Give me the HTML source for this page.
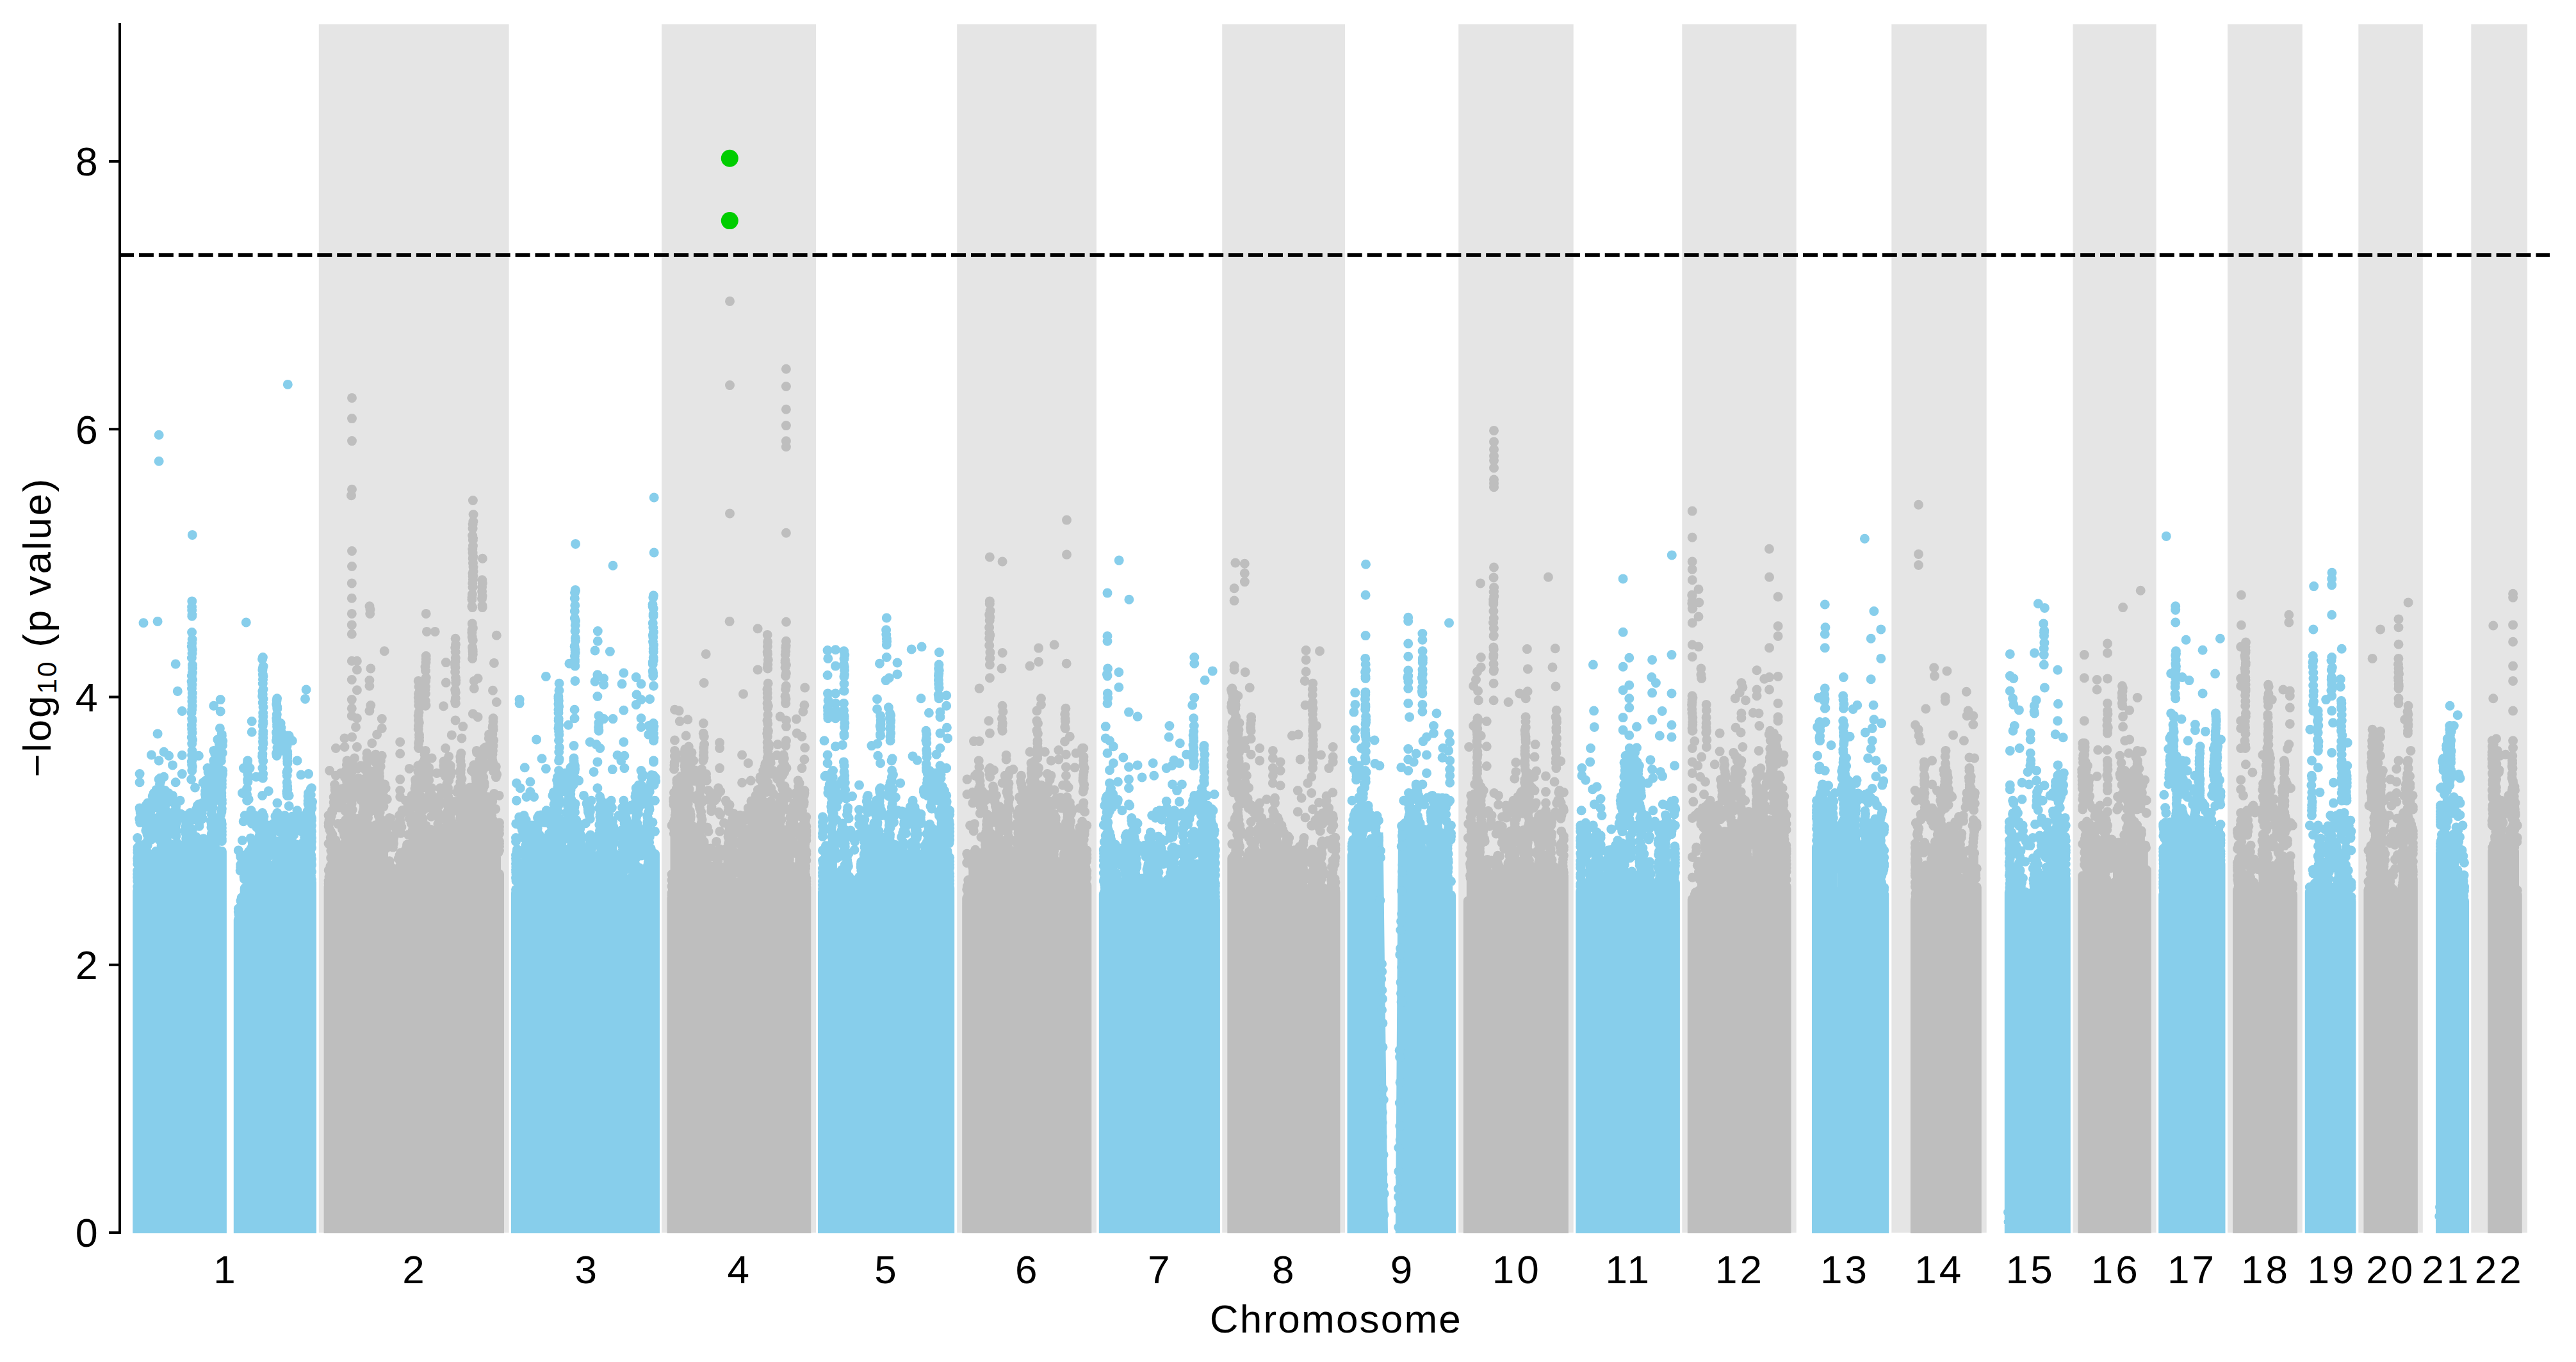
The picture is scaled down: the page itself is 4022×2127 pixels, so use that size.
<!DOCTYPE html>
<html><head><meta charset="utf-8"><title>Manhattan plot</title>
<style>html,body{margin:0;padding:0;background:#fff;overflow:hidden}svg{display:block}</style></head>
<body>
<svg width="4022" height="2127" viewBox="0 0 4022 2127">
<defs><clipPath id="ax"><rect x="187" y="38" width="3794" height="1888"/></clipPath></defs>
<rect width="4022" height="2127" fill="#fff"/>
<rect x="497.8" y="38" width="296.8" height="1887" fill="#E5E5E5"/>
<rect x="1033" y="38" width="241" height="1887" fill="#E5E5E5"/>
<rect x="1494.2" y="38" width="217.8" height="1887" fill="#E5E5E5"/>
<rect x="1908.2" y="38" width="191.8" height="1887" fill="#E5E5E5"/>
<rect x="2277.2" y="38" width="179.5" height="1887" fill="#E5E5E5"/>
<rect x="2626.3" y="38" width="178.4" height="1887" fill="#E5E5E5"/>
<rect x="2953.3" y="38" width="148.4" height="1887" fill="#E5E5E5"/>
<rect x="3236.5" y="38" width="130.1" height="1887" fill="#E5E5E5"/>
<rect x="3478" y="38" width="116.8" height="1887" fill="#E5E5E5"/>
<rect x="3682.3" y="38" width="100.5" height="1887" fill="#E5E5E5"/>
<rect x="3858.3" y="38" width="87.7" height="1887" fill="#E5E5E5"/>
<g clip-path="url(#ax)" fill="none" stroke-linecap="round" stroke-width="15">
<path stroke="#87CEEB" d="M214.7 1391V1940M215.1 1323.6h0M214.9 1327.3h0M214.9 1331.2h0M215.5 1336.4h0M214.7 1340.2h0M215 1344h0M214.8 1349.3h0M216.6 1355.2h0M214.7 1359.7h0M214.7 1365.6h0M214.7 1370.6h0M214.8 1375.9h0M216.6 1379.9h0M214.7 1384.7h0M216.1 1389.8h0M214.7 1394.4h0M214.7 1400.2h0M214.7 1404.6h0M219.8 1383.6V1940M219.3 1269.3h0M219.6 1274.8h0M217.8 1278.8h0M218.7 1284.6h0M218.3 1319.4h0M219.7 1323.6h0M217.6 1328.9h0M220.1 1333.6h0M219.8 1340h0M217.8 1345.3h0M221.4 1351.5h0M219.3 1357.4h0M217.8 1361.2h0M218.3 1364.9h0M217.6 1369.5h0M219.2 1373.4h0M220.3 1377h0M219.1 1380.9h0M221.3 1385.5h0M224.8 1378.2V1940M223.1 1368.7h0M224.8 1373.6h0M222.6 1380h0M225.5 1386.3h0M229.9 1367.7V1940M228.5 1257h0M231.2 1262.8h0M229.5 1269.3h0M228.4 1275.6h0M231.7 1279.5h0M231.3 1285.4h0M229.2 1291.8h0M227.8 1297h0M230 1303.4h0M231.5 1309.7h0M228.8 1315.7h0M230.3 1320.1h0M228.3 1324.3h0M229.7 1330.6h0M229.5 1335.8h0M230 1342.1h0M229.6 1347.1h0M231.2 1351.2h0M230.9 1355.2h0M230 1360.4h0M228.2 1365.5h0M228.9 1370.7h0M230.2 1376.5h0M235 1369.1V1940M233.6 1258.1h0M236.3 1262.4h0M235.1 1267.5h0M234.1 1297.9h0M236.9 1301.8h0M233.9 1307.2h0M236 1311.2h0M237 1353.3h0M233.8 1357.1h0M234 1363.3h0M236.1 1369.5h0M235.7 1375.4h0M240 1357.8V1940M238.2 1243.3h0M239.7 1247h0M240.1 1277.9h0M238.5 1282.1h0M239.2 1285.8h0M239.1 1290.2h0M239.4 1295.2h0M237.9 1298.7h0M238.7 1304.4h0M241.5 1335.4h0M239.6 1341.1h0M238.4 1345.6h0M239 1349.3h0M241.5 1353.3h0M239.1 1359.4h0M239.8 1363.6h0M245.1 1340.8V1940M244 1233.4h0M244.5 1239.8h0M245 1243.3h0M245.1 1248.3h0M243.3 1251.8h0M243 1256.5h0M245.5 1260.9h0M246.6 1291.5h0M246.1 1297.7h0M245.2 1303.6h0M243.5 1329.5h0M246.6 1334.1h0M245.6 1339.3h0M242.9 1344.8h0M245.1 1350.7h0M250.9 1220.1h0M249.5 1224.8h0M250.9 1231h0M249.8 1237.9h0M250.2 1358.8V1940M248.8 1239.3h0M250.8 1244.6h0M248.5 1250.1h0M252.2 1255.1h0M250.1 1258.9h0M250 1264.5h0M248.3 1275.5h0M248.3 1280.4h0M251.2 1301.9h0M250.6 1306.1h0M248.5 1311.5h0M251.8 1316.1h0M252.1 1320.8h0M251.2 1326.4h0M248.5 1331.1h0M249.4 1335.6h0M248.8 1340.3h0M249.1 1343.8h0M251.8 1347.5h0M251.3 1351.3h0M248.2 1357.3h0M248.6 1362.8h0M255.2 1342.8V1940M256.2 1255.5h0M255.9 1260.4h0M257.1 1264.7h0M254.5 1268.6h0M257.3 1273h0M254.3 1277.3h0M253.8 1282.5h0M257 1286.4h0M257 1291.4h0M253.6 1297.9h0M254.5 1302h0M254.2 1305.8h0M256.3 1311h0M255.3 1315.7h0M253.3 1320.4h0M253.6 1324.7h0M256.8 1329.7h0M254.1 1333.8h0M257.2 1338.5h0M253.1 1344.6h0M257 1348.2h0M253 1353.1h0M260.3 1366.1V1940M261.5 1245.4h0M262.4 1249.6h0M261.2 1253.4h0M260.6 1266.7h0M262.3 1270.3h0M260 1275.7h0M259.4 1281.5h0M259.2 1287.8h0M260.5 1293.7h0M259.5 1300.2h0M260.4 1306.2h0M259.9 1311.3h0M258.9 1316.8h0M258.4 1323h0M259.7 1327.1h0M261.2 1332.1h0M258.1 1336.7h0M258.4 1341.1h0M261.5 1346.1h0M259.3 1350.1h0M260.8 1356.3h0M260.2 1361.6h0M260.7 1367.9h0M265.4 1344.7V1940M263.4 1238.8h0M263.2 1279.6h0M267.4 1283.9h0M265.2 1302.7h0M265 1317.6h0M263.3 1323.5h0M267.2 1327.1h0M267.1 1331.4h0M267.4 1335.9h0M266.3 1341.3h0M263.2 1345.7h0M265.9 1351.5h0M264.2 1357.8h0M267.4 1362.7h0M270.4 1358.1V1940M268.3 1244.1h0M271.3 1250.4h0M272 1254.3h0M271 1286.6h0M272.6 1290.8h0M268.8 1297.2h0M269.3 1331.3h0M269.3 1339.7h0M271.1 1344h0M268.4 1347.8h0M269.2 1351.3h0M272.1 1356.1h0M270.9 1360.3h0M268.5 1366.3h0M275.5 1364.2V1940M274.9 1258.5h0M274.4 1262.4h0M274.2 1267.7h0M276.3 1271.2h0M274.2 1275.3h0M273.6 1281.2h0M275.7 1285h0M274 1290.4h0M274.5 1296h0M274.7 1300.4h0M275.1 1305.6h0M276.5 1316.3h0M277.3 1320.4h0M275.1 1325.2h0M274 1331.3h0M276.1 1334.9h0M276 1341.1h0M273.9 1345.7h0M277.4 1350.1h0M276.8 1353.9h0M273.8 1360.3h0M275.4 1366.6h0M275 1370.3h0M280.5 1376.5V1940M282.5 1271.2h0M279 1275.2h0M282.7 1326.2h0M281.1 1331.1h0M282.4 1360h0M278.7 1364.4h0M281.1 1379.2h0M285.6 1371.3V1940M287.2 1337.4h0M285.7 1343.8h0M284.9 1368.9h0M286.1 1372.6h0M285.7 1379h0M290.7 1403.9V1940M289.1 1280h0M290.7 1285.3h0M289.5 1291.5h0M288.5 1297h0M290.1 1301.5h0M291.1 1305.7h0M290.6 1309.8h0M288.9 1317.9h0M291.9 1323.4h0M288.5 1328.1h0M290 1333.5h0M292.6 1338.9h0M292.5 1344.6h0M290.3 1348.3h0M291.9 1352.5h0M292.6 1356h0M291.2 1359.9h0M292.1 1365h0M289.8 1369h0M291.9 1372.6h0M292.2 1378.3h0M291.7 1384h0M288.9 1388.9h0M290 1393.1h0M292.2 1398.8h0M290.9 1404.5h0M295.7 1392.5V1940M295.8 1283.4h0M293.7 1329.5h0M297.4 1335.9h0M296.1 1341.7h0M293.7 1346.9h0M294.3 1350.8h0M293.7 1357.2h0M293.7 1361.1h0M297.3 1364.8h0M297.7 1370.6h0M297.4 1375.7h0M295.2 1381.5h0M293.7 1385.7h0M296.9 1397.8h0M300.8 1377V1940M300 1271.4h0M299.7 1276.1h0M300.2 1280.5h0M300.4 1295.3h0M300.1 1300.1h0M299.6 1305.7h0M302.2 1311.8h0M299.5 1315.8h0M298.6 1321.6h0M302.1 1326.6h0M300.1 1330.7h0M302.8 1336.6h0M301.7 1341h0M301.4 1346h0M301.7 1349.7h0M300.2 1355.6h0M302.5 1360.3h0M298.7 1364.1h0M302.6 1368.2h0M302.5 1373.2h0M301 1377.4h0M301.5 1383.1h0M299.3 1387.7h0M301.9 1393.7h0M305.9 1384.4V1940M306.5 1263.8h0M304.9 1269.4h0M306.6 1307.2h0M304.3 1311.3h0M304.9 1315.7h0M307.4 1328.8h0M308 1333.6h0M304.8 1338h0M304.7 1343.7h0M306.3 1349.8h0M306.6 1355.2h0M306.5 1360.7h0M304.5 1365.9h0M304.8 1369.8h0M304.7 1375.4h0M304.4 1380.1h0M303.8 1386.1h0M310.9 1379.1V1940M312.2 1260.6h0M313 1265.3h0M309.5 1268.9h0M311.3 1279.8h0M311 1284.9h0M311 1290.3h0M309.9 1312.3h0M310.6 1317h0M310.3 1321.8h0M312 1326.1h0M309.7 1332.4h0M309.7 1338.3h0M312.3 1342.2h0M311.2 1347.6h0M310.3 1351.8h0M312.3 1357.2h0M311.2 1362.1h0M310.3 1366h0M310.4 1372h0M309.6 1376.3h0M310 1379.8h0M310.9 1384h0M316 1377.7V1940M315.5 1259.2h0M315.2 1262.9h0M315.3 1269.2h0M314.7 1274.5h0M316.5 1278.2h0M317.8 1309.8h0M315.1 1315h0M314.2 1319.9h0M314.3 1326h0M317.4 1329.8h0M315.9 1334.7h0M314.9 1341h0M317 1345h0M316.9 1348.9h0M315.9 1353.9h0M315.4 1364.2h0M314 1369.7h0M315.9 1381.3h0M320.8 1219.3h0M321.6 1223.7h0M321.2 1228.7h0M320.6 1235.5h0M320.4 1240.2h0M321.1 1357.7V1940M321.1 1243.8h0M322.4 1250.2h0M320.2 1254.7h0M322.3 1260h0M319.7 1322.7h0M322.9 1326.3h0M322.5 1331.7h0M320 1337.6h0M320.3 1342h0M323 1346.8h0M319 1350.5h0M321.4 1354.3h0M318.9 1360.6h0M323 1365.2h0M324.9 1199.8h0M325.1 1205.7h0M326.7 1209.7h0M326.8 1222.8h0M325.2 1227.5h0M326.8 1231.6h0M324.9 1238.2h0M326 1244.1h0M326.1 1357.3V1940M324 1249h0M328.2 1316.6h0M332.2 1197.8h0M332.3 1210h0M332.4 1216.4h0M331.4 1221.4h0M332 1227.8h0M331.5 1234.6h0M330.3 1240.6h0M332.1 1245.4h0M331.2 1353.9V1940M330.8 1247.6h0M332.7 1252.7h0M329.9 1257.1h0M332.5 1261.3h0M330.6 1265.6h0M330.1 1271.5h0M332.8 1277.7h0M329.4 1282.4h0M330.2 1286.8h0M329.9 1292.1h0M331.6 1298.2h0M330.2 1302.4h0M331.6 1306.2h0M332.7 1311.5h0M329.2 1320.6h0M331.1 1325.3h0M332.8 1331.3h0M332.1 1336.7h0M330 1340.5h0M331.2 1344.2h0M330.6 1348.3h0M329.8 1352.5h0M329.3 1358.8h0M333 1364h0M332.3 1368.3h0M335.7 1177.4h0M337 1181.4h0M336.7 1187.2h0M335.9 1192.6h0M336.1 1197.7h0M337.5 1210.8h0M337.3 1217.2h0M335.9 1221.4h0M337.6 1227.7h0M334.8 1234.5h0M335.1 1243.7h0M336.3 1358.8V1940M336.5 1246.4h0M336.2 1286.1h0M335 1290.5h0M338 1305.3h0M335.4 1309h0M337.6 1315.4h0M334.1 1320h0M334.9 1326h0M335 1330.8h0M334.9 1336h0M334.9 1341.8h0M336.7 1345.5h0M335 1350.5h0M337.6 1355.9h0M334.4 1361.1h0M337.2 1366.8h0M335.5 1370.5h0M339.9 1154.9h0M342.5 1161.6h0M342.3 1166.4h0M340.9 1171.5h0M341.4 1177.3h0M340.2 1182.6h0M342.4 1188.8h0M341 1193.7h0M342.5 1200h0M341.4 1206.8h0M341.3 1328.6V1940M341.9 1212.9h0M341.6 1216.9h0M343.2 1223.2h0M342.8 1228.9h0M340.2 1234.4h0M339.5 1239.2h0M341.2 1243.2h0M343.4 1287.3h0M340.9 1290.9h0M346.2 1146.5h0M347.8 1157.1h0M347.5 1164h0M347.3 1175.7h0M345.3 1179.8h0M345 1183.9h0M345.4 1188.2h0M347.7 1203.4h0M347.6 1208.7h0M346.4 1329.4V1940M346.4 1212.9h0M346.4 1218.9h0M346.4 1224.3h0M346.4 1229.2h0M345.3 1234.1h0M345.9 1238.3h0M345.8 1243.5h0M346.4 1249.6h0M346.4 1254.6h0M346.4 1263h0M345.9 1267.8h0M344.7 1272.6h0M345.7 1282.5h0M346.4 1287h0M346.4 1293.1h0M346.4 1298.8h0M346.4 1303.7h0M346.4 1310h0M346.4 1313.5h0M214.7 1308.6h0M218.9 1265.8h0M230.6 1254.1h0M240.3 1238.5h0M250 1215.2h0M257.8 1234.6h0M269.5 1242.4h0M281.2 1250.2h0M288.9 1273.5h0M296.7 1269.6h0M308.4 1258h0M316.2 1254.1h0M324 1199.6h0M333.7 1187.9h0M343.4 1137.4h0M346.4 1149h0M299.8 938.9h0M299.6 947.9h0M299.7 952.9h0M300 959.9h0M299.8 962.3h0M299.6 987.5h0M300.2 998.5h0M299.7 1004.5h0M299.3 1009.5h0M300.3 1014.5h0M300 1020.5h0M299.4 1027.5h0M300.5 1038.5h0M300.6 1043.5h0M300.4 1050.5h0M299.4 1055.5h0M300.5 1061.5h0M299.1 1064.5h0M299.9 1069.5h0M299.5 1075.5h0M300.3 1082.5h0M300 1089.5h0M299.9 1095.5h0M300.2 1102.5h0M299.7 1108.5h0M299.1 1113.5h0M299.6 1122.5h0M300.1 1125.5h0M299.4 1132.5h0M299.6 1138.5h0M300.1 1144.5h0M299.3 1151.5h0M300.6 1155.5h0M299.7 1161.5h0M300 1172.5h0M299.6 1179.5h0M300.2 1186.5h0M299.3 1189.5h0M299.6 1194.5h0M300.4 1197.5h0M299.8 1203.5h0M224 972.8h0M246.1 970.4h0M274.2 1037h0M277.3 1079.4h0M284.3 1110.5h0M246.1 1145.9h0M236.4 1179h0M248.1 1187.9h0M255.9 1174.3h0M263.7 1180.2h0M269.5 1194.9h0M284.3 1179.4h0M284.3 1208.6h0M310.4 1180.2h0M218.1 1208.6h0M218.1 1221.8h0M274.2 1221.8h0M298.7 1217.1h0M304.5 1230h0M317 1222.2h0M255.9 1213.2h0M248.1 1217.1h0M333.7 1102.3h0M344.2 1092.6h0M344.2 1110.9h0M333.7 1172.4h0M230.6 1254.9h0M218.1 1261.9h0M310.4 1256h0M318.1 1254.9h0M248.1 679.3h0M248.1 720.3h0M300.3 835.4h0"/>
<path stroke="#87CEEB" d="M372.3 1436.1V1940M372.3 1419h0M372.3 1424h0M372.8 1428.1h0M372.3 1438h0M377.3 1401.8V1940M375.5 1335h0M375.8 1338.5h0M378.9 1344.3h0M375.7 1350.5h0M375.7 1354.6h0M375.2 1359.7h0M376 1406.8h0M382.2 1387.1V1940M380.2 1282.7h0M380.6 1359.2h0M381.1 1365.1h0M381.1 1369.2h0M381.5 1372.8h0M387.2 1387.4V1940M387 1279.3h0M388.7 1329.5h0M385.5 1334h0M387.2 1339.2h0M386.4 1343.6h0M388.1 1347.8h0M389 1352.1h0M386.2 1364h0M387.9 1367.6h0M387.9 1372.2h0M388.7 1377.8h0M385.8 1382.3h0M385.7 1395.5h0M386.7 1399.6h0M387.8 1403.2h0M392.2 1389.7V1940M393.3 1286.2h0M391.4 1308.9h0M394 1314.7h0M394.4 1319.5h0M392.3 1324.8h0M392.2 1334.2h0M392.7 1339.8h0M390.9 1344.8h0M393.4 1350.3h0M394.2 1355.3h0M390.7 1361.3h0M391 1365.3h0M390.7 1369.5h0M392.8 1374.1h0M392.1 1378h0M390 1382.9h0M392.8 1388.5h0M393.1 1394.1h0M397.1 1391.5V1940M399.3 1324h0M398.1 1329.8h0M395.4 1336.2h0M395.8 1341.2h0M399 1346.3h0M399 1351.8h0M396 1357.2h0M398.3 1361.1h0M395.7 1367.1h0M402.1 1390.9V1940M400.1 1277.2h0M400.8 1292h0M402.7 1312.8h0M400.1 1341.2h0M404.1 1350.5h0M401.6 1354.6h0M402.9 1358.1h0M402.3 1363.3h0M402.2 1368.3h0M401.7 1373.7h0M403.5 1379h0M402.8 1384.7h0M401.5 1389.9h0M403.7 1395.4h0M407.1 1397.8V1940M405.2 1277.5h0M407.4 1283h0M407.3 1287.8h0M405.7 1292.5h0M405.4 1298.6h0M405.3 1304.7h0M407 1309.8h0M407.4 1315h0M407.4 1318.8h0M405.2 1322.6h0M409.2 1338.3h0M408.5 1344h0M409.1 1348.6h0M407.5 1366h0M408 1370.2h0M408.1 1391.6h0M407.9 1396.1h0M412 1386.4V1940M412 1275.1h0M411.4 1281h0M410 1285.5h0M411.4 1291.7h0M414.2 1297.3h0M412 1302.1h0M410.5 1305.8h0M412.8 1312.1h0M410.9 1318.1h0M411 1324.6h0M414.2 1329.5h0M410 1334.4h0M412.6 1340.4h0M413.5 1345.9h0M411.8 1352.3h0M412.1 1356.5h0M411.2 1361h0M410.8 1364.9h0M411.3 1370.9h0M411.2 1375.8h0M410.8 1380.3h0M412.5 1384.6h0M410.5 1390h0M414.2 1394.6h0M417 1399.7V1940M417.3 1289.7h0M416.3 1342.8h0M414.8 1361h0M416.7 1367.1h0M415.5 1372.4h0M416.1 1376.1h0M418.9 1381.7h0M415.6 1391.5h0M422 1406V1940M423.1 1294.4h0M419.8 1299.7h0M423.7 1303.4h0M420.2 1307.7h0M420.3 1312h0M423.3 1315.6h0M419.8 1320.8h0M419.8 1325.1h0M421.2 1329.6h0M421.9 1335.7h0M422.4 1351h0M421.1 1367.6h0M421.6 1373.1h0M420.4 1378.7h0M422.1 1382.3h0M421.3 1388.3h0M423.6 1392.8h0M422.5 1402h0M419.9 1407.9h0M426.9 1399V1940M427 1286h0M424.8 1292.3h0M428.1 1297.2h0M425.3 1309.8h0M427.2 1313.5h0M425.5 1322.1h0M428.1 1331.8h0M428.7 1350.4h0M425 1354.3h0M428.5 1359.7h0M426.5 1363.4h0M427.5 1369.6h0M425.9 1373.8h0M425.6 1378.6h0M426 1384.4h0M427.2 1390.9h0M428.5 1394.8h0M428.3 1399.1h0M426.9 1403.5h0M431.9 1390.6V1940M429.9 1274.8h0M433.1 1286.4h0M430.3 1291.2h0M433.2 1297.5h0M432.3 1344.8h0M432.9 1350h0M430 1353.6h0M432.1 1367.4h0M434.1 1372.8h0M433.9 1377.9h0M433.4 1381.6h0M430 1388h0M430.9 1393.6h0M436.8 1377.9V1940M434.7 1273.2h0M437 1278.7h0M439 1283.9h0M436.4 1290h0M438.9 1294.4h0M436.5 1299.1h0M437.3 1312.8h0M435.5 1317.5h0M438.1 1321.3h0M437.7 1327.5h0M437.1 1332h0M434.7 1336.4h0M436.9 1342.2h0M437.8 1357.4h0M437.3 1362.1h0M437.4 1367.6h0M437.3 1372.7h0M436.7 1377h0M436.7 1382.7h0M438.7 1386.9h0M437 1391.9h0M441.8 1382.4V1940M443.8 1275.6h0M443.6 1281.7h0M443.4 1286.2h0M442.7 1291h0M442.5 1295.6h0M442.5 1300.7h0M441.6 1305h0M442.8 1308.8h0M439.6 1312.8h0M442.5 1316.7h0M443.1 1322.1h0M439.6 1326.4h0M441 1330.6h0M440.7 1335.8h0M441.9 1340.1h0M440.2 1345.1h0M443 1351.4h0M441.3 1357.7h0M443.9 1361.3h0M440.7 1366.1h0M440.2 1370.3h0M443.4 1375.7h0M440.5 1380.9h0M441.6 1387h0M443.7 1391.7h0M440.1 1397.1h0M446.8 1402V1940M448.5 1283.6h0M446.8 1288.5h0M447.8 1294.4h0M447.6 1299.1h0M445.5 1310.1h0M447.9 1317.7h0M447.6 1322.8h0M444.8 1328.5h0M447.1 1334.1h0M446 1346.7h0M448.9 1351.7h0M446 1356h0M445.9 1370.2h0M448.3 1376.3h0M444.8 1380.6h0M446.6 1385.7h0M446.2 1390.7h0M448.6 1396.6h0M446 1401.8h0M447.1 1406.9h0M451.7 1399.8V1940M453.8 1278.7h0M452.7 1284h0M450.3 1288.1h0M450.1 1294.2h0M452.7 1305.3h0M450.5 1311h0M450.5 1340.9h0M451.5 1346.9h0M450.2 1357.9h0M453.4 1362.8h0M452.7 1368.7h0M452 1373.1h0M453.8 1382.7h0M450.8 1387.2h0M450.4 1392.7h0M451 1396.6h0M451.1 1401.3h0M456.7 1392.3V1940M456 1275.3h0M458.6 1281.1h0M458.3 1284.8h0M454.9 1290.1h0M458.4 1294h0M458.6 1300.1h0M458.8 1303.7h0M456 1313.7h0M457.8 1318.5h0M455.8 1322.6h0M454.9 1326.3h0M457.1 1331.4h0M456.8 1336.3h0M455.1 1340.1h0M456.2 1345.3h0M455.3 1350.8h0M458.2 1357.2h0M455.2 1363.3h0M455 1367.1h0M455 1372h0M456.9 1377h0M455.4 1382h0M455.1 1386.7h0M456.7 1390.9h0M458.7 1397.1h0M461.7 1391.5V1940M460.2 1277h0M462.9 1319h0M459.8 1323h0M460.3 1328.8h0M462.9 1333.2h0M460.1 1336.8h0M463 1341.8h0M463.5 1347.6h0M459.8 1353.2h0M459.6 1356.7h0M459.8 1361.8h0M463.3 1367.1h0M461.3 1370.8h0M462 1376.2h0M462.9 1382.1h0M462.5 1387.1h0M461.5 1391.5h0M460.2 1397.4h0M466.6 1396.6V1940M466.6 1352.4h0M468 1355.9h0M466.5 1360.7h0M466 1365.2h0M465.7 1371.2h0M467.5 1375h0M468 1379.8h0M464.6 1383.7h0M465.6 1389.6h0M465.4 1396h0M471.6 1398.8V1940M473.3 1276.1h0M473.2 1282h0M469.4 1288.4h0M470.5 1294.5h0M472.6 1299.7h0M472.7 1316.4h0M471.7 1320.7h0M470.7 1325.2h0M472.4 1329.6h0M471.1 1354.3h0M470.1 1358.7h0M473.6 1364h0M473.5 1369h0M473.4 1373.3h0M476.6 1392.3V1940M476.9 1278.8h0M475.9 1284.7h0M478.2 1288.7h0M475.1 1292.7h0M475.7 1297.1h0M475.7 1308.1h0M475.8 1314.5h0M475.5 1319.3h0M478.6 1324h0M478.4 1328.3h0M477.2 1333.1h0M475 1338.9h0M476.8 1344.7h0M475.6 1350.2h0M476.7 1354.8h0M475.5 1359.2h0M478 1365h0M478.5 1370.2h0M474.7 1374.5h0M477.4 1379.6h0M474.9 1384.4h0M478.6 1388.8h0M481.2 1243.6h0M481.1 1250.4h0M481.1 1255.6h0M481.5 1379.2V1940M480.3 1266.5h0M481.9 1275.8h0M480.3 1280h0M482.3 1285.6h0M480.3 1291.7h0M479.9 1297.8h0M483.6 1302.1h0M480.6 1308.4h0M481 1313.8h0M482.7 1320h0M482 1325.3h0M480.9 1331.5h0M479.7 1336.8h0M479.9 1340.3h0M481.3 1346.7h0M481.5 1352.5h0M482 1358.9h0M481.4 1362.5h0M483.5 1367.5h0M480.3 1373.9h0M480.6 1379h0M482.5 1385.4h0M485.8 1231.7h0M485.3 1241.6h0M487.6 1252h0M486.6 1256.2h0M486.9 1262.1h0M486.5 1377.4V1940M485.1 1266.3h0M485 1271.7h0M486.5 1277.4h0M486.5 1281h0M485.2 1286.7h0M485.6 1292.5h0M486.5 1298.3h0M485.9 1303.7h0M486.5 1308.4h0M486.5 1314.2h0M485.7 1319.6h0M486.5 1324.1h0M484.4 1329.7h0M485.8 1335.3h0M486.5 1341.4h0M485.8 1346.4h0M486.5 1350.8h0M485.4 1356.9h0M486.5 1361.5h0M485.5 1367.9h0M486.5 1373.8h0M486.5 1379.5h0M484.8 1384.3h0M372.3 1328h0M378.4 1312.5h0M382.3 1273.5h0M392.1 1265.8h0M397.9 1273.5h0M409.6 1269.6h0M421.2 1289.1h0M432.9 1269.6h0M444.6 1273.5h0M452.4 1277.4h0M464 1265.8h0M475.7 1273.5h0M481.6 1238.5h0M486.5 1230.7h0M486.5 1289.1h0M410.4 1026.5h0M409.6 1029.5h0M411.1 1040.5h0M410.3 1043.5h0M409.9 1046.5h0M410.4 1053.5h0M410.9 1056.5h0M410.5 1061.5h0M410.3 1067.5h0M411 1076.5h0M409.9 1079.5h0M410.2 1084.5h0M409.7 1087.5h0M411.1 1091.5h0M410.3 1097.5h0M411 1104.5h0M410.7 1113.5h0M410.8 1119.5h0M410.7 1126.5h0M410.9 1129.5h0M410.2 1133.5h0M410.9 1142.5h0M410.7 1146.5h0M410.7 1152.5h0M410.5 1158.5h0M411 1161.5h0M410.2 1168.5h0M409.9 1177.5h0M409.6 1181.5h0M410.8 1188.5h0M409.9 1199.5h0M410.7 1208.5h0M409.9 1211.5h0M410.4 1215.2h0M432.6 1090.7h0M432.1 1093.7h0M431.7 1099.7h0M432.6 1103.7h0M432.8 1106.7h0M432.3 1115.7h0M431.8 1121.7h0M432.1 1125.7h0M432.6 1131.7h0M432.6 1134.7h0M431.5 1143.7h0M432.6 1147.7h0M432.3 1151.7h0M431.5 1156.7h0M432.9 1167.7h0M432.8 1173.7h0M431.5 1176.7h0M432.2 1179.7h0M432.1 1180.2h0M438.1 1129.6h0M438.9 1136.6h0M439.2 1143.6h0M438.1 1150.6h0M439 1153.6h0M438.4 1160.6h0M439 1166.6h0M438.8 1172.4h0M448.9 1149h0M448 1152h0M449 1159h0M448 1165h0M448.7 1174h0M448.8 1178h0M448.7 1181h0M448.6 1184h0M448.8 1189h0M448.9 1192h0M449.1 1203h0M447.8 1206h0M448.2 1211h0M448.2 1222h0M448.7 1228h0M448.9 1233h0M447.8 1236h0M447.9 1239h0M448.5 1242.4h0M386.7 1187.9h0M386.3 1191.9h0M387 1197.9h0M386.3 1204.9h0M386.9 1208.9h0M386.6 1217.9h0M386.9 1220.9h0M385.5 1231.9h0M385.5 1240.9h0M385.6 1249.9h0M386.2 1250.2h0M384.3 972h0M393.2 1126.5h0M393.2 1143.2h0M478.1 1077h0M476.5 1091.4h0M451.2 1149h0M456.3 1156.8h0M464 1187.9h0M469.9 1210.1h0M481.6 1208.6h0M380.4 1199.6h0M390.1 1199.6h0M399.8 1213.2h0M409.6 1242.4h0M419.3 1235.4h0M378.4 1238.5h0M388.2 1248.2h0M451.2 1242.4h0M432.9 1254.1h0M451.2 1258.8h0M485.4 1231.9h0M449.3 600.4h0"/>
<path stroke="#BEBEBE" d="M513.1 1384.3V1940M514 1281h0M513.1 1285.2h0M513.1 1289.7h0M515 1296.1h0M513.1 1317.5h0M513.2 1359.1h0M515 1364.5h0M513.9 1369.2h0M513.1 1375.6h0M513.1 1380h0M515.3 1384.3h0M513.9 1388.3h0M514.2 1393.9h0M513.1 1398.1h0M518.1 1377.4V1940M518.8 1268.8h0M517.3 1274.1h0M516 1277.8h0M516.4 1282.4h0M516.4 1298.7h0M519 1303.2h0M516.3 1308h0M519.6 1314.3h0M516.9 1317.9h0M518.9 1323.9h0M516.8 1328.3h0M518.8 1334.5h0M516.7 1339.7h0M520.3 1343.7h0M518.4 1348.3h0M516 1352.5h0M520.2 1358.6h0M516.5 1363.1h0M517.5 1369h0M517 1374.1h0M517.6 1380h0M516.8 1385.8h0M517.5 1389.9h0M523.2 1348.6V1940M522.6 1225.6h0M523.1 1230h0M523.1 1233.8h0M525 1238.5h0M521.2 1244.8h0M522.9 1248.8h0M521.2 1253.1h0M521.9 1258.1h0M524 1312.2h0M523.2 1317.2h0M523.8 1334.3h0M521.6 1340.1h0M524.9 1344.7h0M524.7 1349.2h0M528.2 1333.9V1940M530.2 1245.2h0M528.2 1249.4h0M530.3 1255.7h0M529.6 1261.1h0M527.6 1286.6h0M527 1326.5h0M528 1330.5h0M533.2 1337V1940M534.3 1231.7h0M531.3 1235.7h0M533.9 1240.3h0M533 1246h0M534 1251h0M533.5 1255.6h0M532.1 1260.4h0M534 1286h0M535.1 1290.1h0M534.4 1295h0M538.2 1322V1940M539.9 1203.6h0M538.1 1209h0M538.4 1213.8h0M536.3 1261.9h0M539.4 1266.8h0M539.5 1280.9h0M537.1 1286.9h0M540 1290.9h0M536.1 1296.8h0M536.9 1300.5h0M537.6 1305.4h0M539.9 1309.8h0M536.3 1318.6h0M543.3 1299.3V1940M541.3 1194.2h0M542.8 1198.2h0M544.6 1203.8h0M543.6 1209.7h0M544.6 1213.8h0M541.5 1219.7h0M541.7 1225.2h0M541.5 1229.2h0M542.2 1234.6h0M544.2 1239.4h0M542 1243h0M544.1 1247.4h0M541.8 1262.3h0M544.7 1266.5h0M542.4 1278h0M543.7 1283.7h0M543.3 1287.5h0M544.9 1291.4h0M541.6 1296.3h0M542.7 1301.3h0M544.5 1307h0M542.8 1310.8h0M544 1315.7h0M548.3 1302.5V1940M548.4 1188.7h0M547.5 1194.5h0M546.5 1198.1h0M549.9 1204.4h0M546.4 1210.7h0M549 1216.3h0M547.6 1222.4h0M549.2 1227.4h0M546.2 1233.1h0M548.4 1239.3h0M549.7 1244.9h0M547.1 1250.2h0M549.2 1254.9h0M548.1 1259.5h0M550.2 1264.6h0M547.8 1270.9h0M549.7 1275.1h0M547 1280.9h0M550.1 1286.7h0M548.3 1291.7h0M548.3 1297.6h0M550.4 1303.6h0M549.3 1308.9h0M553.3 1308.1V1940M554.5 1197.5h0M558.3 1313.5V1940M558.2 1200.3h0M560 1215.4h0M557.8 1221.6h0M556.4 1227h0M557.5 1233.1h0M558.9 1238h0M557.5 1244.1h0M558.5 1278.6h0M559.9 1284.8h0M558.2 1290.3h0M556.7 1295.5h0M557.4 1302h0M556.6 1307h0M556.4 1312.9h0M563.4 1313.8V1940M562.5 1198.8h0M563.4 1249.4h0M562.7 1296.6h0M568.4 1311.2V1940M570 1201.6h0M567.1 1217.3h0M569.4 1222.4h0M570 1228.9h0M567.6 1233.5h0M566.8 1238.9h0M567.5 1244.2h0M569.6 1248.9h0M567.4 1254.2h0M568.4 1259.3h0M567.7 1264.3h0M566.6 1268.9h0M569.3 1274.6h0M568.2 1280.6h0M566.4 1286.6h0M568.4 1292.5h0M570.4 1298.1h0M569.1 1303.5h0M569.2 1309.2h0M567.9 1314.6h0M573.4 1290.4V1940M573 1183.8h0M575.2 1187.9h0M572.6 1193.8h0M572.8 1198.7h0M573.6 1204.9h0M573.3 1211.2h0M573.9 1215.7h0M572.8 1221.5h0M575.2 1226.2h0M572.7 1231.3h0M574.3 1237.3h0M571.5 1240.8h0M572.2 1246.8h0M574.4 1250.4h0M575.4 1256.1h0M571.6 1261.2h0M572.1 1267.5h0M572.9 1273.3h0M574.5 1277h0M571.4 1282.3h0M571.3 1286h0M571.7 1291.6h0M573.9 1295.6h0M572.8 1301.1h0M578.4 1293.2V1940M576.4 1181.2h0M578.2 1219.4h0M579.1 1223h0M576.5 1228h0M578.4 1233.9h0M579.1 1239.4h0M577.9 1261.7h0M578.4 1267.2h0M578.8 1289.9h0M578.7 1294.4h0M578.8 1300.3h0M583.5 1308.5V1940M583.9 1204.6h0M585.1 1208.5h0M585.2 1213.9h0M583.2 1219.8h0M584.9 1224.4h0M582.4 1228.8h0M583.5 1234.6h0M584.7 1239.6h0M582.5 1245.2h0M584.3 1250.6h0M584.8 1296h0M583.9 1302.2h0M582.6 1308.3h0M588.5 1307.8V1940M587.1 1185.9h0M587 1190.9h0M589.8 1197.2h0M590.3 1226.7h0M589.6 1232.6h0M589.9 1236.8h0M587 1243.2h0M588.1 1248.8h0M588.4 1252.8h0M587.9 1257.8h0M588.9 1262.9h0M587.9 1266.9h0M586.4 1288.7h0M587.5 1292.9h0M590.5 1298.2h0M590.5 1303.8h0M593.5 1306.3V1940M592.2 1183.7h0M594.4 1188.1h0M592.2 1193.4h0M594.2 1197.1h0M591.8 1202.8h0M592.2 1207.2h0M592.5 1212.4h0M592.6 1218.9h0M593.6 1225h0M593.7 1229.6h0M595.7 1233.6h0M592.2 1239.9h0M594.6 1243.7h0M593 1250.1h0M593.9 1256.6h0M595 1262.2h0M593.2 1268.3h0M591.4 1274.5h0M593.7 1278.1h0M592.9 1282.8h0M593 1286.7h0M592 1291.8h0M591.9 1295.6h0M591.7 1300.1h0M594.6 1305.1h0M598.5 1308.5V1940M600.7 1225.1h0M600.4 1229.3h0M599.8 1233.4h0M596.7 1239.2h0M599.8 1245h0M597.1 1249.8h0M596.8 1254.6h0M598.9 1259.6h0M596.6 1280.7h0M597.2 1285.7h0M597.3 1290.4h0M597.4 1294.7h0M599.3 1299.6h0M598.7 1303.4h0M597.4 1307.8h0M596.5 1313.3h0M596.7 1318h0M597.2 1321.8h0M603.6 1359.8V1940M604.3 1248.1h0M604.5 1283.3h0M602.8 1289.2h0M604.6 1292.8h0M603 1297.4h0M605.7 1303h0M601.8 1307.8h0M604.2 1313.5h0M604.5 1317.5h0M604.3 1321.3h0M602.9 1324.8h0M603.7 1357.2h0M603 1362.1h0M602.4 1367.2h0M603.6 1371.5h0M608.6 1391.7V1940M609.2 1284.1h0M608.5 1289h0M608 1344.8h0M607.9 1348.4h0M609.1 1353.1h0M607.7 1359.3h0M608.5 1365.2h0M607.2 1370.8h0M610.3 1374.6h0M607.9 1378.3h0M607.7 1383h0M609.2 1387h0M606.7 1392.6h0M606.6 1398.2h0M608.3 1402.2h0M608.6 1406.1h0M613.6 1398.2V1940M614.6 1308.8h0M613.9 1312.9h0M614.5 1317.1h0M613.5 1323.1h0M612.9 1355.9h0M613.3 1360.6h0M614.2 1365.1h0M612.8 1370.1h0M613.5 1375h0M613.5 1378.6h0M614.1 1383.9h0M612.1 1388.8h0M614.8 1395.1h0M615.3 1400.9h0M614.5 1405.3h0M618.7 1391.7V1940M617.7 1292.2h0M620.8 1297.8h0M618.6 1301.8h0M623.7 1397.6V1940M624.6 1281h0M625.3 1286.8h0M624.6 1291.2h0M622.7 1296.9h0M625.8 1301.3h0M625.6 1331.7h0M624.1 1335.5h0M622.1 1341h0M625.5 1347h0M624.2 1353.3h0M625.1 1357.5h0M622.3 1362.4h0M624.1 1366.8h0M625.5 1370.7h0M621.7 1374.3h0M622.8 1379.9h0M622.4 1385.6h0M625.8 1391.9h0M621.7 1397.1h0M625.7 1401.5h0M628.7 1382.1V1940M628.2 1265.6h0M626.9 1291.6h0M627.7 1364.4h0M628.9 1386.1h0M633.7 1376.8V1940M635.6 1319.1h0M634.9 1323.2h0M632.5 1328.4h0M634.7 1334.3h0M634.4 1338.4h0M631.8 1343.1h0M632.2 1348.5h0M632 1353.6h0M638.8 1359.3V1940M639.9 1254.5h0M636.7 1259.4h0M637.9 1263.5h0M638.9 1268.2h0M639.3 1272.4h0M637.5 1303.6h0M636.9 1371.4h0M640.1 1375.1h0M643.8 1346.3V1940M643.9 1256.3h0M642.1 1285.8h0M645.4 1289.4h0M644.9 1293.5h0M643.9 1297.8h0M645.5 1302.6h0M643.4 1306.8h0M645.6 1310.4h0M644.7 1314.8h0M642.1 1318.5h0M641.7 1322.9h0M643.7 1327.6h0M642.6 1331.1h0M642.4 1334.9h0M645.2 1339.9h0M642.6 1344.7h0M644.9 1350.7h0M643.4 1354.5h0M642 1359.8h0M644.2 1363.5h0M648.8 1331.4V1940M648.6 1217.8h0M649.4 1222.2h0M648.9 1227.3h0M648 1231.8h0M648 1237.8h0M647.7 1280.5h0M649.6 1286.1h0M647.4 1292.4h0M650.1 1297.8h0M648.9 1301.9h0M654 1196.7h0M654.4 1200.8h0M652.9 1205h0M655 1210.1h0M654.1 1215.5h0M652.9 1227h0M653.8 1354.6V1940M652.1 1231.6h0M652.6 1235.6h0M655.4 1241.6h0M653.4 1246h0M653.3 1249.6h0M655.9 1257.7h0M651.7 1261.9h0M654.2 1265.7h0M652.9 1270.7h0M656 1277.1h0M655.4 1283.3h0M655.2 1286.8h0M655.2 1292.4h0M652.8 1296.4h0M654.8 1301.1h0M654.4 1306.3h0M655.2 1311.6h0M655.7 1316.8h0M653.1 1321.4h0M654.5 1327h0M655.1 1332.5h0M655 1337.4h0M654.4 1341.8h0M654.6 1347.7h0M652.2 1353.9h0M659.7 1191.8h0M660.3 1197.7h0M658.7 1202.3h0M658.6 1206.3h0M659.9 1213.2h0M658.1 1219.5h0M658.9 1337.3V1940M660.1 1225.2h0M661 1230h0M658.3 1249.2h0M657.1 1270.5h0M658.6 1276h0M659.9 1281h0M660.4 1285.9h0M658.5 1290.3h0M656.7 1295.6h0M658 1314.2h0M658.4 1318.4h0M659.6 1324.6h0M659.5 1329.4h0M659.9 1334.6h0M656.9 1339h0M657.3 1343.4h0M663.1 1178.5h0M663.2 1185.2h0M664.6 1191.4h0M662.8 1203.9h0M662.7 1210.3h0M663.9 1330.5V1940M665.1 1222.1h0M662.9 1228.4h0M663.1 1248.4h0M663 1252.3h0M662.2 1258h0M662.3 1263.9h0M665.1 1289.4h0M665.4 1295.2h0M665.4 1301.7h0M664.7 1307.9h0M664.2 1313.5h0M664.1 1317.8h0M665.6 1321.7h0M664.7 1325.9h0M665.1 1329.8h0M662.9 1334.2h0M665.3 1340h0M663.2 1344h0M669.7 1198.9h0M667.7 1203.2h0M670 1207.9h0M667.5 1213.1h0M669.8 1218.2h0M668.9 1341.6V1940M668.6 1227.5h0M668.6 1231.9h0M670.6 1236.7h0M669.5 1242.6h0M667 1246.4h0M668.9 1251.2h0M669.8 1255.9h0M667.6 1261.3h0M670.6 1298.2h0M669.4 1304h0M667.8 1309.3h0M669.8 1314.3h0M669.1 1320.2h0M670.6 1325.2h0M671.1 1330h0M669.7 1335.7h0M671.1 1339.5h0M668.4 1343.9h0M673.9 1349.4V1940M672 1235.8h0M673.7 1240.8h0M673.3 1247.3h0M675.9 1252h0M673.6 1257.3h0M673.9 1261.5h0M673.3 1275.2h0M672 1295.2h0M673.4 1300.7h0M673.1 1307h0M674.6 1310.7h0M673.9 1314.8h0M674.5 1318.4h0M672.8 1322.8h0M675.3 1326.8h0M673.3 1331.7h0M674.6 1337.6h0M672.6 1342.3h0M674.1 1348.7h0M673.2 1354.1h0M671.8 1358.3h0M679 1367.1V1940M679.3 1246.9h0M679.6 1251.1h0M678.3 1256.3h0M679.8 1311h0M680.3 1314.9h0M678 1320.3h0M680.8 1325.3h0M676.9 1331.8h0M677.6 1336.1h0M678 1340.1h0M681 1344.7h0M678.6 1349.1h0M680.7 1354.5h0M680.8 1360.3h0M681 1364.9h0M677.8 1370.6h0M684 1364.4V1940M685.8 1257.6h0M682.3 1261.9h0M682.6 1266.5h0M683.8 1270.8h0M685.2 1275.2h0M685.8 1280.9h0M683.9 1286.8h0M685.7 1291.2h0M685.9 1296.6h0M684.9 1302.7h0M685.5 1306.9h0M684.7 1311.5h0M683.7 1315.6h0M684.9 1322h0M682.3 1325.6h0M682.6 1329.6h0M684.5 1335.5h0M682.8 1341.6h0M685.9 1347.4h0M686 1351.9h0M684.2 1362.6h0M685.5 1368.9h0M684.4 1374.7h0M689 1349.7V1940M687.3 1230.7h0M689.6 1235.8h0M688 1241.7h0M689.1 1277.3h0M689.6 1311.9h0M689 1317.4h0M690.2 1347.5h0M688.6 1351.6h0M692.9 1189.1h0M692.8 1195.8h0M693.1 1202.4h0M694.1 1315.4V1940M692.4 1208h0M695.9 1212.7h0M695 1324h0M694.5 1328.7h0M699.1 1287.5V1940M700.7 1181.4h0M699.8 1193.1h0M700.7 1198h0M697.4 1204.2h0M700.4 1208.2h0M700.5 1212.8h0M700.9 1218.4h0M697.8 1224.9h0M699.4 1230.5h0M700.2 1236.4h0M696.9 1240.3h0M700 1245h0M698.8 1251.5h0M697.3 1255.7h0M700.1 1261h0M700.1 1266h0M697 1269.7h0M697.6 1274h0M698.8 1279h0M700.7 1283.5h0M701.2 1288.6h0M699.9 1292.9h0M698.2 1297.7h0M699.6 1303.3h0M704.1 1328.1V1940M705.2 1205.9h0M703.6 1210.6h0M703.4 1252.7h0M701.9 1258.2h0M702.2 1263.9h0M705.5 1268.2h0M703 1273.3h0M703.4 1277.7h0M705 1283.5h0M702.4 1289.7h0M703 1293.3h0M704.5 1298.4h0M706.2 1303.2h0M702.1 1309h0M705.6 1315.4h0M703.5 1319.3h0M702.3 1325.4h0M706.2 1329.5h0M709.1 1361.3V1940M710.4 1252.1h0M709.5 1255.9h0M708.1 1261.4h0M711.1 1292.3h0M707.7 1297.1h0M709.8 1301.7h0M707.2 1307.7h0M710.5 1311.8h0M710.9 1322.9h0M708.2 1328.3h0M708.9 1332.4h0M707.5 1336.4h0M708.6 1340.9h0M709.6 1346.7h0M707.3 1351.6h0M709.7 1357.4h0M709.6 1363.5h0M710.7 1367.4h0M707.7 1371h0M714.2 1355.1V1940M715.3 1231.4h0M713.5 1237h0M715.5 1298.8h0M714.3 1303.9h0M712.4 1308.6h0M712.6 1314.8h0M715.5 1320.4h0M713 1329.6h0M714.3 1335.4h0M714.3 1341.2h0M713.7 1347.4h0M716.2 1352.4h0M719.9 1176.5h0M718.8 1181.9h0M719 1188.6h0M719.2 1316.3V1940M720.1 1195.5h0M719.4 1201.9h0M719.1 1207h0M719.5 1213h0M721 1216.6h0M718.7 1221.5h0M719.8 1225.7h0M720.7 1230.6h0M719.3 1236.8h0M720.7 1242h0M718.9 1248.4h0M720.1 1253.2h0M718 1263.8h0M718.7 1268h0M718.8 1272.4h0M718.7 1278.6h0M719.5 1284.3h0M719 1289.7h0M717.4 1295.8h0M719.8 1302.1h0M720.2 1307.1h0M718 1313.4h0M719.6 1318h0M724.2 1378.3V1940M725.7 1256.4h0M723.7 1290.4h0M726.2 1296.9h0M726.2 1301.1h0M723.6 1305.4h0M726.1 1345.4h0M723.5 1349.1h0M726.4 1353.1h0M725.5 1359h0M724.3 1370.5h0M725 1376.9h0M729.2 1361.1V1940M731.3 1247.2h0M730 1271.1h0M727.6 1277.1h0M730 1281.9h0M731.4 1287.5h0M728.4 1291.1h0M728.1 1294.8h0M731.1 1298.6h0M728 1304h0M727.5 1307.8h0M728.7 1323.8h0M730 1328.7h0M729.2 1332.5h0M730.5 1336.2h0M730 1342.3h0M728.7 1347h0M729.2 1350.9h0M727.5 1357.2h0M727.7 1362.5h0M730.6 1367.1h0M734.3 1339.8V1940M733.6 1229.9h0M733.4 1236.4h0M734.8 1241.3h0M732.1 1247.6h0M734 1251.3h0M734.8 1254.9h0M733.9 1259h0M734.8 1265.4h0M735.5 1270.5h0M733.5 1274h0M732.2 1280.2h0M735.6 1284.6h0M733.8 1288.4h0M734 1293.5h0M736.1 1299.9h0M732.7 1305.7h0M735 1309.3h0M733.2 1314.7h0M732.1 1320.9h0M732.4 1325.4h0M735.6 1331.9h0M732.6 1335.4h0M735.5 1341.1h0M739.3 1297.5V1940M739.9 1194.7h0M738.1 1201.1h0M740.1 1206.7h0M738 1263.7h0M739.1 1270.2h0M737.3 1276.5h0M738.1 1281h0M737.5 1287.3h0M739.2 1291.1h0M740.1 1297.2h0M737.6 1300.8h0M739.8 1306.9h0M738.6 1311.7h0M739.1 1317.1h0M744.3 1300.1V1940M744.5 1175.1h0M746.4 1195.1h0M742.6 1201h0M742.7 1205.1h0M742.1 1208.7h0M743 1213h0M743.2 1216.5h0M743.7 1221h0M745.8 1225.4h0M742.1 1231.1h0M745.7 1240.2h0M744.3 1246.4h0M743.5 1251.6h0M744.9 1256.9h0M742.4 1262.3h0M745.9 1265.8h0M745.5 1272h0M743 1276.1h0M745.8 1282.1h0M743.8 1296.6h0M742.9 1300.4h0M749.3 1290.2V1940M748.9 1186.7h0M748.5 1191.6h0M748.8 1215.3h0M751.4 1221.6h0M749.6 1226.2h0M750.1 1237h0M751.2 1243.2h0M748 1246.9h0M751.1 1250.9h0M750.4 1255.7h0M749 1259.4h0M751.4 1263.7h0M750.3 1268.5h0M747.3 1274.6h0M750 1279.6h0M748.5 1283.6h0M751 1288.5h0M749.2 1293.4h0M754.4 1288.7V1940M756.4 1170.4h0M753.6 1174.8h0M755.7 1180.5h0M753.1 1184h0M753.9 1188.6h0M754.7 1195h0M754.8 1201.4h0M752.3 1207.4h0M754.7 1213.8h0M753.8 1217.5h0M756.2 1222.9h0M756.1 1227.5h0M754.3 1231.7h0M753.1 1238.1h0M754 1244h0M755.7 1249.9h0M752.8 1268.1h0M752.9 1273.1h0M756 1279.2h0M754.2 1283.2h0M756.2 1287h0M754.8 1292.7h0M758 1167h0M758.6 1173.6h0M759.6 1178h0M759.4 1296.6V1940M758.6 1192.9h0M758.3 1197.8h0M761.6 1244.7h0M760.3 1267.8h0M759.4 1273.8h0M760.9 1278.7h0M757.6 1282.5h0M758.2 1287.2h0M757.4 1292.5h0M759.9 1297h0M763.6 1146.9h0M763.3 1153h0M765.8 1159.3h0M764.6 1163.6h0M764.4 1288.7V1940M764.5 1246h0M765.8 1250.4h0M763.5 1255.3h0M764.6 1259.6h0M765 1283.5h0M770 1135h0M770.3 1139.4h0M768.3 1145.5h0M768 1150.1h0M770.7 1156h0M768.8 1167.1h0M769 1178h0M769.4 1299.7V1940M768.3 1183.4h0M768.9 1187.4h0M770 1192h0M769.5 1195.7h0M768.8 1199.2h0M770.7 1204.8h0M771.4 1239.4h0M769.2 1245.4h0M768.7 1251.8h0M767.7 1274h0M768.9 1279.9h0M769.6 1300.5h0M768.2 1304.8h0M774.5 1308.6V1940M774.4 1197.3h0M773.5 1202.8h0M775.7 1209.2h0M774.4 1213.6h0M773.8 1263.4h0M775.9 1292.7h0M776 1297.9h0M773.9 1302.1h0M775.3 1305.9h0M776.1 1310.8h0M775.3 1314.6h0M773.4 1319.7h0M779.5 1365V1940M779.5 1284.9h0M779.5 1291h0M779.2 1296.5h0M779.5 1301.8h0M777.3 1308h0M779.5 1313.8h0M779.5 1317.5h0M779.5 1322.1h0M777.6 1326.2h0M778 1331.4h0M778.8 1366.1h0M779.5 1370.5h0M513.1 1273.5h0M518.5 1265.8h0M524.4 1211.3h0M532.1 1207.4h0M541.9 1187.9h0M553.5 1184h0M563.3 1195.7h0M573 1176.3h0M586.6 1178.2h0M596.3 1180.2h0M602.2 1230.7h0M608 1277.4h0M615.8 1289.1h0M623.6 1273.5h0M633.3 1250.2h0M643 1242.4h0M652.8 1195.7h0M664.4 1172.4h0M674.2 1230.7h0M685.8 1250.2h0M695.6 1168.5h0M703.3 1195.7h0M711.1 1261.9h0M720.9 1152.9h0M724.7 1265.8h0M736.4 1203.5h0M744.2 1172.4h0M755.9 1168.5h0M769.5 1133.5h0M779.2 1242.4h0M779.5 1328h0M577 946.7h0M578 951.7h0M577.7 958.4h0M665.2 1024.5h0M665.2 1029.5h0M665 1034.5h0M664 1041.5h0M664.5 1047.5h0M665.2 1058.5h0M664.7 1063.5h0M664.4 1072.5h0M664 1076.5h0M664.4 1083.5h0M664.3 1094.5h0M663.7 1097.5h0M665 1101.5h0M664.4 1102.3h0M653.2 1063.4h0M654 1072.4h0M653.5 1083.4h0M653.3 1089.4h0M653.8 1095.4h0M653.7 1101.4h0M654 1112.4h0M653.2 1117.4h0M653.4 1124.4h0M654.4 1128.4h0M653.4 1133.4h0M653.2 1138.4h0M654.5 1147.4h0M654.6 1151.4h0M654.6 1156.4h0M653.6 1160.4h0M653.3 1167.4h0M653.9 1168.5h0M711.1 997.3h0M711.5 1006.3h0M710.7 1011.3h0M711.2 1018.3h0M711.3 1027.3h0M711 1033.3h0M710.5 1038.3h0M710.9 1042.3h0M710.6 1049.3h0M711.5 1058.3h0M711.8 1062.3h0M711.6 1066.3h0M710.6 1077.3h0M711.4 1081.3h0M711.3 1090.3h0M710.5 1095.3h0M711.4 1098.3h0M711.1 1098.4h0M738.2 900h0M737.8 911h0M738 917h0M737.4 928h0M737 933h0M736.9 936h0M736.9 947h0M737.6 948.6h0M737.3 973.9h0M738.4 980.9h0M737.1 983.9h0M736.9 987.9h0M737.2 994.9h0M738.3 999.9h0M737.5 1010.9h0M738.1 1014.9h0M738.2 1017.9h0M738.3 1021.9h0M737.6 1028.4h0M752.8 905.8h0M753.3 910.8h0M752.6 916.8h0M752.6 923.8h0M753.1 930.8h0M752.5 934.8h0M753 945.8h0M753.2 948.6h0M770.1 1121.8h0M770 1126.8h0M769.1 1135.8h0M768.8 1146.8h0M769.7 1157.8h0M769.9 1164.8h0M768.8 1167.8h0M769.5 1172.4h0M739.1 803.5h0M738.9 814.5h0M738.2 818.5h0M738.1 825.5h0M737.7 836.5h0M738.6 840.5h0M738.4 843.5h0M738.5 852.5h0M737.8 857.5h0M738.1 863.5h0M738.7 869.5h0M738.3 872.5h0M738.5 879.5h0M739 885.5h0M739 892.5h0M738.1 895.5h0M738.8 899.5h0M738.4 905h0M549.3 910.9h0M549.3 934.2h0M549.3 958.4h0M549.3 975.9h0M549.3 990.3h0M549.3 1032.3h0M557.4 1032.3h0M557.4 1045.9h0M549.3 1061.5h0M557.4 1077.8h0M549.3 1092.6h0M549.3 1106.2h0M549.3 1117.9h0M557.4 1121.8h0M555.5 1135.4h0M578.8 1044h0M576.9 1062.6h0M576.9 1071.2h0M578.8 1101.6h0M576.9 1110.1h0M600.2 1016.7h0M665.2 958.4h0M666.4 986.4h0M679.2 986.4h0M775.3 992.2h0M771.4 1035.4h0M696.3 1034.6h0M696.3 1066.1h0M692.5 1102.7h0M740.3 1063.4h0M746.1 1059.5h0M740.3 1075.1h0M769.5 1078.2h0M775.3 1096.5h0M738.4 1114.8h0M746.1 1119.8h0M711.1 1124.9h0M722.8 1134.6h0M705.3 1147.9h0M596.3 1122.6h0M596.3 1137.4h0M588.6 1147.1h0M580.8 1160.7h0M549.6 1151h0M538 1152.9h0M524.4 1168.5h0M538 1166.5h0M557.4 1166.5h0M624.7 1158.8h0M624.7 1177h0M514.6 1203.5h0M639.1 1200.4h0M681.9 1207.4h0M674.2 1184h0M624.7 1217.1h0M624.7 1234.6h0M624.7 1244.4h0M639.1 1256h0M610 1278.2h0M624.7 1274.3h0M639.1 1278.2h0M617.7 1293h0M610 1306.6h0M674.9 1308.6h0M681.9 1258h0M549.5 621.4h0M549.5 653.6h0M549.5 688.6h0M549.5 764.2h0M548.5 773.7h0M549.5 860.5h0M549.5 884.5h0M753.4 872.3h0M738.4 781.5h0"/>
<path stroke="#87CEEB" d="M805.5 1395.6V1940M805.7 1286.4h0M805.5 1314.2h0M807.5 1326.5h0M806.8 1330.3h0M805.5 1335.5h0M805.5 1340.4h0M805.8 1344.1h0M805.5 1349.1h0M805.7 1354.1h0M805.5 1358.3h0M805.6 1362.1h0M806 1365.7h0M805.5 1370.9h0M806 1375.7h0M805.5 1389.2h0M805.5 1394.5h0M806.8 1400.2h0M806.5 1403.8h0M805.5 1407.6h0M810.5 1385.1V1940M810.7 1276.1h0M808.6 1347.1h0M812.1 1351.2h0M809.5 1356.3h0M809.7 1361.3h0M809.4 1367.5h0M810.6 1372.8h0M810.8 1378.3h0M811.1 1382.7h0M809.2 1388.9h0M815.6 1395.7V1940M817.7 1275.6h0M817.3 1281.4h0M813.7 1285h0M813.7 1290.9h0M815.5 1296.5h0M816.6 1302.4h0M817.4 1308.1h0M814.4 1354.6h0M814.3 1360.1h0M813.7 1368.5h0M820.6 1388V1940M821.2 1280.5h0M819.9 1285.6h0M821.7 1290.6h0M819.6 1294.3h0M819.3 1299.6h0M820 1303.8h0M819.6 1309.9h0M822.5 1315.1h0M820.7 1320.5h0M819.7 1325.4h0M818.8 1331.7h0M819.8 1337.6h0M822.3 1343.3h0M819.5 1347h0M820.5 1352.9h0M822.8 1359.1h0M821.7 1365.5h0M820.6 1371h0M819.6 1376h0M821.5 1382h0M821 1387.6h0M820.4 1393.1h0M820.5 1399.5h0M822.1 1403.2h0M825.7 1404V1940M825.4 1290.1h0M827.8 1295.2h0M823.9 1299.7h0M823.8 1305.4h0M826.3 1311.3h0M826.6 1317.2h0M826.7 1323.2h0M824.6 1326.8h0M827.3 1332.9h0M824.3 1338.8h0M823.8 1342.6h0M826.4 1347.8h0M825 1352.1h0M826.8 1357.8h0M825.8 1363h0M824.8 1368h0M827.2 1374.5h0M826.8 1381h0M827.6 1384.8h0M827.2 1390.1h0M826.7 1394.4h0M824 1399h0M827.7 1405.2h0M830.7 1404.2V1940M829.7 1290.7h0M832.3 1294.8h0M830.1 1301.1h0M829.6 1318.1h0M829.6 1323.1h0M829.2 1328h0M828.9 1331.9h0M832.1 1335.8h0M832.1 1341.9h0M829.9 1347.9h0M828.7 1353.9h0M832.6 1360.3h0M828.9 1366h0M831.5 1371.5h0M830.6 1377h0M831.3 1381.1h0M828.8 1386.7h0M830.8 1392.9h0M831.9 1398.1h0M830.8 1403.2h0M830.8 1407.4h0M835.8 1392.2V1940M833.8 1289.1h0M833.6 1300.2h0M836.9 1303.9h0M834.5 1308.6h0M834.7 1315h0M835.8 1319.4h0M834.9 1323.9h0M834.1 1329.9h0M835.7 1335.9h0M835.2 1341.2h0M835.3 1347h0M837.5 1352h0M835 1355.9h0M835.7 1362.2h0M834.6 1367.8h0M834.8 1372.3h0M836.7 1378.2h0M834.7 1384h0M837.5 1388.7h0M833.9 1392.3h0M836.8 1398.4h0M837 1403.7h0M837.9 1407.9h0M840.8 1382.4V1940M839.5 1277.1h0M839.2 1293.4h0M839.1 1298.1h0M842.1 1303.9h0M839.1 1308.4h0M842 1314.1h0M839.6 1318.2h0M839.3 1324.3h0M840.7 1329.9h0M841.8 1334.2h0M838.8 1339.8h0M838.7 1345.2h0M840.2 1351.2h0M842.7 1356.2h0M842 1361.7h0M841 1366.7h0M840.4 1371.4h0M841.9 1375.6h0M842.3 1381.7h0M841.9 1385.6h0M839.4 1391.4h0M841.5 1397.8h0M845.9 1387.2V1940M844.3 1273.1h0M846.3 1278.3h0M846.2 1284.2h0M845.4 1369.2h0M844 1374.9h0M847.8 1378.6h0M844.7 1387.9h0M844.5 1392.9h0M850.9 1391.3V1940M849.5 1275h0M852.9 1278.8h0M851.1 1284.6h0M850.6 1309.3h0M850.9 1315.8h0M852 1321.6h0M849.6 1326.2h0M849.6 1331.5h0M852 1335.6h0M849.1 1339.1h0M851.4 1345.5h0M850.7 1351.5h0M852.2 1357.6h0M849.4 1363h0M851.4 1366.8h0M851.2 1372.3h0M852.3 1378.7h0M850.7 1385.1h0M849.3 1389.9h0M849.5 1393.6h0M856 1384.1V1940M857.7 1274.7h0M857.5 1301.9h0M854.7 1322.6h0M854.2 1327.9h0M857.3 1352.9h0M854.2 1358h0M856.8 1363.8h0M854.6 1368.5h0M854.6 1374.6h0M855.4 1378.8h0M855.6 1385.2h0M861 1360V1940M862.7 1269.1h0M860.9 1272.7h0M860 1279.2h0M862.9 1285.1h0M860.2 1288.7h0M861.8 1294.7h0M860.9 1306.8h0M859.9 1310.9h0M859.4 1316.6h0M862.9 1321h0M863 1326.8h0M859.9 1333.2h0M861.4 1337.3h0M861.1 1342.3h0M863 1346.8h0M859.4 1350.4h0M862.5 1356.2h0M861.4 1361.7h0M862.3 1367h0M862.9 1371.5h0M862.9 1375.2h0M866.1 1355.3V1940M864.5 1237.4h0M865.9 1242.6h0M865.8 1246.2h0M866.8 1250.7h0M865 1256.4h0M865.3 1262.1h0M867.2 1265.8h0M864.6 1271.3h0M865.9 1275.6h0M866.7 1279.3h0M868.2 1289.9h0M864.5 1295.4h0M867.2 1300.4h0M864.3 1305.6h0M864.5 1311.8h0M865.1 1318.1h0M865.9 1322.1h0M866.5 1327.1h0M866.3 1332.9h0M867.4 1337.4h0M867.3 1343.3h0M864.4 1348.1h0M868.2 1352.4h0M864.1 1358h0M865.3 1362.1h0M870.6 1213.6h0M869.6 1218.5h0M870.7 1222.9h0M870.8 1229.3h0M871.1 1349.7V1940M872.1 1238.2h0M870.6 1242.9h0M873.2 1248.2h0M869 1253.4h0M871.8 1257.7h0M870.1 1261.7h0M871.2 1266.9h0M869.3 1272.6h0M872.2 1278.1h0M872.6 1284.4h0M868.9 1288.6h0M870.9 1294.6h0M869.9 1299.6h0M869.1 1305.1h0M869.7 1329.3h0M871.9 1334.1h0M869 1340.3h0M869.5 1344.1h0M872.1 1348.9h0M875.1 1216.6h0M876.9 1223.3h0M874.7 1227.5h0M875.6 1233.7h0M876.2 1354.9V1940M875.4 1236.8h0M876.3 1302.6h0M878.3 1307.1h0M874 1311.6h0M876.9 1316.1h0M874.4 1321.7h0M876.1 1327.7h0M876.1 1332.8h0M877.2 1337.8h0M877.4 1343.5h0M875.6 1348.1h0M877.4 1354.3h0M875.9 1358.9h0M882.5 1207.6h0M882 1223.6h0M882.3 1228.9h0M881.2 1354.7V1940M883.3 1236.7h0M880 1287.4h0M879.3 1291.9h0M879.9 1324.7h0M879.3 1330.2h0M881.4 1336.1h0M882.6 1342.4h0M882.4 1348.6h0M881.2 1352.5h0M883.3 1358.2h0M884.9 1212.4h0M886.5 1216.6h0M886.2 1344.1V1940M888.3 1242.3h0M888 1247.7h0M884.1 1253.8h0M886.6 1259.2h0M887.8 1265.2h0M884.2 1269.6h0M886.4 1273.5h0M885.3 1279.8h0M885.6 1284.4h0M884.2 1289.9h0M884.6 1295.1h0M884.3 1298.8h0M884.8 1305.1h0M884.4 1309.8h0M891 1198.7h0M892.2 1203.3h0M890.6 1207.9h0M890.1 1213.6h0M891.7 1219.1h0M890.5 1225.1h0M891.3 1337.8V1940M890.8 1228.7h0M891.1 1233.6h0M890.8 1240h0M890.4 1244.1h0M892.1 1249h0M892.3 1254.1h0M890.2 1259.8h0M893.2 1265.1h0M890.7 1270.7h0M892.5 1274.5h0M892.1 1278.3h0M890.9 1283.2h0M890.5 1289.7h0M891.1 1294.8h0M892.7 1300.8h0M891.5 1305h0M892.7 1310.3h0M892.9 1315.1h0M892.3 1320.3h0M889.3 1325.6h0M891.9 1330.1h0M889.7 1334.3h0M891.1 1338.3h0M891.4 1343.2h0M889.3 1347.5h0M896.2 1191.5h0M897.5 1196h0M897.7 1200.9h0M897.1 1205.2h0M897.6 1215.1h0M896.1 1221.8h0M896.3 1348.2V1940M895.3 1225.5h0M898.2 1255.2h0M896.9 1260.2h0M894.7 1264.6h0M897.5 1268.3h0M895.4 1272.1h0M896.1 1281.1h0M897.7 1292.1h0M897.8 1296.7h0M895.1 1301.2h0M897 1329.4h0M898.2 1335.8h0M897.2 1340.1h0M897.9 1346h0M896.9 1349.8h0M901.4 1328.7V1940M899.7 1280.6h0M902.5 1286.1h0M903.2 1291.6h0M903.5 1298.1h0M902.8 1304h0M906.4 1345.7V1940M905.8 1294.3h0M905.1 1300.8h0M907.7 1305.2h0M906.4 1310.5h0M906.9 1315.2h0M905.1 1321h0M904.3 1326h0M905.7 1329.7h0M908.3 1334.2h0M904.9 1340.1h0M907.3 1346.5h0M904.8 1351.1h0M911.5 1373.6V1940M911.6 1324.3h0M910.6 1328.3h0M912 1331.9h0M911.7 1336.6h0M910.7 1342.1h0M913 1345.7h0M910.9 1349.6h0M912.9 1355.1h0M910.7 1372h0M916.5 1360.2V1940M916.1 1254.9h0M917.5 1259.5h0M918.2 1264.4h0M918.5 1268.1h0M914.4 1285.7h0M916 1329.6h0M915.1 1334.8h0M918.3 1340.9h0M916.7 1344.7h0M918.2 1349.4h0M915.2 1353.9h0M917.6 1360h0M917.4 1364.7h0M915 1369.9h0M918.3 1374.4h0M921.6 1363.2V1940M919.7 1257.9h0M921.7 1262.9h0M921.3 1267.6h0M920.1 1273.1h0M921.3 1278.7h0M921.9 1304h0M920 1308.8h0M921.6 1312.6h0M921.3 1318.4h0M922.7 1323.2h0M923.5 1326.8h0M922.6 1330.3h0M919.8 1336.5h0M921.8 1340.3h0M922.6 1344h0M920.3 1347.8h0M922.7 1351.9h0M923 1357.6h0M920.3 1361.5h0M919.6 1367h0M921.2 1371.5h0M922.1 1376.1h0M926.6 1355.2V1940M928.3 1339.2h0M926.5 1345.2h0M926.2 1351.1h0M926 1355.4h0M926.2 1360.7h0M928.1 1364.5h0M924.5 1369.5h0M931.7 1355.2V1940M930.2 1313.6h0M933.1 1318.3h0M930.7 1340.2h0M929.6 1345.6h0M936.7 1350.9V1940M936.6 1244.1h0M938.5 1249.7h0M937.1 1258.2h0M935.4 1262.4h0M937.5 1268.1h0M937.1 1272h0M936.9 1275.7h0M937.4 1282h0M935.8 1288h0M937.4 1291.7h0M936.5 1297.1h0M935.1 1303.3h0M938.5 1309.7h0M935.2 1316.1h0M936.2 1321.1h0M938.8 1327h0M938.2 1331.1h0M935.7 1335.3h0M935.6 1340h0M938.6 1346h0M936.4 1350h0M938.7 1355.7h0M935.7 1362.2h0M941.8 1368V1940M940.2 1273.7h0M942.9 1278.7h0M941.9 1289h0M940.1 1292.6h0M942.7 1297.2h0M942.1 1301.9h0M940.9 1308h0M941.6 1312.8h0M940.4 1317.7h0M942.1 1321.3h0M941.5 1326.4h0M940.4 1331.2h0M941.2 1335.9h0M941.8 1340.1h0M941.1 1343.6h0M940.6 1348.7h0M943.2 1353.6h0M942.7 1359.1h0M942.9 1364.6h0M943.4 1368.8h0M942.9 1373.2h0M942.2 1376.7h0M946.8 1371.1V1940M945.6 1262.2h0M948 1267.6h0M947.2 1273.2h0M947.5 1277.2h0M945.2 1281.4h0M948.7 1287.8h0M947.8 1293.3h0M947.7 1298.6h0M945.6 1304.4h0M946.8 1326.2h0M947.8 1330.1h0M946.4 1333.7h0M946.7 1339.3h0M948.4 1343.4h0M948.7 1348h0M945.2 1352.6h0M948.2 1357.4h0M945.6 1363.3h0M947.5 1367h0M947.7 1372.1h0M946.4 1376.3h0M945.4 1380.2h0M946.5 1386.1h0M951.8 1360.7V1940M949.8 1253.7h0M950.2 1259.8h0M949.8 1264.5h0M950.7 1270.5h0M950.2 1276.6h0M952.1 1280.6h0M951.1 1285.4h0M950.6 1289.4h0M952.4 1293.8h0M950.4 1299.3h0M951.8 1305.1h0M950.1 1310.1h0M950.8 1314.9h0M951.1 1318.5h0M952.7 1324.4h0M952.6 1330h0M952.5 1334.7h0M952.3 1339.4h0M953.8 1344.9h0M950.1 1348.5h0M951.1 1370.7h0M950.2 1376.6h0M956.9 1373.3V1940M955.4 1261.6h0M956.6 1282.1h0M957.9 1291.4h0M957 1300.7h0M958.9 1306.5h0M957.3 1310.2h0M958.8 1315.7h0M957.1 1319.8h0M956.4 1324.3h0M957.7 1330.5h0M958.7 1335.7h0M955.5 1340h0M956.3 1345.6h0M956.2 1349.4h0M954.7 1354.6h0M958.5 1358.2h0M956.6 1362h0M958.9 1368h0M961.9 1392.1V1940M962.2 1369.8h0M959.9 1373.4h0M962.1 1378.3h0M967 1391.6V1940M965.1 1336.9h0M967.1 1341.7h0M966.2 1345.4h0M967.1 1349.8h0M969.1 1355.6h0M966.9 1360.8h0M967.5 1366.3h0M965.4 1370h0M967.2 1373.7h0M965.9 1377.5h0M964.9 1382.5h0M967.5 1388.9h0M965.4 1395h0M966.4 1399.7h0M972 1379V1940M971.6 1261.6h0M973.3 1266.4h0M970.2 1272.8h0M971 1277h0M970.1 1297h0M970.1 1301.2h0M969.8 1306.2h0M972.5 1310.5h0M971.7 1316.2h0M971.9 1320.8h0M972.4 1327h0M972 1332.5h0M974.2 1338h0M974.1 1342.4h0M971.2 1348.4h0M971.7 1352.4h0M971.9 1357.2h0M972.7 1362.4h0M970.9 1368.1h0M972.8 1371.7h0M972.5 1376.4h0M972.1 1380.1h0M977.1 1372.4V1940M977.9 1258.8h0M976.3 1264.1h0M974.9 1268.3h0M975.6 1272.5h0M977.2 1276.2h0M978.5 1280.4h0M975.1 1286.6h0M975.7 1290.6h0M978.6 1294.8h0M977.1 1300.5h0M975.9 1306h0M976.4 1311.6h0M977.7 1315.6h0M979.1 1319.9h0M978.1 1323.4h0M976.3 1329.2h0M976.6 1335.3h0M978.8 1341.7h0M977.1 1346.7h0M975.4 1351.7h0M977.1 1356h0M977.7 1379h0M982.1 1375V1940M981.5 1259.7h0M981 1265.2h0M981 1297.1h0M981.9 1302.8h0M981.4 1308.1h0M983.3 1311.8h0M983.6 1316.6h0M984.1 1328.6h0M983.2 1333.4h0M980.3 1337.2h0M981.6 1342.9h0M982.7 1347.3h0M980.7 1351.6h0M983.3 1357.6h0M987.2 1372.9V1940M986.2 1264.1h0M986.4 1288h0M985.7 1294.1h0M985.5 1311.9h0M988.7 1316.6h0M989.4 1322.8h0M986 1349.7h0M986.1 1355.1h0M987.9 1359.8h0M988.8 1364.6h0M987 1368.7h0M989.3 1372.9h0M987.2 1376.7h0M987.7 1381h0M992.2 1353.4V1940M992.6 1239.8h0M991.9 1244.5h0M993 1250h0M992.7 1256.4h0M990.1 1261.1h0M990.4 1265.8h0M994.4 1271.3h0M993.5 1276.2h0M993.2 1282.6h0M991.6 1289h0M990.3 1293.9h0M991.8 1298.4h0M992.4 1303.2h0M991.4 1308.6h0M990.9 1334.9h0M992.7 1340.6h0M990.4 1344.5h0M991.6 1349.6h0M991.4 1354.1h0M990.2 1358.5h0M997.1 1226.3h0M998 1232.1h0M996.2 1236.1h0M995.9 1242.2h0M997.3 1356.9V1940M998.6 1247.5h0M997 1251.2h0M998.5 1255h0M998.5 1259.1h0M996.4 1264.2h0M996.3 1270.5h0M995.4 1286.8h0M995.7 1291.4h0M995.4 1299.1h0M997.6 1302.9h0M997.3 1308.3h0M995.5 1312.8h0M999.1 1318.2h0M995.9 1322.3h0M997.9 1327.2h0M998.4 1355.4h0M996.2 1359.8h0M996.4 1365.5h0M1003.5 1209.4h0M1002.8 1213.6h0M1002.6 1227.6h0M1003.1 1231.9h0M1002.9 1238.3h0M1002.3 1242.7h0M1002.3 1365.2V1940M1001.6 1247.6h0M1004.1 1253.1h0M1003.3 1296.1h0M1001.2 1301h0M1000.7 1305.5h0M1001.6 1310.1h0M1000.7 1315.6h0M1001.1 1320.4h0M1002 1326.7h0M1001.1 1332h0M1001.1 1336.1h0M1003.9 1359.3h0M1002.6 1364.5h0M1001.7 1368.6h0M1007.4 1371.1V1940M1008.5 1310.6h0M1006.9 1315.3h0M1012.4 1345.8V1940M1012.9 1231.3h0M1014.3 1236.3h0M1011.8 1240.7h0M1010.9 1250.2h0M1010.5 1256.4h0M1013.5 1260.2h0M1014.1 1264h0M1012.5 1268.5h0M1010.6 1273.9h0M1011.4 1277.6h0M1010.9 1283.9h0M1010.7 1289.9h0M1011.1 1294.9h0M1012.4 1300.4h0M1014.3 1306.9h0M1012.6 1310.4h0M1013.6 1315.4h0M1010.9 1321.8h0M1010.3 1327.2h0M1014.4 1331.6h0M1010.7 1335.2h0M1012.6 1341.4h0M1014.4 1347.7h0M1011.4 1351.9h0M1012.2 1355.7h0M1017 1210.6h0M1017.2 1216.3h0M1016.3 1222.1h0M1017.5 1350.1V1940M1019 1284.2h0M1016.3 1325.3h0M1018.6 1331.4h0M1019.5 1335.4h0M1016.5 1339.3h0M1018.2 1345.1h0M1016.7 1349.4h0M1023.2 1214.6h0M1023.7 1219.8h0M1021.2 1225.8h0M1022.5 1333.5V1940M1022.5 1298.4h0M1022.5 1346.1h0M1022.5 1351h0M805.5 1308.6h0M806.5 1250.2h0M818.1 1273.5h0M829.8 1289.1h0M841.5 1273.5h0M853.2 1265.8h0M862.9 1242.4h0M872.6 1203.5h0M884.3 1211.3h0M896 1187.9h0M903.7 1219.1h0M911.5 1242.4h0M923.2 1250.2h0M932.9 1230.7h0M942.6 1258h0M954.3 1250.2h0M966 1273.5h0M973.8 1250.2h0M985.4 1258h0M993.2 1230.7h0M1001 1203.5h0M1008.8 1250.2h0M1020.5 1187.9h0M1022.5 1250.2h0M898.3 921.4h0M897.5 925.4h0M897.3 934.4h0M897.8 945.4h0M897.3 954.4h0M897.3 965.4h0M898.6 969.4h0M898.3 976.4h0M898 985.4h0M898.4 996.4h0M898.5 1000.4h0M897.1 1009.4h0M898 1014.4h0M898.2 1019.4h0M897.4 1024.4h0M897.6 1030.4h0M897.5 1033.4h0M897.9 1040.1h0M1019.8 933.1h0M1019 944.1h0M1019.1 947.1h0M1020.2 950.1h0M1020.1 959.1h0M1020 962.1h0M1019.3 973.1h0M1019.8 980.1h0M1020.4 987.1h0M1019.3 992.1h0M1019.8 995.1h0M1019.5 1002.1h0M1020.5 1007.1h0M1020.2 1013.1h0M1020.2 1018.1h0M1020.2 1027.1h0M1020.3 1031.1h0M1019.2 1034.1h0M1019.3 1037.1h0M1019.2 1048.1h0M1019.7 1051.1h0M1019.7 1055.6h0M873.1 1067.3h0M873 1078.3h0M871.9 1087.3h0M871.9 1090.3h0M872.4 1094.3h0M871.9 1099.3h0M872.7 1103.3h0M871.9 1108.3h0M872 1113.3h0M872.2 1122.3h0M872.1 1125.3h0M872.6 1132.3h0M871.9 1137.3h0M872.6 1142.3h0M872.9 1147.3h0M872.5 1156.3h0M873.4 1167.3h0M872.7 1174.3h0M873.2 1185.3h0M872.6 1187.9h0M1020.2 1129.6h0M1020.9 1134.6h0M1020.1 1139.6h0M1020.5 1145.6h0M1021 1152.6h0M1020.5 1156.8h0M935 1117.9h0M934.9 1128.9h0M934.6 1135.9h0M934.8 1139.9h0M934.9 1141.2h0M811.1 1092.6h0M811.1 1098.4h0M852.4 1056.4h0M933.3 985.6h0M933.3 1001.2h0M929 1016h0M952.4 1017.5h0M888.9 1036.2h0M897.9 1063.4h0M932.9 1053.7h0M942.6 1059.5h0M929 1064.2h0M942.6 1069.3h0M973.8 1051h0M971.1 1068.1h0M993.2 1057.6h0M1001 1068.1h0M1020.5 1071.2h0M932.9 1087.5h0M994 1084.8h0M1001 1092.6h0M1014.6 1091.8h0M993.2 1100.4h0M973.8 1109.3h0M897.1 1108.2h0M897.1 1121.8h0M887.4 1132.3h0M942.6 1122.6h0M957 1122.6h0M1001 1121.8h0M1001 1135.4h0M1012.7 1133.5h0M1012.7 1147.1h0M837.6 1154.9h0M921.2 1158.8h0M931 1162.6h0M936.8 1168.5h0M973.8 1158.8h0M846.1 1184.8h0M852.4 1200.4h0M819.3 1198.8h0M964 1179.4h0M974.9 1180.2h0M969.9 1187.9h0M974.9 1199.6h0M956.3 1201.6h0M932.9 1189.9h0M927.1 1205.4h0M1020.5 1189.9h0M1020.5 1211.3h0M806.5 1223h0M812.3 1230.7h0M827.9 1221h0M827.9 1236.6h0M833.7 1244.4h0M822 1244.4h0M896 1164.6h0M896 1184h0M1021.2 777h0M898.6 849.4h0M957 883.3h0M1021.2 863h0M898.6 922.2h0M1020.4 930h0"/>
<path stroke="#BEBEBE" d="M1049 1402V1940M1049 1365.6h0M1050.2 1370.1h0M1049 1374.6h0M1050.2 1378.4h0M1049 1384.1h0M1050.3 1389.1h0M1049 1394.3h0M1049 1398h0M1049.9 1402.3h0M1050.9 1407.9h0M1054 1284.9V1940M1055.5 1176.9h0M1053.4 1180.8h0M1055.9 1185.2h0M1053.2 1190.8h0M1052.9 1195.1h0M1052.6 1201.2h0M1056.2 1231.7h0M1052.5 1237.9h0M1053.7 1244.1h0M1051.8 1247.6h0M1051.9 1251.2h0M1052.2 1256.9h0M1054.6 1263.1h0M1054.9 1269.3h0M1054.3 1273.2h0M1053.5 1279.5h0M1052 1283.7h0M1053.2 1289.8h0M1052.9 1296.3h0M1052.4 1302.1h0M1059 1330.8V1940M1056.9 1218.1h0M1057 1222.6h0M1059.3 1242.6h0M1057.4 1248.7h0M1058.8 1254.4h0M1059.3 1258.3h0M1058.9 1281.5h0M1057 1285.4h0M1056.8 1290.1h0M1059.2 1294h0M1061 1300.4h0M1057 1306h0M1059.7 1310h0M1059.6 1314.3h0M1061.2 1320.6h0M1057.6 1325.7h0M1057.7 1331.4h0M1057.7 1335.6h0M1057.8 1339.8h0M1064 1322.9V1940M1063.2 1212.5h0M1062.9 1217.4h0M1065.1 1221.8h0M1062.2 1253h0M1064.8 1258h0M1063.2 1263.2h0M1063.4 1267.5h0M1062.7 1273.1h0M1062.8 1278.4h0M1062.6 1282.1h0M1061.9 1286.1h0M1063.6 1296.3h0M1063 1302.6h0M1062.7 1308.2h0M1062.4 1313.3h0M1063.6 1319.1h0M1062.9 1325h0M1069.7 1170.1h0M1068 1176.3h0M1069.7 1181.7h0M1068.6 1186.3h0M1069.6 1191.5h0M1069 1196.6h0M1069 1318.1V1940M1069.8 1201.9h0M1067.3 1221.2h0M1070.2 1225.1h0M1069.4 1229.7h0M1068 1235h0M1070.4 1239.5h0M1069.2 1244.2h0M1069.7 1248.4h0M1068.5 1262.2h0M1068.4 1273.1h0M1069.3 1277.1h0M1068 1282.1h0M1069.4 1288.3h0M1070.1 1292.7h0M1071 1296.3h0M1066.9 1301.7h0M1068.6 1307.5h0M1068 1313h0M1068.8 1318.5h0M1070.6 1323.2h0M1075.3 1166.1h0M1073.1 1170.8h0M1075.3 1175.2h0M1075.3 1180h0M1073.5 1187h0M1072.5 1193.5h0M1073.2 1197.6h0M1074 1312.9V1940M1072.5 1200.3h0M1071.9 1204.7h0M1074.2 1210.8h0M1076 1217.1h0M1075.9 1221.1h0M1074.2 1226.3h0M1076.1 1232.3h0M1075.5 1236.4h0M1074.2 1240.4h0M1074.9 1245.7h0M1072.5 1250.7h0M1074.3 1255.4h0M1073.8 1259.8h0M1073.7 1263.7h0M1075.2 1270h0M1073.2 1275.1h0M1072.2 1281.6h0M1073.3 1287.2h0M1072.3 1292.5h0M1071.8 1298.5h0M1072.7 1304h0M1075.4 1308.4h0M1072.6 1314.7h0M1080 1175.4h0M1079 1181.5h0M1077.8 1185.8h0M1078.9 1190.6h0M1077.9 1195.2h0M1079 1314.1V1940M1077.4 1267h0M1078.1 1272h0M1078.3 1275.7h0M1077.7 1279.5h0M1076.8 1284.6h0M1080.7 1289.6h0M1079.7 1295.1h0M1080.1 1299.3h0M1079 1318.4h0M1081 1321.9h0M1077.3 1326.1h0M1084 1324.1V1940M1085.5 1202.9h0M1085.5 1208.6h0M1085.1 1214.1h0M1083.8 1219.4h0M1085.6 1296.7h0M1083.6 1302.5h0M1083.5 1306h0M1082.8 1310.4h0M1085.8 1320.5h0M1082.9 1326h0M1089 1365.1V1940M1088.3 1242.4h0M1086.9 1248.1h0M1089.2 1318.8h0M1088.2 1341.9h0M1088.8 1360.1h0M1094 1318.9V1940M1095.7 1201.4h0M1093.6 1206.2h0M1094.6 1211.3h0M1094.1 1216h0M1095.8 1221h0M1092.7 1224.7h0M1094.1 1229.9h0M1093.7 1233.7h0M1092.4 1238.4h0M1092.3 1242.9h0M1095.6 1248h0M1095.9 1252.8h0M1091.8 1257.1h0M1092.7 1262h0M1094.6 1267.7h0M1094.6 1274h0M1096.1 1280.1h0M1095.4 1284.9h0M1093.1 1289.7h0M1093 1295.2h0M1092 1300.5h0M1092.3 1304.3h0M1095.6 1308.7h0M1095 1312.4h0M1094.1 1316.7h0M1092.3 1320.3h0M1098.2 1145.3h0M1099.3 1150.6h0M1099.6 1162.5h0M1098.7 1167.9h0M1098.8 1174.8h0M1098.4 1179.3h0M1099 1183.3h0M1097.8 1187.6h0M1099 1314.5V1940M1098.3 1208.5h0M1102.5 1208.8h0M1102.5 1213.7h0M1103.3 1219h0M1103.9 1347.7V1940M1104.4 1292.2h0M1106 1298.5h0M1104 1337.9h0M1101.8 1342.9h0M1104 1347.8h0M1108.9 1353.7V1940M1111.1 1240.3h0M1108.3 1245.4h0M1107.3 1249.6h0M1111 1260.6h0M1110.6 1266.8h0M1109.8 1325.1h0M1107.5 1329.3h0M1107.2 1335.4h0M1107.3 1339.3h0M1107.1 1354.2h0M1107.5 1360.3h0M1111 1364.3h0M1113.9 1353V1940M1115.5 1240.1h0M1112.6 1245.7h0M1116 1250h0M1115.9 1330.9h0M1115.3 1337.3h0M1114.2 1359.2h0M1118.9 1349.4V1940M1120.6 1235.1h0M1120.1 1241.3h0M1118.7 1247h0M1118.6 1314.4h0M1118.8 1336.5h0M1118.5 1341.3h0M1121 1345h0M1119 1350.1h0M1119.8 1354h0M1117.3 1357.9h0M1123.9 1356.1V1940M1124.7 1235.9h0M1122.1 1268.2h0M1124.5 1272.1h0M1123.9 1298.4h0M1123.5 1325.9h0M1128.9 1354.9V1940M1130.4 1285.2h0M1129 1330.1h0M1130.5 1336.2h0M1129.4 1359.2h0M1129.6 1363.7h0M1133.9 1371.3V1940M1134.1 1252.4h0M1134.3 1325.3h0M1134.5 1338.5h0M1132.2 1377h0M1138.9 1381.8V1940M1139.1 1257.1h0M1137.6 1260.6h0M1137.1 1266.5h0M1140.1 1285.5h0M1140.9 1291.1h0M1139 1295.5h0M1137 1300.7h0M1137.1 1306.7h0M1138.6 1311.7h0M1137.4 1317.4h0M1139.5 1321.8h0M1137.8 1325.8h0M1137.2 1329.5h0M1141 1333.5h0M1137.3 1337.2h0M1136.8 1340.8h0M1136.8 1346.5h0M1138.5 1350.5h0M1140.3 1354.9h0M1137.3 1358.8h0M1137.6 1364.2h0M1138.7 1370.7h0M1139.7 1381.3h0M1143.9 1380.5V1940M1145.4 1270.4h0M1144.8 1274.9h0M1143.9 1278.4h0M1143.7 1282.4h0M1142 1296.7h0M1144.9 1301h0M1145.1 1304.8h0M1143.9 1309.9h0M1145.7 1314h0M1144.3 1320.2h0M1143.5 1325h0M1145.8 1331h0M1144.8 1337.2h0M1143.9 1343.3h0M1142.7 1347.9h0M1143.9 1354.2h0M1145.8 1359.6h0M1145.9 1363.6h0M1143.1 1370.1h0M1142.6 1373.9h0M1141.9 1379.9h0M1143.5 1385.4h0M1142.7 1390.8h0M1148.9 1386.6V1940M1149.9 1274.1h0M1148.6 1278.6h0M1150.4 1340.5h0M1148.3 1345.7h0M1150.4 1349.3h0M1149.8 1378.3h0M1150.2 1382.6h0M1148 1387.5h0M1147.9 1391.6h0M1148 1396.6h0M1153.9 1385.1V1940M1155.5 1273.2h0M1155.9 1278.8h0M1155.3 1283h0M1153.9 1288.5h0M1153.4 1294.4h0M1154.1 1300.9h0M1153.3 1339.4h0M1155.2 1344.3h0M1152.9 1348.2h0M1153.9 1353.7h0M1152.6 1359.7h0M1154.7 1363.4h0M1152.5 1381.1h0M1154.5 1391.8h0M1155.7 1395.9h0M1158.9 1396.3V1940M1159.1 1277.6h0M1161 1281.9h0M1160 1292.9h0M1159.5 1298.7h0M1160.9 1303.7h0M1160.7 1309.8h0M1157.5 1313.3h0M1158.3 1318.5h0M1158.5 1323.9h0M1157.6 1330.1h0M1160.8 1335.9h0M1156.9 1341.1h0M1161.1 1345.9h0M1160.6 1350.7h0M1160.6 1355.5h0M1158.7 1360.6h0M1159.9 1365.8h0M1158.3 1372.1h0M1159.1 1375.8h0M1160.3 1382.1h0M1159.6 1386.1h0M1157.7 1392.1h0M1161 1396.7h0M1163.9 1383.8V1940M1161.7 1273.9h0M1162.8 1280h0M1162.7 1301.7h0M1162.3 1305.6h0M1163 1310.1h0M1163.9 1316.2h0M1164.9 1322.2h0M1165.6 1327.4h0M1165.9 1333.2h0M1162.6 1338.5h0M1164.8 1342.1h0M1164.2 1346.1h0M1165.5 1350.5h0M1164.8 1355.7h0M1165.9 1361.4h0M1161.9 1366.3h0M1163.6 1370.7h0M1164.7 1375.8h0M1164.3 1379.4h0M1165.3 1383h0M1162.4 1388.7h0M1162 1394.4h0M1168.9 1384.3V1940M1170.2 1264.5h0M1170.3 1269.4h0M1168.1 1273.5h0M1169.4 1279.2h0M1167.2 1334.5h0M1169 1339.4h0M1167.1 1343.8h0M1170.4 1370.6h0M1167.9 1375.5h0M1169.3 1379.9h0M1168.1 1385.2h0M1173.9 1367.5V1940M1173 1251h0M1173.6 1254.7h0M1173.4 1260.2h0M1173.6 1266.4h0M1175.8 1270.6h0M1172.7 1283h0M1175.9 1287.1h0M1173 1291.6h0M1175.7 1296.8h0M1175.2 1301.8h0M1174.8 1306.9h0M1173 1311.8h0M1176 1315.8h0M1172.5 1321.1h0M1176 1326.3h0M1175.2 1332.5h0M1175.9 1339h0M1174.7 1343.6h0M1175.3 1349.5h0M1174.3 1354h0M1174.4 1360.4h0M1174.7 1366.5h0M1173.1 1370.4h0M1174.6 1375.9h0M1178.9 1355.8V1940M1178.8 1274.4h0M1178.6 1278.7h0M1177.2 1283h0M1179.5 1286.6h0M1178 1290.2h0M1178.7 1296.2h0M1179.1 1300h0M1177.8 1305.4h0M1180.7 1311.5h0M1178.4 1316.9h0M1176.8 1322.6h0M1179.2 1342.6h0M1180.2 1347.5h0M1178 1352.1h0M1180.2 1356.4h0M1176.7 1360.1h0M1178.1 1364.9h0M1183.9 1346.2V1940M1183.4 1233.6h0M1184.3 1239.9h0M1182 1245.7h0M1185.7 1249.8h0M1182 1253.8h0M1184.6 1258.7h0M1185.2 1264.1h0M1184.2 1286.2h0M1184 1289.9h0M1181.9 1293.9h0M1185.9 1297.6h0M1184.6 1303.1h0M1183.2 1309.3h0M1182.7 1319.7h0M1185 1324.4h0M1183.2 1328.5h0M1182 1333.8h0M1183.6 1339.7h0M1183.8 1344.2h0M1185.4 1350h0M1183.3 1355.2h0M1188.9 1324.4V1940M1187 1213.4h0M1186.9 1217.2h0M1189.9 1222.1h0M1190.9 1225.7h0M1189.9 1230.1h0M1189.1 1245.9h0M1190.5 1291h0M1189.8 1295.9h0M1189.3 1302.3h0M1186.9 1308.1h0M1190 1314h0M1190.5 1319.9h0M1189.1 1325.4h0M1187.4 1331.5h0M1188.4 1336.6h0M1195 1192.9h0M1194.1 1197.6h0M1193.1 1202.3h0M1194 1207.9h0M1194.5 1212.7h0M1193.9 1332.8V1940M1194.1 1225.1h0M1195.9 1229.9h0M1194.9 1233.7h0M1195.8 1237.3h0M1193.4 1260.7h0M1194.2 1265.2h0M1192.5 1269.3h0M1192.4 1273.7h0M1193.1 1277.4h0M1194.8 1282.1h0M1191.8 1286.3h0M1193.6 1291.3h0M1193.1 1319.6h0M1193.4 1323.2h0M1193.4 1329.6h0M1191.8 1335.9h0M1193.2 1339.6h0M1192.4 1344.3h0M1197.7 1145.4h0M1200.3 1162.2h0M1200.3 1167.3h0M1198.9 1173.4h0M1199.7 1179h0M1198.2 1183.3h0M1198 1187.5h0M1200.2 1192.9h0M1200 1199.6h0M1197.9 1208.5h0M1198.9 1328.7V1940M1198.8 1222.5h0M1196.7 1228h0M1196.8 1253.7h0M1198.6 1257.9h0M1197 1288.6h0M1198.4 1293.5h0M1199.7 1298.4h0M1197.4 1304h0M1197.6 1310.1h0M1199.4 1314.2h0M1199.2 1318h0M1199.9 1323.6h0M1197.2 1327.9h0M1200.2 1333.9h0M1198.4 1338.9h0M1200.2 1342.7h0M1196.8 1346.2h0M1203.4 1184.3h0M1203.3 1191.3h0M1204.7 1203.4h0M1203.5 1208.4h0M1203.9 1329.5V1940M1204 1231.2h0M1203.4 1251.5h0M1203.4 1256.7h0M1202.2 1260.5h0M1205.6 1266.6h0M1203.4 1271.8h0M1204.1 1277.4h0M1204.2 1281.2h0M1203.3 1296.8h0M1205.8 1305.5h0M1205.3 1310.8h0M1204.6 1315.7h0M1202.6 1321.8h0M1202.1 1327.8h0M1202.9 1339.1h0M1208.8 1316.5V1940M1207.7 1240.1h0M1210.2 1280.6h0M1207.6 1286.5h0M1209 1292.2h0M1207.8 1298.3h0M1207.6 1304.3h0M1209.9 1309.5h0M1210 1314.2h0M1209.8 1319.8h0M1207.5 1324.1h0M1207 1328.6h0M1208.1 1333h0M1213.8 1336.8V1940M1213.5 1216.3h0M1212.6 1257.3h0M1213.1 1262.1h0M1211.7 1266.7h0M1213.8 1271.2h0M1215.9 1274.8h0M1214.3 1280.5h0M1214.8 1285.5h0M1216 1289.9h0M1214.4 1294.7h0M1214.4 1298.7h0M1212.1 1303.9h0M1215.1 1331.5h0M1214.1 1337.2h0M1220 1199.9h0M1219.2 1205.1h0M1220 1209.9h0M1218.5 1214.9h0M1218.8 1326.1V1940M1217.9 1218.8h0M1218.8 1224.1h0M1217.2 1245h0M1220 1263.2h0M1219.6 1268.3h0M1218.2 1274.1h0M1220.1 1280.3h0M1217.7 1285.2h0M1218 1291.5h0M1217.3 1301.2h0M1218.8 1305.6h0M1218.9 1311.6h0M1218 1318h0M1218.7 1322.3h0M1220.9 1326.2h0M1220.4 1332.3h0M1219.7 1337.3h0M1223.2 1179h0M1224.3 1184.5h0M1222.5 1188.8h0M1224.8 1194.5h0M1223.2 1198.5h0M1223.8 1317.4V1940M1224.5 1206.2h0M1222 1210.6h0M1225 1227.8h0M1221.9 1232.4h0M1225 1236.6h0M1224.2 1242.9h0M1223.5 1248.9h0M1223.2 1253.7h0M1224.4 1259.7h0M1228.8 1313.2V1940M1228 1199.4h0M1229.7 1236.3h0M1228.6 1240.4h0M1229.5 1245.8h0M1227.3 1296.2h0M1230.9 1302.2h0M1227.2 1307.5h0M1227.4 1313.7h0M1229.2 1318.8h0M1229.6 1322.5h0M1233.8 1380.4V1940M1233.5 1267.3h0M1233.9 1276.3h0M1235.4 1281.9h0M1234 1286h0M1235.1 1291.1h0M1235.4 1297.3h0M1233.7 1303.4h0M1234.2 1307.8h0M1234.1 1312.1h0M1233.8 1316.7h0M1235.3 1320.7h0M1234.9 1324.4h0M1231.8 1329.1h0M1234.4 1334.3h0M1232.7 1338.1h0M1232.4 1342.9h0M1232.2 1347.2h0M1234.6 1351.7h0M1233.9 1355.9h0M1232.8 1362.1h0M1233.5 1366.4h0M1233.1 1370.2h0M1233.4 1374.3h0M1233.1 1378.8h0M1234.7 1382.9h0M1232.7 1386.5h0M1238.8 1357.9V1940M1239.8 1255.1h0M1238.7 1259.5h0M1237.4 1263.4h0M1241 1268.2h0M1239.3 1272.3h0M1240.3 1277.9h0M1238.5 1282.5h0M1239.8 1287.8h0M1238.5 1315.3h0M1240.9 1321.8h0M1240.6 1327.3h0M1238.7 1332.5h0M1240.3 1354h0M1238.3 1358.3h0M1240 1363.5h0M1237.6 1368h0M1237.8 1372.5h0M1237.3 1376.9h0M1243.8 1355V1940M1242.3 1238.6h0M1243.3 1242.7h0M1248.8 1334.1V1940M1246.8 1228.5h0M1247.7 1233.6h0M1249.2 1239.4h0M1250.2 1245.5h0M1247.4 1251.8h0M1250.4 1272.6h0M1249.7 1292h0M1247.6 1298h0M1247.8 1303.9h0M1249 1319.3h0M1247.2 1322.9h0M1249.6 1328.7h0M1253.8 1342.6V1940M1256 1238.4h0M1255.4 1242.1h0M1252.5 1246.1h0M1255.3 1252.4h0M1254.9 1256.6h0M1252 1261.2h0M1252.5 1266.5h0M1252.2 1271h0M1252.6 1276.3h0M1255.3 1286.5h0M1255.1 1292.8h0M1255.6 1298.2h0M1255.7 1303.7h0M1251.6 1308.6h0M1255.5 1314.2h0M1252.5 1320.7h0M1252 1325.9h0M1253.5 1329.6h0M1254.9 1333.7h0M1254.9 1339.7h0M1253 1345.6h0M1252.7 1350.8h0M1254.3 1355.4h0M1252.4 1359.2h0M1258.8 1385.3V1940M1258.7 1275.7h0M1257.4 1281.1h0M1257.4 1286.2h0M1258.8 1290.4h0M1257.4 1295.2h0M1258.8 1299.6h0M1258.8 1304.7h0M1258.5 1308.7h0M1258.8 1312.4h0M1256.9 1317.7h0M1256.6 1322.9h0M1258.8 1329.3h0M1258.8 1333.8h0M1257.8 1339.2h0M1258.8 1343.8h0M1256.7 1347.8h0M1257.6 1352.5h0M1257.6 1356.1h0M1256.8 1361.1h0M1257.6 1366.3h0M1258.8 1371.7h0M1258.8 1376.2h0M1258.8 1381h0M1257.2 1386.8h0M1258.8 1390.8h0M1257.2 1394.5h0M1049 1289.1h0M1053.5 1172.4h0M1061.3 1234.6h0M1071.1 1149h0M1082.7 1187.9h0M1090.5 1250.2h0M1098.3 1129.6h0M1106.1 1234.6h0M1121.6 1230.7h0M1133.3 1250.2h0M1152.8 1273.5h0M1168.3 1261.9h0M1180 1242.4h0M1180 1242.4h0M1191.7 1203.5h0M1199.5 1141.2h0M1207.2 1203.5h0M1215 1207.4h0M1226.7 1164.6h0M1234.5 1265.8h0M1246.1 1219.1h0M1255.9 1234.6h0M1258.8 1296.9h0M1198.2 991.4h0M1198.6 1002.4h0M1198.4 1009.4h0M1198.2 1018.4h0M1198.5 1021.4h0M1199.3 1030.4h0M1198.8 1037.4h0M1198.2 1042.4h0M1198.7 1044h0M1199.2 1067.3h0M1197.9 1076.3h0M1198.2 1082.3h0M1198.3 1089.3h0M1198 1098.3h0M1199.4 1102.3h0M1198.5 1105.3h0M1198.9 1116.3h0M1197.9 1125.3h0M1198.8 1130.3h0M1198.3 1139.3h0M1199.1 1143.3h0M1198.4 1150.3h0M1198.1 1159.3h0M1199.5 1163.3h0M1198.4 1167.3h0M1198.7 1172.4h0M1227.4 1001.2h0M1227.2 1008.2h0M1226.8 1011.2h0M1226.7 1017.2h0M1226.2 1022.2h0M1226.1 1031.2h0M1226 1034.2h0M1227.5 1038.2h0M1226 1042.2h0M1227.4 1051.2h0M1226.4 1055.2h0M1226.7 1055.6h0M1227.3 1071.2h0M1226.6 1076.2h0M1226 1087.2h0M1227 1091.2h0M1226.5 1097.2h0M1226.7 1098.4h0M1139.1 970.4h0M1102.2 1021.4h0M1099.1 1066.5h0M1160.5 1083.7h0M1053.5 1108.2h0M1060.2 1110.1h0M1061.3 1126.5h0M1073.8 1123.7h0M1053.5 1156h0M1123.6 1159.9h0M1123.6 1168.5h0M1158.6 1179h0M1168.3 1191.8h0M1123.6 1199.6h0M1158.6 1222.2h0M1172.2 1219.1h0M1183.1 981.7h0M1183.1 1045.9h0M1227.5 971.2h0M1256.7 1073.9h0M1255.9 1101.2h0M1253.9 1111.3h0M1243.4 1123h0M1218.1 1119.1h0M1227.5 1124.9h0M1227.5 1134.6h0M1244.2 1145.1h0M1252 1150.2h0M1227.5 1156.8h0M1214.2 1162.6h0M1256.7 1167.7h0M1213.1 1179.4h0M1255.9 1186h0M1252 1199.6h0M1248.1 1223h0M1139.5 470.4h0M1139.5 601.6h0M1139.5 801.9h0M1227.4 576.3h0M1227.4 603.5h0M1227.4 639.3h0M1227.4 664.6h0M1227.4 688.7h0M1227.4 697.7h0M1227.4 832.3h0"/>
<path stroke="#87CEEB" d="M1284.5 1392.4V1940M1284.5 1275.8h0M1286.5 1280.1h0M1284.5 1284.5h0M1284.5 1290.6h0M1285.4 1296.8h0M1284.5 1301.8h0M1284.5 1306.4h0M1284.5 1343.7h0M1285.1 1347.2h0M1286.5 1350.8h0M1284.5 1356.5h0M1284.5 1362.9h0M1284.5 1367.7h0M1285.5 1371.3h0M1284.5 1376.6h0M1284.5 1382.1h0M1284.5 1388.1h0M1284.5 1392.2h0M1286.4 1398.4h0M1289.5 1320.8V1940M1287.9 1212.3h0M1294 1213.1h0M1295.2 1225h0M1293.5 1231.6h0M1294.4 1354.7V1940M1292.9 1238.6h0M1293.6 1321.3h0M1294.7 1325.4h0M1296.5 1331.1h0M1294.5 1336.2h0M1293.6 1341.1h0M1294.2 1345.6h0M1296.6 1350.8h0M1298.6 1206.8h0M1300.3 1213.8h0M1298.8 1219.2h0M1299.6 1226.1h0M1299.5 1231.3h0M1297.9 1236.9h0M1299.4 1343.4V1940M1297.6 1239.8h0M1298.3 1244.8h0M1301.3 1249.4h0M1298.3 1254.2h0M1297.8 1259.8h0M1298.4 1266h0M1301.3 1270.8h0M1300 1274.7h0M1300.6 1279.1h0M1300.8 1284.6h0M1298.6 1291.1h0M1298.4 1297h0M1301.4 1303.2h0M1298.8 1307.3h0M1300.7 1311.2h0M1299.6 1315.3h0M1299.4 1320.5h0M1300.2 1326.6h0M1298.4 1336h0M1300.7 1340.9h0M1299.8 1345.1h0M1298.4 1348.6h0M1297.7 1353.5h0M1298.3 1359h0M1303.2 1224.9h0M1303.6 1229.4h0M1304.7 1234h0M1303.9 1240.6h0M1304.9 1247.1h0M1304.3 1364.5V1940M1306.3 1260.1h0M1306.1 1280.3h0M1302.8 1319.7h0M1302.6 1324.7h0M1304.4 1331h0M1306.1 1335.3h0M1306.2 1340.1h0M1304.4 1367.3h0M1302.1 1373.5h0M1309.3 1370.6V1940M1309.5 1314.1h0M1309.2 1338.4h0M1314.6 1218.6h0M1313.5 1224.5h0M1315.2 1239.7h0M1314.2 1358.6V1940M1315.4 1242.6h0M1315 1285.9h0M1314.9 1290.1h0M1314.2 1296.2h0M1313.2 1300.7h0M1314.5 1306.7h0M1314.8 1310.5h0M1313.2 1314.4h0M1316.4 1319.6h0M1318 1205.2h0M1318.7 1211.2h0M1318.4 1215.9h0M1319.3 1222.5h0M1319.7 1233.3h0M1319.2 1350.8V1940M1318.6 1241.8h0M1321.2 1246.9h0M1318.4 1295.2h0M1319.2 1301.4h0M1319.3 1305.6h0M1318.8 1311.2h0M1319.3 1317.3h0M1319.3 1322.6h0M1318 1326.2h0M1317.2 1332.6h0M1317.5 1336.5h0M1318.8 1353.5h0M1317.6 1358.6h0M1318.6 1363.4h0M1324.1 1382.9V1940M1323.7 1261.6h0M1323.2 1265.9h0M1322.5 1272.2h0M1325.2 1277.9h0M1325 1332.8h0M1322.6 1337.7h0M1322.7 1343.6h0M1323.7 1348.7h0M1324.4 1352.8h0M1322 1357.8h0M1322 1363.8h0M1325.7 1369h0M1325.8 1375.4h0M1329.1 1396.6V1940M1330.3 1373.8h0M1331.1 1377.8h0M1327.9 1383.7h0M1329.2 1387.7h0M1330.3 1392.5h0M1329.8 1397h0M1329.9 1402.8h0M1334 1403V1940M1334.8 1305.6h0M1332.1 1309.2h0M1334.8 1314.2h0M1334.1 1327.3h0M1332.4 1376h0M1335.9 1380.7h0M1332.4 1386.4h0M1332.8 1391.6h0M1336.1 1397.4h0M1335.4 1403.7h0M1339 1398.4V1940M1339 1303.5h0M1340.8 1395.3h0M1337.4 1401.7h0M1337 1405.8h0M1344 1394.5V1940M1342.1 1301.7h0M1346.1 1306.8h0M1344.7 1346h0M1344.3 1349.8h0M1344.1 1353.9h0M1344.8 1359.4h0M1345.6 1365h0M1341.8 1369.4h0M1344.8 1374h0M1345.1 1380h0M1344.1 1385.8h0M1342.5 1391.2h0M1344.2 1396.3h0M1343.7 1400h0M1344 1404.4h0M1348.9 1397.4V1940M1349.9 1279.9h0M1346.8 1283.7h0M1348.5 1288.5h0M1350.6 1294h0M1348.2 1300.3h0M1350.4 1305.1h0M1349.6 1311h0M1350.1 1315.4h0M1350.1 1323.1h0M1350.8 1329.3h0M1349.1 1334.3h0M1349.5 1338.5h0M1350.5 1344.5h0M1350.5 1350.1h0M1350.9 1356.1h0M1347.6 1362.5h0M1348.6 1367.8h0M1348.6 1372.8h0M1349.8 1378.1h0M1348.8 1381.9h0M1350 1387.7h0M1350.5 1391.9h0M1349.1 1396h0M1349.1 1399.6h0M1353.9 1366V1940M1353.2 1251.2h0M1354.4 1257.2h0M1354 1263.7h0M1354.9 1268.6h0M1355.9 1306.3h0M1351.8 1311.7h0M1355.6 1315.2h0M1352.1 1319.9h0M1352.6 1326.4h0M1355.5 1330h0M1355.3 1333.6h0M1351.8 1343.1h0M1352.3 1348.6h0M1353 1353h0M1358.8 1371.9V1940M1357.1 1257.4h0M1357.1 1263.9h0M1360 1267.4h0M1357.7 1294.9h0M1358.2 1300.9h0M1358 1311.7h0M1359.8 1315.6h0M1360.4 1320h0M1358.6 1326.5h0M1359 1332h0M1359.1 1336.8h0M1358.5 1341.5h0M1358.7 1347.4h0M1356.7 1351.6h0M1359.8 1356.1h0M1358.8 1360.3h0M1356.8 1364.1h0M1360.9 1368.4h0M1359.6 1374.6h0M1358.3 1380h0M1363.8 1364.7V1940M1364.8 1285.3h0M1363.4 1291.5h0M1365.2 1295.6h0M1365.5 1300.1h0M1363.2 1329.5h0M1364.8 1335.2h0M1365.5 1340.9h0M1365.8 1344.8h0M1368.7 1366.3V1940M1368.1 1250.3h0M1368 1254.8h0M1368.7 1258.5h0M1370.5 1263.9h0M1368.2 1269.7h0M1368.4 1275.7h0M1368.7 1280.9h0M1370 1284.7h0M1369.5 1288.6h0M1368.3 1293.7h0M1366.8 1297.9h0M1366.7 1301.6h0M1368.1 1305.8h0M1368.1 1327.2h0M1368.1 1331.1h0M1370.8 1335.9h0M1368.2 1340.3h0M1369.6 1344.7h0M1370.7 1349.5h0M1370.9 1353.4h0M1366.6 1358.5h0M1369.6 1362.6h0M1366.9 1366.5h0M1368.1 1372.4h0M1373.8 1236.8h0M1375.1 1240.8h0M1374 1245.3h0M1373.2 1251.3h0M1373.7 1366.8V1940M1371.7 1253.9h0M1373.9 1258.8h0M1375.6 1265.1h0M1375.8 1269.1h0M1375.6 1273.8h0M1372.2 1298.1h0M1372.3 1302.7h0M1374.5 1309.1h0M1373.5 1313.8h0M1372.7 1318.7h0M1375.5 1323h0M1372.4 1328.4h0M1372.8 1334.2h0M1374.9 1339.1h0M1375.5 1344.8h0M1372.7 1348.5h0M1372.6 1354.7h0M1375.6 1359.9h0M1373.8 1366.4h0M1374.1 1372.5h0M1374.3 1376.6h0M1378.6 1363.6V1940M1377 1307.5h0M1380.6 1312h0M1377.7 1323.9h0M1377.7 1329.5h0M1380.3 1335.2h0M1379.9 1340.8h0M1380.3 1352.6h0M1380.5 1357.6h0M1380.6 1361.7h0M1378.5 1367.9h0M1378.7 1374h0M1378.1 1380.5h0M1383.6 1387.7V1940M1384.7 1306.9h0M1383.8 1312h0M1384.6 1329.4h0M1381.9 1334.1h0M1382.7 1340.1h0M1381.7 1348.7h0M1382.8 1354.9h0M1383.7 1358.9h0M1384.9 1384.6h0M1382.8 1390.1h0M1385.3 1393.7h0M1390 1222.4h0M1388.2 1228.7h0M1389.3 1233.8h0M1387.8 1239.1h0M1387.8 1243.4h0M1388.6 1363.5V1940M1389.9 1270.5h0M1386.6 1276.5h0M1388.7 1282.6h0M1388.5 1288.9h0M1390.1 1292.6h0M1387 1297.4h0M1389.6 1303.3h0M1389.3 1306.9h0M1389.4 1312.9h0M1387.6 1317.8h0M1388.8 1321.9h0M1387.8 1326.3h0M1388.3 1331.4h0M1388 1335.9h0M1387.7 1339.6h0M1388 1345.3h0M1390.5 1349.9h0M1386.8 1355h0M1389.2 1359.4h0M1390 1364.1h0M1386.8 1368.3h0M1392.6 1203.3h0M1394.5 1209.7h0M1392.4 1213.9h0M1392.7 1220.2h0M1394.3 1232.4h0M1393.5 1363.8V1940M1394.2 1249.5h0M1393.2 1255.2h0M1392.3 1260.9h0M1394.2 1269.9h0M1395.4 1275.3h0M1392.3 1280.5h0M1395.6 1284.1h0M1392.1 1325.1h0M1392.4 1330.5h0M1392.7 1335.2h0M1395.5 1358.8h0M1393.5 1364h0M1393.1 1369.7h0M1398.5 1350.1V1940M1398.4 1245.1h0M1398.3 1319.5h0M1397.6 1323.7h0M1399.9 1329.9h0M1399.8 1336.3h0M1398.6 1341.6h0M1396.6 1345.5h0M1403.4 1374.6V1940M1404.8 1268.6h0M1401.5 1322.6h0M1408.4 1380.5V1940M1408.4 1266.9h0M1408 1272.3h0M1409.7 1300.9h0M1407.5 1307.3h0M1410 1315h0M1407.2 1320.6h0M1409.4 1326.9h0M1410.5 1332.4h0M1407.2 1337.1h0M1410.3 1340.7h0M1407.5 1346.4h0M1407.5 1352.3h0M1409.7 1356.6h0M1409.2 1361.5h0M1406.3 1367.4h0M1409.9 1372.9h0M1409.2 1378.1h0M1410.2 1384.2h0M1409.5 1390.2h0M1413.3 1392.3V1940M1414.9 1278.6h0M1412 1283.1h0M1411.5 1287.1h0M1413.7 1292.1h0M1411.2 1296.6h0M1414.6 1301.4h0M1413.9 1333.7h0M1414.8 1338.1h0M1411.7 1344.3h0M1413.2 1348.4h0M1413.9 1352.2h0M1414.9 1358.5h0M1414.7 1362.4h0M1412.2 1366.5h0M1412.2 1372.2h0M1414.1 1376.9h0M1414.4 1380.9h0M1412.1 1389h0M1413.9 1393h0M1411.9 1398.1h0M1418.3 1390.7V1940M1419.8 1379.7h0M1416.4 1386.2h0M1419.7 1392.6h0M1423.2 1375.6V1940M1421.2 1260.2h0M1423.4 1265.4h0M1421.8 1271.8h0M1423.7 1316.1h0M1421.6 1319.6h0M1424.9 1323.3h0M1424.4 1328.1h0M1425 1332.3h0M1423.7 1337.8h0M1422 1342h0M1421.8 1348.3h0M1421.1 1354.4h0M1422.9 1360.9h0M1422.7 1365h0M1425.4 1370.1h0M1423.3 1376.5h0M1428.2 1369.7V1940M1428 1260.6h0M1429.7 1266.7h0M1426.7 1273h0M1429.9 1277.5h0M1427.6 1281.6h0M1426.1 1286.6h0M1428.2 1290.8h0M1429.2 1296.3h0M1428.8 1303.8h0M1429 1309.3h0M1427.4 1314.1h0M1429.1 1318.9h0M1430.1 1322.9h0M1426.8 1328.8h0M1427 1334.8h0M1430.3 1339.1h0M1427.3 1343.2h0M1430 1348.9h0M1429.6 1353.3h0M1429.9 1359h0M1429.5 1363.8h0M1428.7 1368.8h0M1429.8 1373.6h0M1428.4 1379.5h0M1427.3 1384.4h0M1433.2 1381.6V1940M1431.2 1273.5h0M1431.5 1296.5h0M1432.9 1302.9h0M1431.5 1308.6h0M1434.9 1333.4h0M1432.5 1338.9h0M1434.1 1345.2h0M1434.2 1350.8h0M1432.9 1377.4h0M1434.6 1382.8h0M1433.9 1387h0M1434.4 1392.2h0M1432.9 1397.1h0M1438.1 1381.1V1940M1438 1271.6h0M1437.3 1276.8h0M1437.5 1281h0M1438.9 1285.4h0M1438.6 1348.6h0M1436.3 1352.4h0M1437.1 1358h0M1438 1364.1h0M1439.3 1368.6h0M1436.7 1373.1h0M1440 1378.8h0M1437.6 1382.9h0M1437.3 1387.3h0M1437.8 1391.4h0M1443.1 1338.7V1940M1442.5 1232.8h0M1442.3 1236.5h0M1443.2 1240.3h0M1443.5 1321h0M1445.3 1327h0M1444.9 1346.4h0M1441.9 1350.4h0M1446.7 1203.6h0M1448.3 1208.2h0M1447.9 1217.4h0M1447.4 1223.6h0M1448.9 1231.8h0M1446.6 1237.7h0M1448.1 1242.8h0M1448 1358.1V1940M1450.1 1288.6h0M1450.1 1293h0M1449.6 1297.4h0M1447.1 1302.1h0M1449.2 1306h0M1449 1311.1h0M1446.7 1316.3h0M1449.5 1320.4h0M1449.4 1334.4h0M1448.4 1338.5h0M1451.6 1203.8h0M1454.1 1210.1h0M1452.3 1216h0M1453.1 1222.9h0M1453.4 1228h0M1453.8 1233.7h0M1454.4 1240.6h0M1453 1360V1940M1454.6 1253.7h0M1452.9 1259.1h0M1454.8 1263h0M1451.7 1287.2h0M1454.9 1293.1h0M1453.3 1299.1h0M1455.1 1320.4h0M1451 1324.6h0M1452.1 1361.4h0M1453.8 1367.6h0M1454.5 1371.1h0M1457.6 1214.7h0M1457.7 1219.1h0M1457.9 1230.1h0M1457.9 1346.7V1940M1457.2 1237.5h0M1460 1301.7h0M1455.8 1305.7h0M1456.8 1310.4h0M1456.3 1316.8h0M1458.9 1322.6h0M1457.3 1326.2h0M1457.9 1331.8h0M1457.6 1336.5h0M1460 1342.9h0M1459.3 1347.4h0M1460 1352.7h0M1457.8 1357.5h0M1464.2 1211.3h0M1464 1217.5h0M1464.3 1221.6h0M1464.1 1234h0M1462.9 1348V1940M1461.7 1236.8h0M1462.7 1242.3h0M1461.7 1248.5h0M1460.9 1324.2h0M1461.4 1329.2h0M1464.3 1335.3h0M1464.9 1339.3h0M1464.4 1343.3h0M1464.8 1346.9h0M1463 1351.9h0M1460.9 1356.4h0M1469.1 1209.3h0M1469.1 1215.3h0M1467.8 1330.5V1940M1466.7 1250.9h0M1469.5 1263.2h0M1465.8 1268.6h0M1466.6 1274.3h0M1469.8 1279.4h0M1470 1285.4h0M1469.8 1289.4h0M1466.1 1295.7h0M1468 1300.6h0M1467 1305h0M1466.4 1309.2h0M1467.4 1317.2h0M1469.5 1322.4h0M1469.2 1328.7h0M1469.3 1332.8h0M1469.7 1336.7h0M1469 1341.4h0M1468.7 1346h0M1472.8 1341.9V1940M1471.4 1228.5h0M1474.5 1234.7h0M1474.4 1239.6h0M1472.2 1249.7h0M1472.1 1268.1h0M1474.3 1272.8h0M1474.5 1276.8h0M1472.1 1282.1h0M1471 1288.4h0M1472.3 1293.5h0M1475 1298.4h0M1474.3 1302.4h0M1472.8 1308.5h0M1473.5 1314h0M1472 1317.6h0M1471 1322.6h0M1474.1 1331.7h0M1473.7 1335.9h0M1473.3 1341.5h0M1474.3 1347.7h0M1477.7 1358.9V1940M1478.2 1252.1h0M1477.2 1256.7h0M1477 1262.1h0M1479 1329.1h0M1479.8 1334.2h0M1475.6 1355.3h0M1482.7 1387.1V1940M1482.7 1267.3h0M1482.7 1272.3h0M1482 1282.4h0M1482.7 1287.4h0M1482.7 1293.2h0M1482.7 1298.8h0M1482.7 1305.3h0M1482.7 1311.7h0M1482.1 1316.6h0M1482.7 1339.4h0M1482.7 1345.1h0M1482.7 1350.2h0M1482.7 1355.5h0M1481.6 1360.6h0M1482.7 1364.2h0M1482.7 1368.8h0M1482.7 1374.9h0M1482.7 1380.3h0M1482.7 1385.7h0M1284.5 1328h0M1288.9 1211.3h0M1300.6 1203.5h0M1308.4 1250.2h0M1318.1 1195.7h0M1327.9 1296.9h0M1343.4 1300.8h0M1355.1 1242.4h0M1366.8 1258h0M1374.6 1230.7h0M1382.3 1273.5h0M1392.1 1187.9h0M1401.8 1265.8h0M1413.5 1269.6h0M1425.1 1250.2h0M1436.8 1273.5h0M1446.5 1203.5h0M1460.2 1207.4h0M1467.9 1195.7h0M1477.7 1242.4h0M1482.7 1265.8h0M1317.7 1016.7h0M1318.8 1022.7h0M1318 1028.7h0M1317.5 1037.7h0M1318.4 1041.7h0M1318.5 1046.7h0M1318.5 1053.7h0M1317.9 1056.7h0M1318 1067.7h0M1317.5 1078.7h0M1318.1 1079h0M1292.5 1082.9h0M1293.1 1093.9h0M1292.4 1104.9h0M1292.7 1109.9h0M1292.7 1115.9h0M1292.9 1118.9h0M1292.8 1121.8h0M1304.8 1098.4h0M1305.2 1109.4h0M1305.2 1115.4h0M1304.5 1121.8h0M1317.5 1098.4h0M1317.5 1109.4h0M1318.3 1118.4h0M1318.1 1121.8h0M1318.9 1129.6h0M1318.6 1135.6h0M1317.9 1146.6h0M1318.1 1149h0M1383.6 983.7h0M1383.8 990.7h0M1384.4 997.7h0M1384.6 1001.7h0M1384.3 1007h0M1466 1038.1h0M1465.6 1044.1h0M1466.3 1047.1h0M1465.8 1052.1h0M1465.4 1055.1h0M1465.4 1062.1h0M1465.7 1068.1h0M1466.1 1074.1h0M1465.2 1085.1h0M1465.8 1089.1h0M1466 1090.7h0M1374.7 1117.9h0M1375.2 1124.9h0M1375.1 1130.9h0M1374.2 1133.9h0M1375.1 1137.9h0M1374.4 1146.9h0M1374.6 1149h0M1389.6 1114h0M1390.7 1117h0M1389.5 1121h0M1390.7 1125h0M1390.4 1128h0M1390.2 1135h0M1389.8 1138h0M1390.7 1145h0M1389.9 1150h0M1390.1 1156.8h0M1445.9 1141.2h0M1446.8 1146.2h0M1446.4 1153.2h0M1445.8 1156.2h0M1446.8 1160.2h0M1446.6 1171.2h0M1447.2 1176.2h0M1447.1 1182.2h0M1446.3 1193.2h0M1446.5 1198.2h0M1446.5 1199.6h0M1292.1 1015.6h0M1304.5 1014.8h0M1292.8 1028.4h0M1304.5 1040.1h0M1292.1 1054.5h0M1304.5 1082.9h0M1384.3 965h0M1384.3 1026.5h0M1373.4 1036.2h0M1401 1035h0M1401 1052.9h0M1388.2 1058.8h0M1383.1 1062.6h0M1423.2 1014h0M1439.1 1010.1h0M1466.4 1018.7h0M1438 1090.7h0M1450.4 1113.2h0M1477.7 1086h0M1477.7 1102.3h0M1467.9 1112.1h0M1467.9 1119.8h0M1369.5 1091.8h0M1369.5 1107.4h0M1387.4 1104.7h0M1287 1156.8h0M1304.5 1165.8h0M1315.4 1163.4h0M1360.9 1164.6h0M1369.9 1161.5h0M1478.4 1136.2h0M1467.9 1145.1h0M1479.6 1152.9h0M1467.9 1168.5h0M1462.1 1178.2h0M1292.1 1179h0M1292.1 1191.8h0M1317.4 1189.9h0M1370.7 1180.2h0M1374.6 1191.8h0M1393.2 1184.8h0M1425.1 1180.9h0M1432.1 1187.2h0M1477.7 1199.6h0M1341.5 1226.1h0M1330.6 1243.6h0M1353.9 1245.1h0M1373.4 1232.7h0M1405.7 1223h0M1425.1 1251.4h0M1341.5 1264.6h0M1341.5 1277.4h0M1341.5 1287.9h0"/>
<path stroke="#BEBEBE" d="M1509.7 1402.8V1940M1509.7 1333.2h0M1511.4 1337.4h0M1511.8 1374.5h0M1511.9 1380.4h0M1510.4 1384h0M1509.7 1389h0M1511.8 1394.5h0M1511.2 1399.8h0M1509.7 1405h0M1514.8 1398.3V1940M1516.8 1395.8h0M1513.3 1402.2h0M1519.8 1354.9V1940M1518.5 1237.3h0M1521.8 1243.1h0M1521.7 1248.7h0M1518.9 1254.1h0M1521.6 1286.7h0M1519.4 1293h0M1520.2 1297.8h0M1518.2 1333.6h0M1518.4 1339.7h0M1520.6 1344.5h0M1520.3 1349.2h0M1518.7 1354.5h0M1525.9 1207.8h0M1524.9 1212.4h0M1524.9 1334.2V1940M1522.8 1327.2h0M1526.6 1332.6h0M1528.9 1197.8h0M1529.7 1210.5h0M1528.7 1215.1h0M1530.1 1219.4h0M1529.9 1340.3V1940M1530.3 1226.7h0M1528.7 1230.7h0M1531.1 1236.5h0M1532.1 1242.9h0M1531.7 1247.7h0M1530.9 1253.7h0M1531.2 1259.9h0M1530.3 1270.1h0M1532 1307.3h0M1528.6 1332h0M1529.3 1337.8h0M1532.1 1342.5h0M1529.5 1347.1h0M1535 1342.7V1940M1533.6 1235.5h0M1537.1 1239.6h0M1535.1 1243.4h0M1535.9 1247.5h0M1535.7 1262.5h0M1533.5 1353.8h0M1540 1356.3V1940M1540 1243.6h0M1541.3 1247.9h0M1541.2 1271.7h0M1542.2 1277.7h0M1540.9 1282.3h0M1540.6 1287.8h0M1540.6 1294.2h0M1539.6 1299.7h0M1540.8 1303.7h0M1540.7 1308.5h0M1538.5 1314.8h0M1538.5 1319.2h0M1538.9 1325.6h0M1539.7 1331.1h0M1541.8 1335.3h0M1539.3 1339.5h0M1541 1345.9h0M1541.2 1350.5h0M1540.8 1355h0M1537.9 1360h0M1538.7 1365.7h0M1544.1 1202.5h0M1545.2 1209.2h0M1545.7 1213.3h0M1545.1 1344V1940M1545.1 1280.6h0M1543.9 1284.5h0M1543.1 1290.7h0M1543.8 1296.8h0M1546.8 1301.4h0M1547 1306.1h0M1546.5 1312.5h0M1546.6 1316.2h0M1544.4 1320.8h0M1545.3 1326.8h0M1543.3 1332.1h0M1545.7 1336.7h0M1543.5 1343.1h0M1543.2 1348.7h0M1550.2 1346.1V1940M1550.5 1228h0M1551.5 1232.8h0M1550 1237.4h0M1551.9 1243.9h0M1550.4 1317.6h0M1551.4 1321.3h0M1549.6 1325h0M1548.8 1330.8h0M1549.5 1334.4h0M1551 1340.2h0M1550.8 1345.5h0M1550 1351.2h0M1555.2 1356.3V1940M1553 1248.9h0M1553.5 1253.3h0M1554.4 1259h0M1556 1264.9h0M1555 1271.1h0M1556.3 1274.8h0M1553.3 1278.4h0M1554.1 1284.3h0M1556.2 1328.7h0M1554.3 1332.5h0M1557.4 1336.4h0M1554.3 1345.8h0M1554.5 1351.7h0M1554.8 1357.8h0M1553.9 1363.9h0M1556 1369.3h0M1560.3 1345.8V1940M1560.7 1259.8h0M1559.3 1266.3h0M1560.8 1271.1h0M1558.8 1276.2h0M1562 1282.5h0M1562.1 1288.6h0M1560.8 1293.4h0M1560.4 1299.9h0M1558.2 1303.6h0M1558.7 1307.3h0M1562.1 1312.6h0M1560.7 1317.6h0M1561.4 1322.8h0M1560.3 1327.7h0M1562.2 1333.1h0M1559.4 1338.3h0M1560.5 1342.7h0M1559.1 1347.6h0M1558.2 1353.6h0M1558.2 1357.2h0M1559.4 1361.9h0M1565.3 1344.2V1940M1565.1 1222.8h0M1566.5 1267.4h0M1567.2 1325h0M1567.4 1330h0M1564.3 1341.1h0M1570.4 1331.2V1940M1569.9 1223.8h0M1571.9 1236.7h0M1571.1 1311.3h0M1572 1316.2h0M1570.8 1321.4h0M1572 1327.1h0M1569.7 1331.5h0M1572.6 1336.5h0M1575.4 1325.7V1940M1576.2 1205.5h0M1574.3 1211.5h0M1575 1223.3h0M1573.9 1229.4h0M1573.4 1233h0M1574 1237.5h0M1573.6 1242.4h0M1576 1246.9h0M1574.8 1252h0M1574.5 1258.3h0M1575.8 1263.3h0M1573.3 1269.6h0M1573.4 1275.6h0M1573.3 1279.9h0M1573.3 1286.4h0M1573.7 1295.5h0M1573.4 1300.1h0M1574.5 1306.5h0M1576.8 1311.9h0M1580.5 1365.8V1940M1581.2 1312.5h0M1580.4 1329.2h0M1578.3 1335.1h0M1580.9 1339.5h0M1579.5 1344.4h0M1581.3 1348.1h0M1580 1352.4h0M1582 1358.7h0M1582.1 1363.7h0M1581.3 1370h0M1582.6 1375.2h0M1585.6 1392.5V1940M1587.4 1286.6h0M1587.1 1290.9h0M1585.8 1314.7h0M1584.9 1333.6h0M1587.2 1338.7h0M1586.3 1343.8h0M1584.3 1348.5h0M1586.3 1352.3h0M1585.2 1356.1h0M1584.7 1360.9h0M1586.3 1366.4h0M1586.7 1370.4h0M1587.5 1375.8h0M1584.2 1391.4h0M1585.9 1396.3h0M1583.8 1400.2h0M1586.8 1404h0M1590.6 1359.2V1940M1591.5 1245.1h0M1591.4 1264h0M1588.8 1269.5h0M1589.1 1274h0M1592.2 1277.9h0M1589.8 1284h0M1592.6 1292.4h0M1589.8 1301.1h0M1591.1 1307.2h0M1589.9 1312.2h0M1588.9 1318.6h0M1589.8 1323.8h0M1590.4 1330.2h0M1589.2 1336.4h0M1591.7 1342.8h0M1592.6 1347.2h0M1589.3 1352.9h0M1589.7 1358.5h0M1590.8 1362.1h0M1590.5 1366.5h0M1595.7 1327.5V1940M1593.7 1221.1h0M1595.1 1224.9h0M1595.6 1230.1h0M1597.3 1235.8h0M1596.9 1240.2h0M1596.5 1246.4h0M1594.7 1251.2h0M1596.8 1257.6h0M1594.2 1263.7h0M1594.8 1269.9h0M1593.8 1274.7h0M1595.7 1279.2h0M1593.8 1283.8h0M1597.4 1288.2h0M1594.3 1293.2h0M1596.9 1297.6h0M1594.8 1302.7h0M1595.4 1307.6h0M1596.6 1312.8h0M1596.3 1319.2h0M1597.3 1325h0M1595.8 1331.4h0M1595.9 1335.2h0M1597.6 1340h0M1600.7 1350.4V1940M1601.3 1235.6h0M1602.5 1239.3h0M1602.7 1242.9h0M1601.6 1248.3h0M1599 1254.2h0M1599.5 1258.6h0M1600 1263.2h0M1598.6 1284h0M1598.6 1288.8h0M1602.9 1302.7h0M1602.8 1309h0M1599 1314.6h0M1600.4 1321h0M1600.2 1325.5h0M1598.6 1329.2h0M1599.9 1350.3h0M1602.5 1355.2h0M1605.8 1355.2V1940M1606.9 1232.9h0M1607.7 1258.2h0M1605 1261.8h0M1607.2 1266.2h0M1606 1272.5h0M1606 1278.3h0M1606.6 1304h0M1604.4 1310.4h0M1605.8 1314.9h0M1605.1 1324.5h0M1604.6 1330.9h0M1604.8 1337.3h0M1607.8 1341.1h0M1605.8 1345.8h0M1605.9 1350.2h0M1605.5 1354.7h0M1612 1194.4h0M1610.4 1200.9h0M1610.3 1207.2h0M1610.9 1211.2h0M1610.8 1330.4V1940M1612.7 1214.2h0M1609.2 1219.7h0M1611.2 1225.2h0M1612.5 1228.8h0M1608.9 1233.5h0M1611.8 1239.2h0M1610 1243h0M1611 1246.5h0M1610.6 1251.5h0M1610.4 1256.5h0M1611.5 1260.6h0M1611.9 1265.6h0M1612.5 1269.5h0M1611.1 1273.6h0M1610.8 1277.2h0M1611.9 1283.1h0M1610.5 1286.8h0M1610.1 1291.4h0M1608.6 1297h0M1611.5 1301.8h0M1612.6 1307.8h0M1608.7 1314.1h0M1612.6 1319.7h0M1610.8 1324.5h0M1609.4 1328.5h0M1612.3 1334.5h0M1612.7 1339.8h0M1615 1188.9h0M1615.6 1195.3h0M1614.5 1201.9h0M1615.9 1207.7h0M1616.1 1212.5h0M1615.9 1335.1V1940M1614.4 1215.6h0M1616.6 1222h0M1614.3 1226.6h0M1616 1231.3h0M1617.6 1237.8h0M1613.9 1242.7h0M1616.7 1247.9h0M1616.5 1252.3h0M1617.1 1258.5h0M1617.5 1262.1h0M1615.6 1265.7h0M1618 1269.4h0M1616 1274h0M1615.8 1290.3h0M1616.7 1294.7h0M1616.8 1312h0M1614.1 1316.9h0M1618 1323.1h0M1617.7 1328.6h0M1617.5 1332.3h0M1617.1 1337.4h0M1621.7 1199.2h0M1619.6 1203.2h0M1620.7 1207.8h0M1620.9 1321.9V1940M1620.5 1239h0M1620.3 1243.2h0M1619.5 1249.1h0M1619.1 1254.3h0M1619.9 1259.3h0M1620.1 1280.2h0M1622.8 1286.4h0M1618.9 1292.7h0M1620.2 1298.2h0M1622.2 1302.5h0M1620.2 1306.4h0M1618.8 1310.8h0M1619.1 1315.3h0M1623 1320.1h0M1621.5 1325.7h0M1620.9 1330.4h0M1621 1333.9h0M1621 1340.1h0M1626 1350.3V1940M1625.9 1226.3h0M1624.9 1303.4h0M1627.9 1320.6h0M1624.7 1324.6h0M1626.9 1328.4h0M1625.3 1334h0M1627.4 1340.4h0M1624 1346.9h0M1631.1 1344V1940M1630.1 1233.7h0M1629 1241.1h0M1632.8 1245.6h0M1633.2 1250.8h0M1632 1256.6h0M1629.1 1261.7h0M1630.2 1266.9h0M1629 1273.4h0M1631.9 1278.4h0M1632.3 1282.7h0M1631 1286.8h0M1633 1291.4h0M1632.8 1296.6h0M1629.9 1301.5h0M1631.6 1305.2h0M1632 1309.8h0M1631.4 1316h0M1629.2 1320h0M1630.1 1324.6h0M1632.1 1345.8h0M1629.5 1349.5h0M1631.2 1354.7h0M1636.1 1334.2V1940M1636 1226.9h0M1635.3 1232.7h0M1636.3 1237.2h0M1636.2 1258.6h0M1637.1 1263.5h0M1637.8 1268.7h0M1634.2 1272.8h0M1636.4 1278.7h0M1634.3 1284.3h0M1634.8 1289.3h0M1636.8 1293.9h0M1635.1 1297.9h0M1637.4 1301.5h0M1637.1 1307.9h0M1638.1 1313.7h0M1635 1319.8h0M1634.5 1325.5h0M1638.1 1329.1h0M1636.9 1333.9h0M1636 1340.4h0M1638 1345.7h0M1635.4 1351.6h0M1641.2 1342.3V1940M1639.1 1217.8h0M1641 1251.7h0M1642.3 1256.9h0M1639.9 1271.6h0M1639 1290.4h0M1639.2 1295.3h0M1642.3 1300.8h0M1640.2 1304.9h0M1641.6 1310.7h0M1642.1 1314.6h0M1643.1 1319.1h0M1639 1324.6h0M1640.9 1330.1h0M1642.3 1334.9h0M1642 1339.7h0M1646.2 1343.9V1940M1646.2 1233.8h0M1645.3 1270.6h0M1648.2 1276.8h0M1648.1 1280.4h0M1644.8 1284.2h0M1647.9 1288.1h0M1645 1293.3h0M1646.3 1299.8h0M1644.2 1304.2h0M1645.6 1308.4h0M1647 1314.5h0M1644.6 1318.9h0M1644.2 1323.1h0M1645.6 1329.1h0M1645.4 1334.5h0M1645.4 1339.2h0M1647.8 1343.8h0M1646.1 1349.7h0M1647.8 1356h0M1651.3 1366.4V1940M1649.3 1247.1h0M1651.2 1251.3h0M1649.3 1255.7h0M1651 1290.4h0M1651.2 1294.2h0M1650 1299.9h0M1650.3 1305.4h0M1652.7 1311.4h0M1652.3 1315.9h0M1652.5 1364.3h0M1656.3 1358.9V1940M1655.8 1245.6h0M1654.4 1252.1h0M1657.2 1256.9h0M1657.1 1262h0M1655.8 1320.7h0M1655.5 1346.4h0M1657.2 1351.5h0M1661.4 1333V1940M1659.5 1226.2h0M1660.5 1292.3h0M1661.3 1296.8h0M1659.2 1303.1h0M1662.1 1309.1h0M1662.6 1312.8h0M1659.5 1316.4h0M1663.5 1337.5h0M1666.5 1344.1V1940M1664.5 1225.1h0M1668.1 1229.6h0M1665.8 1244.8h0M1665.2 1250.1h0M1666.8 1254.3h0M1664.8 1259.7h0M1664.5 1264.6h0M1667 1270.8h0M1666.9 1276.2h0M1666.5 1280.9h0M1664.5 1284.5h0M1666.2 1290.7h0M1664.4 1296.4h0M1665.4 1300.5h0M1668.4 1306.5h0M1666.1 1312.1h0M1668.2 1317.3h0M1666.5 1321.2h0M1664.9 1327.2h0M1665.4 1332.4h0M1666.6 1336.9h0M1665 1340.8h0M1666 1344.3h0M1671.5 1360.3V1940M1670.3 1253.6h0M1670.5 1258.6h0M1672.6 1262.6h0M1672.9 1266.6h0M1672.5 1270.6h0M1669.8 1277h0M1671.6 1282.8h0M1670.4 1288.5h0M1670.1 1293.8h0M1671 1297.4h0M1673.2 1302.3h0M1671.4 1308.8h0M1670.1 1312.6h0M1669.4 1318.4h0M1671.5 1323.3h0M1673 1327.2h0M1672 1332h0M1669.4 1336.8h0M1669.9 1341.9h0M1669.8 1347.3h0M1673.1 1352.5h0M1672.2 1358.4h0M1670.5 1364.2h0M1672.8 1369.8h0M1676.6 1392.6V1940M1678.5 1304.7h0M1677.7 1309.6h0M1674.6 1313.6h0M1677.6 1319.1h0M1675.3 1324.2h0M1675.6 1329.2h0M1675.8 1340.6h0M1677.5 1346.3h0M1678.2 1351.5h0M1677.7 1357.8h0M1678.5 1363.8h0M1674.7 1367.6h0M1674.6 1373.8h0M1675.3 1378.3h0M1676.1 1382.3h0M1675.6 1387.4h0M1675.3 1393.6h0M1681.6 1385.1V1940M1681.9 1329.3h0M1683.7 1335.5h0M1683.1 1354.9h0M1682.1 1358.8h0M1682.3 1363.6h0M1682.2 1369.6h0M1682 1373.4h0M1679.5 1377.6h0M1681.8 1381.7h0M1681.9 1386.4h0M1680 1391.6h0M1686.7 1363.1V1940M1685.8 1292.1h0M1685.8 1297.6h0M1685.3 1302.4h0M1687.9 1315.7h0M1684.9 1321.6h0M1688.7 1325.3h0M1687.4 1330.9h0M1686.2 1334.8h0M1685.6 1340.3h0M1686.1 1346.1h0M1687.8 1349.8h0M1685.8 1353.4h0M1686.6 1358.8h0M1685.1 1364.3h0M1684.6 1369.3h0M1686.3 1373.2h0M1686.4 1376.7h0M1691.9 1181.9h0M1691.8 1187.4h0M1691.6 1194.2h0M1693.1 1199.2h0M1692.3 1205h0M1691.5 1210.6h0M1691.2 1214.9h0M1690.9 1219.1h0M1692.7 1225.2h0M1692.4 1231h0M1691.1 1236.2h0M1691.7 1350V1940M1691.8 1253.9h0M1691 1258.9h0M1690.1 1264h0M1693.7 1267.8h0M1689.6 1283h0M1690.4 1287.7h0M1693.9 1293.1h0M1693.4 1297.2h0M1693.2 1302.7h0M1691.2 1307h0M1692.2 1311.1h0M1689.7 1316.2h0M1691.2 1320.3h0M1690.7 1324.2h0M1692.9 1327.7h0M1693.1 1332.2h0M1693.1 1337.4h0M1690.1 1341.6h0M1690.7 1345.2h0M1690.7 1349.6h0M1690.6 1353.1h0M1692.4 1357h0M1690.6 1361.1h0M1696.8 1382.7V1940M1696.8 1328.1h0M1696.8 1334.3h0M1696.8 1339.9h0M1696.3 1344.9h0M1694.7 1348.5h0M1694.9 1354.6h0M1696.8 1360.1h0M1696.4 1364.5h0M1696.8 1370.8h0M1695.2 1375.9h0M1694.7 1381h0M1695.8 1385.6h0M1696.8 1392h0M1696.1 1396h0M1509.7 1347.5h0M1514.6 1289.1h0M1522.4 1211.3h0M1528.2 1187.9h0M1538 1250.2h0M1545.8 1199.6h0M1555.5 1242.4h0M1569.1 1211.3h0M1576.9 1203.5h0M1584.7 1289.1h0M1594.4 1211.3h0M1604.1 1242.4h0M1610 1191.8h0M1619.7 1184h0M1627.5 1230.7h0M1641.1 1211.3h0M1652.8 1250.2h0M1664.4 1211.3h0M1674.2 1265.8h0M1685.8 1261.9h0M1691.7 1168.5h0M1696.8 1289.1h0M1545.3 938.9h0M1545.3 942.9h0M1546 953.9h0M1544.7 959.9h0M1545.7 963.9h0M1545.2 968.9h0M1544.6 979.9h0M1544.9 988.9h0M1545.8 991.9h0M1544.7 996.9h0M1544.7 1007.9h0M1545.9 1018.9h0M1545.8 1027.9h0M1545.4 1028.4h0M1565 1102.3h0M1566 1111.3h0M1564.4 1122.3h0M1565.3 1129.3h0M1564.9 1133.3h0M1564.6 1138.3h0M1565.2 1141.2h0M1618.9 1125.7h0M1620.5 1129.7h0M1618.9 1140.7h0M1620.4 1145.7h0M1620 1156.7h0M1619.9 1160.7h0M1620.2 1167.7h0M1619.3 1173.7h0M1619.7 1180.2h0M1663.9 1106.2h0M1662.7 1115.2h0M1663.2 1122.2h0M1663.4 1126.2h0M1662.7 1135.2h0M1663.3 1137.4h0M1565.2 1019.5h0M1564 1044h0M1545.4 1038.1h0M1545.4 1058.8h0M1529 1075.1h0M1621.6 1012.1h0M1646.1 1007h0M1621.6 1033.5h0M1608 1040.1h0M1665.2 1036.2h0M1625.5 1090.7h0M1625.5 1100.4h0M1618.9 1110.1h0M1543.8 1125.7h0M1545.4 1145.1h0M1520.5 1157.6h0M1529 1157.6h0M1670.3 1150.2h0M1662.5 1158h0M1571.1 1179.4h0M1571.1 1186h0M1608 1174.3h0M1631.4 1174.3h0M1652.8 1171.6h0M1664.4 1178.2h0M1641.1 1187.9h0M1652.8 1186h0M1680 1176.3h0M1689.7 1168.5h0M1664.4 1197.7h0M1678.1 1198.8h0M1581.9 1201.6h0M1551.6 1202.7h0M1510 1217.1h0M1510 1240.5h0M1594.4 1212.5h0M1635.3 1208.6h0M1545.3 870h0M1565.1 877h0M1665.5 812.1h0M1665.5 866.1h0"/>
<path stroke="#87CEEB" d="M1723.3 1396.1V1940M1723.3 1288.4h0M1724.3 1314.7h0M1723.3 1326.7h0M1723.5 1332.7h0M1723.6 1338.1h0M1723.3 1343.3h0M1724.7 1348.2h0M1723.3 1352.1h0M1725.4 1358.2h0M1723.4 1363.6h0M1724 1372.2h0M1723.3 1375.9h0M1724.7 1381.4h0M1725.4 1386.6h0M1724.6 1392.9h0M1723.3 1398.7h0M1723.3 1403.7h0M1724.3 1407.3h0M1728.3 1348.6V1940M1728.2 1243.5h0M1726.6 1247.4h0M1727.1 1251h0M1728.5 1257.4h0M1729.6 1262.3h0M1728.1 1268.6h0M1730 1272.6h0M1726.3 1278.4h0M1729.9 1284.2h0M1728.9 1290.1h0M1730.3 1296.1h0M1728.5 1301.3h0M1726.2 1305.1h0M1728.2 1311.6h0M1728 1315.3h0M1726.9 1318.8h0M1726.9 1322.4h0M1729.2 1326.4h0M1729.2 1332.4h0M1728.1 1337.5h0M1727.5 1344h0M1728.8 1348.9h0M1726.1 1353.2h0M1730 1359.2h0M1727.2 1363.8h0M1734.5 1231.6h0M1733.3 1236.2h0M1734.3 1241.6h0M1733.5 1247.3h0M1733.2 1372.2V1940M1732.5 1255.3h0M1733.3 1260.3h0M1732.7 1266.5h0M1732.4 1300.5h0M1733.7 1305.7h0M1734.8 1311.2h0M1732.3 1316.6h0M1732.8 1321.8h0M1731.9 1328.1h0M1734.2 1332.8h0M1733.1 1337h0M1735.4 1341.7h0M1732.5 1347h0M1735 1350.9h0M1731.6 1354.6h0M1731.7 1359.7h0M1733.4 1365.7h0M1735.2 1371h0M1735.3 1377.4h0M1737.7 1240h0M1737.5 1244.5h0M1738.2 1364.8V1940M1738.4 1255.4h0M1736.4 1260.9h0M1738.2 1325.7h0M1738.5 1330.7h0M1737.5 1334.4h0M1738.6 1338.2h0M1738.5 1342.2h0M1738.8 1348.4h0M1737.9 1352.8h0M1738.3 1368.7h0M1736.6 1375.1h0M1743.2 1364.1V1940M1744.7 1252.3h0M1742.6 1256h0M1741.4 1319h0M1742.5 1324.5h0M1742.8 1330.7h0M1743.6 1337.1h0M1748.2 1378.5V1940M1748.4 1324.7h0M1748.9 1331.2h0M1749.4 1336.7h0M1747.8 1341.2h0M1746.4 1345.1h0M1748.3 1349.9h0M1753.1 1396.8V1940M1754.9 1350.7h0M1754.5 1354.5h0M1753.1 1383h0M1753.6 1387.2h0M1751.1 1391.6h0M1758.1 1393.5V1940M1758.8 1302.6h0M1757.1 1306.3h0M1757.9 1315.8h0M1758.9 1321.3h0M1759 1326.4h0M1756.7 1330.4h0M1758.9 1336.8h0M1758.2 1340.6h0M1756 1346.4h0M1757.5 1350h0M1760.2 1354.7h0M1757.3 1360.1h0M1757.3 1365.5h0M1758.2 1371h0M1756.7 1377.3h0M1759.5 1382.1h0M1757.7 1387h0M1757.6 1390.7h0M1763.1 1384.4V1940M1761 1332.2h0M1768.1 1387.3V1940M1766.8 1277.6h0M1766.8 1281.3h0M1767.5 1286.4h0M1768 1298.8h0M1769.1 1304.5h0M1770.3 1308.4h0M1768.3 1313.1h0M1769.8 1317.1h0M1768.9 1323.5h0M1768.2 1328.3h0M1767.9 1333h0M1768.5 1336.5h0M1769.1 1341.1h0M1766.3 1346h0M1767.1 1349.6h0M1769.3 1355.3h0M1766.5 1361.4h0M1765.9 1366.3h0M1769.9 1371h0M1768.6 1377h0M1766 1382.7h0M1766.4 1386.8h0M1767.9 1390.8h0M1766.4 1395.9h0M1767.7 1400.5h0M1773 1402.5V1940M1771.6 1287.8h0M1772.1 1292h0M1774.4 1296.8h0M1770.9 1307.6h0M1772.2 1313.2h0M1771.7 1317.4h0M1773.3 1321.3h0M1774.1 1326.1h0M1774.8 1330.5h0M1773.3 1336.1h0M1774 1341h0M1772.8 1345.3h0M1774.9 1349.9h0M1774.6 1354.3h0M1772.6 1359.3h0M1773 1365.4h0M1771.8 1370.3h0M1773.1 1375.4h0M1771.5 1379.1h0M1773.8 1383.1h0M1771.2 1388.3h0M1775.2 1392.8h0M1771.1 1397.7h0M1774.6 1402.3h0M1773.3 1407.1h0M1778 1402.5V1940M1777.6 1320.6h0M1783 1407.2V1940M1784.2 1329h0M1783.3 1371.9h0M1782.3 1377.7h0M1781.3 1383.8h0M1781.9 1387.4h0M1784.9 1393.3h0M1782.1 1398h0M1784.8 1404.5h0M1788 1404.8V1940M1786.4 1321h0M1789 1324.7h0M1790.2 1329.4h0M1788.2 1333.8h0M1789.2 1338h0M1788.4 1401.6h0M1789.4 1405.1h0M1792.9 1392V1940M1793.7 1308h0M1792.5 1320.5h0M1795 1327h0M1793.8 1331.6h0M1794.1 1337.4h0M1792.9 1349.4h0M1792.3 1353.2h0M1791 1357.7h0M1792.2 1362.5h0M1794.6 1368h0M1794.7 1373.8h0M1791.8 1380.1h0M1793.5 1384.3h0M1791.9 1393.7h0M1793.4 1399.1h0M1790.8 1404.3h0M1794.4 1407.8h0M1797.9 1401.7V1940M1796.4 1299.9h0M1798.1 1304.1h0M1795.8 1309.2h0M1796.8 1314.6h0M1799.6 1318.7h0M1798.6 1325.1h0M1800.1 1331.4h0M1796 1335.6h0M1798.9 1341.5h0M1797.1 1345h0M1796.3 1351.2h0M1797.4 1357h0M1798.5 1361.7h0M1799.4 1367.4h0M1797.3 1373.6h0M1796.7 1379.1h0M1796.4 1383.4h0M1798.6 1387.6h0M1798.1 1391.9h0M1799.8 1397.2h0M1797.1 1401.6h0M1802.9 1390.7V1940M1804.1 1277.3h0M1802.4 1389.1h0M1802.8 1392.8h0M1807.9 1381.2V1940M1806.5 1267.2h0M1806 1270.9h0M1808.6 1306.2h0M1808.6 1332.1h0M1807.6 1336.2h0M1809.5 1342.1h0M1806.8 1348.2h0M1808.5 1353.4h0M1806.9 1358.6h0M1809 1362.2h0M1807.2 1367.2h0M1808.6 1372.1h0M1807.3 1375.7h0M1809.6 1379.7h0M1806.1 1383.2h0M1808.1 1388.8h0M1812.8 1380.3V1940M1814.1 1273.7h0M1813.9 1279.9h0M1813.2 1310.5h0M1811 1315.8h0M1811.9 1321.6h0M1813.5 1325.2h0M1814.6 1379.1h0M1812.8 1384.5h0M1815 1393.6h0M1817.8 1382.2V1940M1817.6 1265.7h0M1818.4 1312.5h0M1818.3 1334.7h0M1817.4 1339.8h0M1818.1 1345h0M1816.7 1349.3h0M1822.8 1373.7V1940M1822.7 1264.5h0M1822.1 1386.5h0M1827.8 1389.8V1940M1827.4 1271.4h0M1829.3 1277h0M1827.2 1281.2h0M1825.7 1284.9h0M1827.6 1289.4h0M1826 1293h0M1828 1298.6h0M1827.2 1303.7h0M1826.9 1308.4h0M1829.7 1325.6h0M1829.8 1329.8h0M1826.6 1336.2h0M1827.1 1340.6h0M1826 1347h0M1828.4 1353.3h0M1829 1358.3h0M1827.5 1363.6h0M1829 1368.3h0M1825.6 1372.1h0M1826.2 1377.2h0M1829.5 1382.5h0M1827.5 1386h0M1829.7 1390.4h0M1828.8 1394.3h0M1832.7 1379.1V1940M1831.8 1275.3h0M1832.6 1279.7h0M1832.7 1285.8h0M1832.5 1289.6h0M1834.2 1294.3h0M1830.9 1297.9h0M1831.7 1301.4h0M1831 1307.1h0M1831.7 1323.1h0M1832.8 1328.8h0M1832.8 1333.6h0M1833.7 1338.4h0M1831.9 1342.6h0M1833.8 1347.8h0M1832.4 1352.5h0M1837.7 1389.8V1940M1838.2 1326.3h0M1836.2 1331.9h0M1842.7 1397V1940M1841.2 1273.9h0M1844.5 1357.9h0M1841.3 1361.6h0M1840.9 1366.8h0M1840.8 1370.5h0M1843.4 1375.7h0M1844.8 1380.9h0M1843.5 1386h0M1842.5 1389.7h0M1844 1395.6h0M1847.7 1389V1940M1848.4 1287h0M1847.9 1293.4h0M1846.7 1299.1h0M1846.7 1304.7h0M1848.6 1315.1h0M1849.7 1321.2h0M1848.4 1325.4h0M1847.5 1330.9h0M1846.2 1334.5h0M1849.5 1340.7h0M1847.9 1346.9h0M1847.9 1352.5h0M1846.4 1358.1h0M1846 1362.1h0M1847.7 1368.4h0M1849.9 1373.7h0M1846.1 1379h0M1846.9 1384.7h0M1847.3 1388.7h0M1848 1394.8h0M1849.3 1400.8h0M1852.6 1385.5V1940M1850.5 1272.4h0M1852.7 1277.4h0M1851.3 1282.9h0M1854.7 1287.5h0M1854.7 1327.8h0M1851.5 1332.9h0M1853.5 1337.6h0M1853.5 1372.8h0M1851.3 1379.1h0M1851.2 1384.5h0M1854 1391h0M1857.6 1379V1940M1859.1 1270.1h0M1856.3 1273.6h0M1857.1 1278.9h0M1857.3 1336.3h0M1857.8 1342.2h0M1858.8 1345.7h0M1855.9 1349.3h0M1855.6 1354.2h0M1858.4 1359.8h0M1859.2 1365.8h0M1856.5 1370.6h0M1859.6 1377h0M1858.7 1382.5h0M1862.6 1364.3V1940M1862.5 1250.4h0M1862.7 1256.5h0M1861.3 1260.4h0M1863.9 1265.6h0M1864.1 1298.8h0M1860.4 1303h0M1864.4 1307.1h0M1861.2 1311h0M1863.7 1316.2h0M1861.8 1322.4h0M1863.4 1327.6h0M1863.9 1334h0M1867.6 1349.5V1940M1868.7 1243h0M1866.6 1310.6h0M1867.9 1315.4h0M1866.7 1353.2h0M1869.4 1357.1h0M1867.6 1362.4h0M1869.3 1367h0M1873.8 1239.9h0M1872 1246.1h0M1873.3 1250.9h0M1873.4 1255h0M1872.5 1380V1940M1872.8 1258.5h0M1870.5 1317.6h0M1870.9 1323.8h0M1871.3 1349.6h0M1870.4 1355.7h0M1872.1 1381.6h0M1878.9 1238.5h0M1877.1 1243.5h0M1876.1 1247.7h0M1878 1252.7h0M1877.5 1373.3V1940M1878.7 1258.6h0M1875.5 1264.4h0M1878.8 1269.4h0M1875.4 1273.4h0M1879.6 1279.9h0M1875.5 1286h0M1878.5 1290.6h0M1876.9 1295.2h0M1879.2 1299.9h0M1875.7 1305.5h0M1879.2 1309.8h0M1877.2 1315.3h0M1879.5 1320.3h0M1878.1 1324.4h0M1878.1 1329h0M1877 1335.4h0M1878.2 1339.5h0M1877.8 1346h0M1876.4 1349.6h0M1878.3 1353.2h0M1877 1359.3h0M1877 1365.6h0M1878.4 1370.2h0M1877.4 1374h0M1876.8 1379.2h0M1882.5 1362.2V1940M1881.6 1289.2h0M1884 1295.3h0M1881.2 1300.5h0M1883.9 1304.4h0M1883.9 1309.4h0M1882.5 1369.4h0M1887.5 1369V1940M1885.9 1258.3h0M1888.7 1322.4h0M1887.8 1326.4h0M1886.3 1330.5h0M1886.2 1335.8h0M1886.3 1350.8h0M1886.6 1354.9h0M1886.3 1359.8h0M1886.8 1366h0M1889.4 1370.5h0M1888.2 1374.5h0M1892.4 1374.3V1940M1891.9 1263.4h0M1892.2 1267.5h0M1891 1271.7h0M1891 1275.3h0M1890.7 1280.8h0M1891.7 1284.9h0M1894.4 1290.1h0M1891.2 1295h0M1893.2 1301.3h0M1890.7 1307.5h0M1893.2 1313.6h0M1891.6 1319h0M1893.8 1323.5h0M1891 1327.4h0M1890.4 1331.4h0M1891.5 1335h0M1892.9 1339.4h0M1893 1343.2h0M1890.8 1346.7h0M1890.3 1350.3h0M1890.4 1354.4h0M1892.7 1359.2h0M1894.1 1365.6h0M1894.6 1369.9h0M1894 1374.7h0M1890.3 1380.8h0M1891.8 1385.4h0M1897.4 1404.9V1940M1896.2 1297h0M1895.5 1302h0M1896.7 1315.6h0M1895.6 1320.6h0M1897.4 1326.7h0M1897.1 1336.9h0M1895.7 1342.4h0M1897.4 1347.8h0M1895.6 1353.6h0M1897.4 1358.6h0M1895.3 1363.1h0M1897.4 1366.8h0M1895.5 1371.1h0M1895.9 1375.6h0M1897.4 1379.7h0M1897.4 1383.4h0M1897 1388.5h0M1897.4 1393.9h0M1897.4 1400.1h0M1896.6 1406h0M1723.3 1328h0M1724.7 1258h0M1732.5 1223h0M1744.2 1250.2h0M1752 1265.8h0M1763.7 1258h0M1775.3 1285.2h0M1787 1320.2h0M1798.7 1273.5h0M1810.4 1265.8h0M1822 1261.9h0M1833.7 1265.8h0M1845.4 1269.6h0M1857 1265.8h0M1864.8 1242.4h0M1876.5 1230.7h0M1884.3 1242.4h0M1894 1265.8h0M1897.4 1328h0M1864.3 1133.5h0M1863.8 1142.5h0M1863.1 1148.5h0M1863.6 1152.5h0M1863.8 1157.5h0M1862.9 1163.5h0M1863.7 1167.5h0M1863.6 1173.5h0M1864.1 1178.5h0M1863 1184.5h0M1864.4 1189.5h0M1863.7 1195.7h0M1880 1164.6h0M1879.7 1169.6h0M1881 1178.6h0M1880.1 1187.6h0M1879.9 1194.6h0M1880.2 1198.6h0M1879.8 1202.6h0M1880.7 1205.6h0M1880.2 1214.6h0M1879.7 1219.6h0M1880.4 1223h0M1729.6 1044h0M1728.4 1053h0M1729 1055.6h0M1729.4 1082.9h0M1729.7 1089.9h0M1729 1098.4h0M1729 926.1h0M1762.9 936.2h0M1729 993.4h0M1729 1001.2h0M1746.9 1049.8h0M1746.9 1073.2h0M1762.5 1112.1h0M1776.1 1119.1h0M1726.3 1134.6h0M1726.3 1152.9h0M1732.5 1156.8h0M1738.4 1165.8h0M1729 1176.3h0M1753.9 1182.9h0M1738.4 1191.8h0M1732.5 1202.7h0M1762.5 1197.7h0M1776.1 1194.9h0M1800.2 1191.8h0M1783.1 1214h0M1801.8 1211.3h0M1762.5 1217.1h0M1745.4 1221h0M1762.5 1230.7h0M1864.8 1026.5h0M1864.8 1036.2h0M1893.2 1047.9h0M1881.2 1062.3h0M1864.8 1089.5h0M1861.7 1101.2h0M1863.7 1121.8h0M1825.9 1133.5h0M1825.1 1151h0M1842.3 1160.7h0M1852.4 1178.2h0M1832.9 1187.2h0M1821.2 1199.6h0M1829.8 1195.7h0M1841.5 1191.8h0M1830.6 1224.9h0M1837.6 1234.6h0M1845.4 1224.9h0M1821.2 1251.4h0M1841.5 1252.1h0M1864.8 1246.3h0M1896 1240.5h0M1776.1 1286h0M1762.5 1256h0M1745.4 1249h0M1747.2 875.1h0"/>
<path stroke="#BEBEBE" d="M1922.5 1076.7h0M1923.6 1081.6h0M1925.1 1086.7h0M1924.7 1092.4h0M1923.1 1098.2h0M1922.7 1103.9h0M1924 1109.7h0M1924.5 1129.1h0M1923.7 1135.3h0M1923.5 1140.4h0M1924.1 1145h0M1925.2 1151.9h0M1923.9 1158.8h0M1923.1 1169.9h0M1924.1 1175h0M1922.4 1179.8h0M1923.7 1190.8h0M1923 1196.1h0M1925.2 1200.2h0M1922.7 1206.7h0M1925.3 1211.9h0M1923.7 1217.8h0M1925.2 1224h0M1923.5 1230.8h0M1923.8 1340V1940M1925.9 1237.7h0M1923.8 1318.1h0M1928.4 1084.3h0M1928.5 1089.7h0M1928.7 1095.1h0M1929.2 1101.1h0M1928.8 1106.3h0M1927.4 1112.2h0M1929.7 1119.2h0M1927.5 1125.1h0M1927.5 1130.9h0M1929.9 1137h0M1930 1148.1h0M1927.8 1154.8h0M1930.2 1164.9h0M1928.1 1171.1h0M1929.9 1176.8h0M1929 1183.2h0M1929.6 1188.8h0M1928.9 1195.7h0M1927.8 1199.9h0M1928.1 1204h0M1929.6 1210.2h0M1927.5 1216.7h0M1928.9 1223.5h0M1930.2 1228.8h0M1928.6 1233.2h0M1928.8 1341V1940M1930.7 1237.6h0M1930.8 1273.8h0M1928.3 1278.1h0M1927.8 1283h0M1927.6 1288.3h0M1929.2 1294.2h0M1928.9 1322h0M1929.7 1327.8h0M1929.1 1332.3h0M1926.8 1336.1h0M1928.8 1341.2h0M1929.3 1347.2h0M1929.5 1352.1h0M1927.4 1356.4h0M1935 1129.1h0M1932.5 1134.4h0M1934 1139.8h0M1933.2 1145.9h0M1933 1152.5h0M1932.6 1159.1h0M1934.2 1164.8h0M1935.1 1170.9h0M1934.6 1175.1h0M1932.9 1179.5h0M1933.9 1184.5h0M1934.2 1188.9h0M1935.2 1199.1h0M1934.7 1204.4h0M1935.1 1210.8h0M1933.4 1223.3h0M1934.3 1229.3h0M1933.6 1233.5h0M1934.5 1239.7h0M1934.6 1246.6h0M1933.9 1368.6V1940M1935.6 1256.5h0M1931.7 1260.1h0M1932.8 1264.3h0M1932.6 1269.2h0M1933.4 1274.8h0M1934.1 1280h0M1933.4 1283.7h0M1935.8 1289.2h0M1931.9 1295.2h0M1936 1299.1h0M1931.7 1303.4h0M1934 1308.2h0M1933.2 1312.4h0M1934 1316.2h0M1935.6 1321.9h0M1933 1325.6h0M1934.8 1331.7h0M1931.8 1337.1h0M1931.9 1342.6h0M1932.9 1348.5h0M1933 1354h0M1932.5 1358.8h0M1933.9 1363.3h0M1933.5 1367.4h0M1934.7 1371.5h0M1938.9 1365.8V1940M1940.6 1251h0M1937.5 1297.2h0M1938.7 1302.6h0M1940.8 1345.7h0M1937.9 1349.6h0M1940 1353.5h0M1940.2 1358.4h0M1937.3 1363.3h0M1936.9 1366.8h0M1937.2 1372.9h0M1944.3 1222.3h0M1944.8 1228.7h0M1943.2 1239.7h0M1943.7 1246.5h0M1944 1252.4h0M1943.9 1379.1V1940M1944.2 1254.3h0M1949.7 1230.3h0M1948.1 1247h0M1948.5 1251.3h0M1949 1361V1940M1947.2 1257.1h0M1949.5 1262h0M1949.7 1307.9h0M1950.3 1330.4h0M1948.1 1336.2h0M1951 1341.8h0M1947.3 1347.9h0M1949.6 1358.9h0M1949.5 1376.2h0M1954 1383.8V1940M1955 1260.3h0M1954.6 1265.4h0M1953.3 1283.5h0M1951.8 1297.2h0M1953.4 1315.3h0M1955.9 1321.8h0M1952.8 1328.2h0M1952.5 1334.4h0M1954.4 1343.6h0M1952.1 1348.5h0M1952.4 1354.2h0M1954.6 1360.1h0M1954.3 1363.8h0M1953 1379.1h0M1955.5 1384.6h0M1959 1377.4V1940M1960.2 1265.3h0M1958.9 1270.5h0M1960 1313.7h0M1958.3 1319.6h0M1958.8 1325.6h0M1960.1 1331.7h0M1960.2 1337.1h0M1959.3 1342.8h0M1956.9 1349.2h0M1960.3 1353.7h0M1958.1 1358.1h0M1960 1362.3h0M1957.3 1366.1h0M1960 1371.5h0M1958.7 1376.3h0M1957.8 1382.5h0M1957 1388.6h0M1964.1 1390.6V1940M1964.3 1272.2h0M1964.5 1277.1h0M1964.5 1294.8h0M1962 1300.4h0M1963 1331.8h0M1962.5 1366.2h0M1966.2 1371.5h0M1964.9 1379.8h0M1964.3 1384.7h0M1963.7 1389.6h0M1964.2 1394.2h0M1969.1 1394.8V1940M1969.9 1277.3h0M1969.5 1282.7h0M1968.5 1286.9h0M1967.2 1292.7h0M1969.1 1297.2h0M1969.1 1303.1h0M1967.3 1309.5h0M1967.4 1332.4h0M1971.3 1338.6h0M1967.1 1344.3h0M1970.2 1349.6h0M1969.3 1355.7h0M1967.5 1361.7h0M1967.8 1389.3h0M1969.8 1393.5h0M1969 1398.2h0M1974.1 1399.5V1940M1975.2 1289.2h0M1975.3 1295.1h0M1971.9 1298.7h0M1975.9 1302.6h0M1972.2 1308.6h0M1974.8 1314.9h0M1973.8 1320h0M1975.9 1325.8h0M1974.3 1332h0M1972.2 1338.1h0M1975.4 1343.4h0M1973.2 1347.3h0M1975 1372.8h0M1976 1376.9h0M1974.5 1382.1h0M1975.5 1386.9h0M1974.5 1392.7h0M1974.3 1397.1h0M1972.3 1401h0M1972.5 1406.3h0M1979.2 1406.4V1940M1977.6 1289.8h0M1977.4 1295.9h0M1981.3 1310.6h0M1979.1 1316.9h0M1979.2 1323.1h0M1981.2 1327.8h0M1978.6 1332.5h0M1980.3 1338.6h0M1979.9 1359h0M1978 1364.5h0M1980.7 1369.5h0M1980.5 1374h0M1980.9 1378h0M1981.3 1383.5h0M1981.3 1388h0M1979.6 1391.9h0M1980.2 1395.7h0M1984.2 1401.8V1940M1982 1284.2h0M1982.3 1290.4h0M1982.2 1296.1h0M1984.2 1300.5h0M1982.3 1305.5h0M1985.8 1318.6h0M1984.6 1322.9h0M1985.8 1327.7h0M1985.5 1338.4h0M1983.6 1344.4h0M1985.2 1349.3h0M1983 1353.2h0M1983 1356.8h0M1986.1 1362.1h0M1985.9 1367.9h0M1983 1372.2h0M1985.9 1378.4h0M1982.3 1382.2h0M1982.8 1388.6h0M1985 1392.3h0M1985.4 1396.1h0M1982.8 1400.7h0M1982.9 1405.2h0M1989.2 1392.8V1940M1988.8 1274.8h0M1989.2 1278.6h0M1990.6 1351.6h0M1991.4 1356.3h0M1987.5 1359.9h0M1987.5 1365.5h0M1990.3 1369.4h0M1988.5 1375.5h0M1988 1381.7h0M1988.1 1385.7h0M1987.7 1390.3h0M1990.7 1394.4h0M1994.3 1388.2V1940M1995 1277h0M1996.3 1280.9h0M1994.8 1291.6h0M1996.3 1296.4h0M1996.2 1301.7h0M1994 1305.4h0M1992.5 1309.6h0M1994.1 1314.9h0M1993.5 1318.8h0M1995.4 1324.2h0M1992.2 1329.4h0M1995.4 1335.8h0M1994.4 1341.6h0M1992.3 1346.1h0M1995.7 1350.7h0M1994.4 1355.4h0M1994.6 1359.6h0M1995.5 1364.9h0M1993.1 1369.6h0M1995.3 1374.7h0M1993 1378.8h0M1992.1 1385h0M1994.3 1391.2h0M1994.6 1397.5h0M1994.1 1401.4h0M1999.3 1396V1940M1997.6 1346.2h0M1999.3 1386.5h0M2000.7 1390.3h0M1997.2 1394.7h0M2001.1 1400.5h0M1998.3 1405.9h0M2004.3 1399.1V1940M2002.8 1296.1h0M2004.8 1300.9h0M2002.8 1320.7h0M2005.7 1327.1h0M2005.6 1333.5h0M2005.8 1337.2h0M2004.8 1343.3h0M2006.1 1348.7h0M2004.3 1354h0M2002.3 1357.9h0M2003.5 1362.9h0M2005.9 1373.9h0M2004.3 1378.8h0M2004.8 1383.1h0M2003.4 1388.8h0M2002.2 1395.1h0M2004.1 1400h0M2006.4 1403.8h0M2004.2 1407.9h0M2009.4 1401.2V1940M2010.9 1306.1h0M2008.9 1311h0M2011.2 1315.5h0M2010.1 1321.7h0M2009.1 1327.6h0M2009.4 1332.7h0M2008.8 1336.6h0M2010.4 1341.5h0M2007.9 1346.1h0M2008.1 1349.7h0M2007.8 1354.8h0M2007.6 1359.5h0M2009.2 1364.5h0M2010.5 1368.4h0M2007.4 1373.6h0M2008.4 1378h0M2009.8 1383.7h0M2009.4 1388h0M2010.9 1394.1h0M2010.9 1398.8h0M2007.8 1403.2h0M2014.4 1392.3V1940M2016.3 1357.3h0M2012.9 1361.9h0M2014.6 1367.7h0M2015.6 1372.8h0M2015.4 1377.6h0M2015.2 1382h0M2013.3 1388.2h0M2013.2 1394.5h0M2016.4 1399.1h0M2013.8 1403.8h0M2013.2 1407.6h0M2019.5 1396.3V1940M2021.5 1327.7h0M2017.6 1344.5h0M2018.8 1348.4h0M2018.7 1353.9h0M2017.4 1359.2h0M2019.7 1365.4h0M2018.5 1371.4h0M2019.6 1376.6h0M2020.7 1381.8h0M2020.1 1386h0M2018.4 1389.7h0M2021.4 1394.5h0M2018.5 1400h0M2021.3 1406h0M2024.5 1389.3V1940M2023.1 1336.4h0M2022.8 1341.2h0M2023.9 1346.9h0M2023.2 1351.4h0M2022.5 1356.8h0M2022.7 1361.1h0M2024.8 1365.3h0M2025.5 1369.6h0M2023 1373.1h0M2023.8 1377.4h0M2022.7 1383.2h0M2024.4 1388.3h0M2023.9 1393.3h0M2023.2 1398.8h0M2024.3 1404h0M2029.5 1393.8V1940M2029.1 1322.3h0M2031 1326h0M2027.7 1336.3h0M2029.7 1342.5h0M2031.1 1346.7h0M2030.3 1350.2h0M2030.2 1354.1h0M2031.5 1359.6h0M2028 1372.1h0M2029.9 1377.6h0M2031.6 1381.7h0M2030.6 1385.5h0M2031.4 1390.4h0M2030.2 1394.9h0M2029.2 1401.4h0M2031.1 1406h0M2034.6 1389V1940M2034.8 1315.2h0M2034.6 1319.2h0M2032.9 1324.3h0M2036 1330.4h0M2036.3 1341.7h0M2033 1346.2h0M2034.4 1350.9h0M2034.3 1354.7h0M2036.1 1361.1h0M2034.5 1370.2h0M2034.8 1376.4h0M2035.7 1385.3h0M2035.2 1390.6h0M2034.7 1395.1h0M2034 1400.2h0M2035.5 1403.7h0M2039.6 1390.9V1940M2038.1 1369h0M2044.6 1398.7V1940M2046.3 1333.1h0M2043.9 1339.1h0M2043.1 1342.7h0M2046.7 1347.3h0M2049.7 1398.7V1940M2048.2 1289.5h0M2049.3 1326.8h0M2050.9 1332.8h0M2049.1 1337.7h0M2051.5 1351.6h0M2051.4 1355.4h0M2049.9 1360.1h0M2047.9 1366.1h0M2049.2 1377.9h0M2048.8 1382.4h0M2050.6 1387.8h0M2051.2 1391.5h0M2049.3 1396.2h0M2051 1401.3h0M2051.3 1405.4h0M2054.7 1396.5V1940M2053.8 1280.8h0M2054.6 1330.7h0M2054.7 1336.6h0M2056.1 1342.1h0M2054.2 1348.5h0M2056.2 1353.4h0M2054.8 1357.1h0M2054.5 1361.4h0M2054.5 1367.5h0M2056.1 1373.9h0M2053.2 1379.7h0M2055.9 1386.1h0M2056.2 1390.1h0M2053 1394.2h0M2052.6 1399.5h0M2056.4 1405.3h0M2059.7 1401.2V1940M2060.3 1278h0M2060.9 1283.7h0M2059.6 1292.8h0M2061.4 1297.7h0M2059.3 1344.7h0M2061.5 1348.3h0M2058.9 1353h0M2061.3 1357.6h0M2060.3 1362.3h0M2059 1366.9h0M2059.7 1371.5h0M2061.6 1377h0M2058.3 1383.2h0M2059.7 1388.3h0M2061 1392.4h0M2058.9 1396h0M2059 1399.9h0M2064.8 1270.1h0M2065.6 1281.3h0M2064.5 1285.5h0M2064.8 1388.9V1940M2065.2 1286.3h0M2064.4 1313.7h0M2063.2 1317.6h0M2065.2 1321.5h0M2062.7 1327.5h0M2064.1 1333.4h0M2062.9 1339.6h0M2063.7 1351.8h0M2065.3 1357.1h0M2066.6 1362.5h0M2064.8 1367.7h0M2063.4 1372.5h0M2066.4 1387.1h0M2064.7 1391.7h0M2063.6 1396.4h0M2063.8 1401.5h0M2065.9 1405.2h0M2070.3 1255.6h0M2071.3 1266.3h0M2070.4 1271.8h0M2068.4 1277.2h0M2069.8 1397.9V1940M2069.4 1282.3h0M2074.7 1261.7h0M2074.2 1267.7h0M2074.8 1400.2V1940M2076.1 1282.2h0M2073.2 1313.2h0M2073.8 1318h0M2079.9 1392V1940M2081.6 1278.1h0M2079.8 1283.7h0M2081.9 1289.1h0M2078.7 1295.2h0M2080.2 1310.7h0M2079 1314.8h0M2081.3 1320.6h0M2079.9 1325.3h0M2081 1343.9h0M2081.8 1347.6h0M2079.6 1353.5h0M2081.3 1357.5h0M2080.6 1363.4h0M2079 1369.5h0M2078.6 1374.7h0M2079.3 1380.2h0M2078.7 1383.9h0M2078.1 1387.7h0M2078.9 1391.4h0M2081.7 1396.1h0M2078.3 1400.2h0M2084.9 1392.8V1940M2084.9 1308.3h0M2083.3 1313.6h0M2084.9 1319.5h0M2084.9 1325.1h0M2084.9 1339h0M2084.1 1344.4h0M2084 1349.4h0M2084 1372.5h0M2084.9 1377.7h0M2083.9 1383.3h0M2084.7 1387.7h0M2084.9 1391.4h0M2084.7 1397.8h0M2084.9 1402.6h0M1923.8 1289.1h0M1923.8 1075.1h0M1932.9 1086.8h0M1936.8 1250.2h0M1946.5 1211.3h0M1954.3 1258h0M1966 1265.8h0M1977.7 1289.1h0M1989.3 1269.6h0M2001 1289.1h0M2012.7 1308.6h0M2024.4 1328h0M2036 1308.6h0M2047.7 1289.1h0M2059.4 1273.5h0M2071.1 1250.2h0M2080.8 1273.5h0M2084.9 1328h0M2049.8 1067.3h0M2049.3 1076.3h0M2049.2 1085.3h0M2049.6 1096.3h0M2048.9 1099.3h0M2050.1 1106.3h0M2049.4 1109.3h0M2049.4 1115.3h0M2050 1124.3h0M2050.3 1128.3h0M2050.2 1134.3h0M2049.7 1138.3h0M2049.5 1141.3h0M2049.9 1148.3h0M2050.4 1155.3h0M2050.2 1161.3h0M2050.4 1165.3h0M2049.4 1171.3h0M2050.4 1175.3h0M2049.6 1178.3h0M2049.8 1182.3h0M2050.1 1191.3h0M2049.6 1199.6h0M1953.6 1119.8h0M1953.6 1124.8h0M1952.8 1130.8h0M1952.5 1136.8h0M1953.2 1141.2h0M1927.1 918.7h0M1943.4 908.6h0M1927.1 938.1h0M1927.1 1040.1h0M1927.1 1045.9h0M1944.2 1049.8h0M1951.2 1073.9h0M2039.1 1015.6h0M2060.5 1016.7h0M2039.1 1030.4h0M2039.1 1049h0M2037.2 1063.4h0M2038 1101.2h0M2055.5 1133.5h0M2017.4 1149h0M2027.1 1147.1h0M2081.2 1166.5h0M2081.2 1182.1h0M2081.2 1189.9h0M2074.9 1199.6h0M2062.5 1179h0M2030.2 1186h0M1966.8 1168.5h0M1966.8 1187.9h0M1944.6 1156.8h0M1953.2 1153.7h0M1944.6 1168.5h0M1953.2 1178.2h0M1944.6 1197.7h0M1987.4 1172.4h0M1987.4 1184h0M1999.1 1189.9h0M1987.4 1199.6h0M1999.1 1203.5h0M1987.4 1211.3h0M1987.4 1223h0M1999.1 1226.8h0M2047.7 1213.2h0M2041.9 1223h0M2026.3 1234.6h0M2032.1 1246.3h0M2047.7 1238.5h0M2080.8 1237.7h0M2071.1 1243.2h0M1966.8 1254.1h0M1977.7 1248.2h0M1990.5 1246.3h0M1990.5 1254.1h0M2026.3 1267.7h0M2038 1276.7h0M2049.6 1263.8h0M2059.4 1253.3h0M1987.4 1265.8h0M1928.9 879h0M1943.3 880.2h0M1943.3 895.3h0"/>
<path stroke="#87CEEB" d="M2111 1335.1V1940M2112.7 1280.8h0M2113.1 1287.2h0M2111.8 1293.1h0M2112.7 1311.7h0M2111.2 1317.3h0M2111 1321.8h0M2111 1326h0M2112.8 1330h0M2111 1336.1h0M2116.2 1315.5V1940M2117.2 1196.3h0M2114.3 1200.8h0M2117.7 1207h0M2118 1212.2h0M2117.6 1217.7h0M2115.9 1268.2h0M2114.2 1273.5h0M2116.4 1283.5h0M2115.7 1289.3h0M2118.1 1293.2h0M2116.8 1297.1h0M2117.9 1301.2h0M2117.3 1306.8h0M2114.4 1310.8h0M2117.8 1317.3h0M2121.4 1318.8V1940M2119.5 1204.8h0M2123.6 1209.7h0M2121.8 1245.2h0M2120.5 1262.2h0M2123 1266.3h0M2120.5 1271.5h0M2121.5 1277.4h0M2120.5 1281.1h0M2122.2 1284.8h0M2122.4 1289.1h0M2121.6 1292.7h0M2122.1 1297.1h0M2121.6 1302.5h0M2119.2 1306.4h0M2122.6 1310.1h0M2120.4 1313.7h0M2121.7 1318h0M2123.3 1323.8h0M2126.6 1312V1940M2128.2 1204h0M2125.6 1234.4h0M2128.4 1239.4h0M2128.1 1245.8h0M2124.9 1251.3h0M2126.1 1256.8h0M2128.3 1260.7h0M2125.1 1266.8h0M2125.6 1272.4h0M2127.1 1278.6h0M2127 1285h0M2124.7 1288.8h0M2127.7 1293.9h0M2128.3 1298.6h0M2126.6 1304.1h0M2125.4 1310.3h0M2126.4 1315.3h0M2125.6 1320.1h0M2127.4 1324.7h0M2131.8 1317.5V1940M2133 1205.9h0M2129.6 1210.7h0M2132.1 1216h0M2132.3 1221.1h0M2130.4 1224.8h0M2130.6 1229.7h0M2133.4 1269.4h0M2130.5 1320.3h0M2132.7 1324.1h0M2130.9 1330.2h0M2136.9 1351.9V1940M2136.2 1258.3h0M2136.3 1264.7h0M2135.8 1269.2h0M2137.8 1274.5h0M2134.9 1279h0M2138.4 1282.6h0M2137.2 1287.8h0M2136.4 1291.7h0M2138.5 1325.4h0M2136 1331.1h0M2138.4 1335.8h0M2138.6 1340.9h0M2136.9 1345.5h0M2137.3 1349.9h0M2136.3 1353.6h0M2138.5 1357.7h0M2135.5 1363.3h0M2135 1368h0M2142.1 1396.3V1940M2140.4 1274.6h0M2140.2 1279.2h0M2141.4 1283.5h0M2143.9 1287h0M2140.4 1310.3h0M2140 1314.3h0M2140.9 1319.6h0M2141.2 1324.7h0M2140.7 1328.3h0M2140.1 1333.1h0M2141.4 1339h0M2143.7 1343h0M2142.3 1346.8h0M2143.5 1351.9h0M2143.3 1355.6h0M2142.3 1361.3h0M2143.8 1365.2h0M2142.1 1370.2h0M2144.1 1374.3h0M2141.7 1379.8h0M2142.3 1386.1h0M2140 1391.6h0M2144.3 1397h0M2147.3 1403.2V1940M2148.4 1286.3h0M2148.1 1291.9h0M2147.6 1297.1h0M2148.7 1302.2h0M2147 1317.9h0M2149.2 1324h0M2149.5 1354.8h0M2148.4 1361.2h0M2146 1366.4h0M2147.8 1372.4h0M2147.4 1377.8h0M2147 1383.5h0M2148.5 1388.6h0M2147.6 1392.8h0M2145.1 1396.8h0M2148 1400.8h0M2148.2 1406.4h0M2152.5 1406.1V1940M2152.5 1307.7h0M2152.5 1311.9h0M2151.5 1315.8h0M2152.1 1321.6h0M2152.5 1325.9h0M2151.1 1330.1h0M2152.5 1336.1h0M2151.4 1341.1h0M2150.5 1347.1h0M2151.6 1350.7h0M2150.5 1356.6h0M2152.5 1362.2h0M2152.1 1366.5h0M2152.5 1371.5h0M2152.5 1377.3h0M2152.5 1381.4h0M2151.8 1387.7h0M2152.5 1394.1h0M2151.8 1398.5h0M2152.5 1402.8h0M2111 1250.2h0M2111.9 1187.9h0M2121.6 1195.7h0M2131.4 1203.5h0M2141.1 1273.5h0M2152.5 1281.3h0M2152.5 1328h0M2131.7 1028.4h0M2132.2 1037.4h0M2132.6 1046.4h0M2131.6 1049.4h0M2132 1056.4h0M2132.1 1059.5h0M2131.9 1080.9h0M2131.8 1084.9h0M2131.5 1091.9h0M2131.9 1100.9h0M2132 1103.9h0M2131.7 1107.9h0M2132.6 1118.9h0M2132.7 1123.9h0M2132.6 1127.9h0M2132 1130.9h0M2131.5 1139.9h0M2131.7 1144.9h0M2132 1148.9h0M2132.9 1153.9h0M2132.3 1162.9h0M2132.4 1173.9h0M2131.4 1182.9h0M2132.2 1186.9h0M2132.1 1187.9h0M2132.1 929.2h0M2132.1 992.6h0M2115.8 1081.7h0M2115.8 1100.4h0M2113.9 1112.1h0M2115.8 1140.1h0M2115.8 1152.9h0M2146.1 1156h0M2146.9 1192.6h0M2153.9 1195.7h0M2125.5 1168.5h0M2150 1274.3h0M2132.5 881.3h0"/>
<path stroke="#87CEEB" d="M2190 1372.2V1940M2191.8 1287.2h0M2190 1292.7h0M2190 1299h0M2190.7 1302.7h0M2190 1308.1h0M2190 1313h0M2190.8 1318h0M2190 1322.2h0M2191 1326.8h0M2190 1350.9h0M2192.1 1364.8h0M2190 1369h0M2190 1372.6h0M2190 1378.3h0M2191.2 1384.3h0M2195 1363.2V1940M2193.9 1285.3h0M2197.1 1291.4h0M2194.9 1295.9h0M2195.1 1301.4h0M2195.5 1306.8h0M2196.1 1311.6h0M2196.1 1317.8h0M2193.8 1323.8h0M2196.4 1330.2h0M2196.4 1335.2h0M2197.1 1341.1h0M2196.6 1345.2h0M2196.2 1351.4h0M2196.6 1356h0M2196.7 1360.6h0M2195.9 1371.8h0M2193.9 1375.4h0M2200.1 1345.6V1940M2202.1 1239.8h0M2200.1 1245.3h0M2201 1250h0M2198.7 1254.5h0M2200.9 1258.1h0M2199.9 1262.1h0M2201.2 1266h0M2200.5 1272.3h0M2199.3 1277.1h0M2199 1282.2h0M2200.6 1286.2h0M2200.7 1291.4h0M2199.8 1300.7h0M2198.2 1321.3h0M2198.8 1332.1h0M2201.1 1338.1h0M2198.2 1343.7h0M2198.9 1347.7h0M2200.1 1352.7h0M2205.1 1344.5V1940M2207.1 1239h0M2206.5 1331.8h0M2207.2 1336h0M2206.5 1340.3h0M2204.1 1344.3h0M2210.1 1354.2V1940M2211.6 1233.8h0M2208.2 1239.4h0M2208 1243.6h0M2211 1248.4h0M2212.2 1263.4h0M2208.4 1268.6h0M2210.8 1272.9h0M2209.7 1277.5h0M2211.3 1283h0M2208.3 1286.9h0M2210.5 1290.5h0M2211.3 1294.5h0M2208.6 1298.6h0M2209.8 1303.7h0M2209.7 1307.4h0M2209.3 1313.6h0M2208.5 1319.7h0M2210.3 1325.8h0M2209 1330.9h0M2210.4 1335.1h0M2208.2 1341.3h0M2209.7 1347.1h0M2210.2 1353.5h0M2215.2 1355.2V1940M2213 1235.4h0M2214.5 1241.7h0M2217 1246.9h0M2216.7 1250.8h0M2216.5 1255.4h0M2213.3 1274.3h0M2214.4 1279.5h0M2217.1 1285.6h0M2216.2 1289.9h0M2213.7 1294.9h0M2213.3 1299.9h0M2215.6 1303.8h0M2215.7 1309.1h0M2216.8 1313.8h0M2217.1 1317.5h0M2217 1322h0M2213.7 1325.5h0M2214.1 1330.9h0M2217.3 1335.4h0M2214.1 1341.6h0M2216.6 1346h0M2213.5 1350.7h0M2215.6 1355.4h0M2215.5 1359.6h0M2220.2 1363.2V1940M2219.8 1293.2h0M2218 1297.8h0M2220.6 1301.6h0M2222.3 1307.8h0M2220 1313.7h0M2219.3 1323.5h0M2220.3 1328.1h0M2221.5 1334.1h0M2221.1 1339.7h0M2220.7 1345.8h0M2218.3 1349.5h0M2219.7 1353h0M2220.3 1357.8h0M2221.4 1363.4h0M2221.1 1369.5h0M2225.2 1370.2V1940M2223.6 1256.5h0M2225.1 1295.8h0M2224.7 1300.6h0M2226.4 1305.7h0M2224.5 1311.6h0M2230.3 1357.2V1940M2228.8 1245.8h0M2230.9 1296.9h0M2232.3 1327.8h0M2231.7 1333.7h0M2231.2 1340.1h0M2228.6 1344.8h0M2231.6 1349h0M2230.1 1352.7h0M2231.1 1356.8h0M2229.8 1370.7h0M2235.3 1354.1V1940M2234.6 1243.4h0M2235.5 1247.5h0M2235.2 1264.3h0M2233.9 1268.7h0M2234.4 1273.9h0M2234.6 1278h0M2234.7 1281.5h0M2236.1 1287.6h0M2233.6 1293.4h0M2236.8 1297.3h0M2236.7 1302.4h0M2237.4 1306.3h0M2236.1 1311.8h0M2236.9 1315.5h0M2233.9 1320h0M2234.8 1324h0M2236.9 1329.6h0M2235.9 1335.8h0M2234 1341.1h0M2233.2 1346.9h0M2235.7 1352h0M2234.5 1355.8h0M2233.4 1360.3h0M2234.3 1365.3h0M2240.3 1373.8V1940M2238.5 1253.6h0M2240.9 1258.7h0M2240.7 1268.9h0M2242.3 1273.8h0M2239.5 1351.2h0M2241.1 1356.3h0M2239.3 1360.5h0M2241.7 1366.4h0M2242.1 1371.1h0M2245.4 1352.2V1940M2244.9 1246.3h0M2246.1 1251.7h0M2244 1256.5h0M2244.8 1262.4h0M2245.5 1266.5h0M2244.8 1271.3h0M2244.4 1277.2h0M2244 1282h0M2244.6 1286.9h0M2244.7 1292.6h0M2246.7 1298.1h0M2245.7 1302.7h0M2245.4 1308.9h0M2245.1 1312.7h0M2243.2 1318.8h0M2243.5 1327.6h0M2245.7 1331.7h0M2247.5 1336.5h0M2244.2 1340.9h0M2245.4 1346.6h0M2244.3 1350.6h0M2245.7 1357h0M2246.3 1363.1h0M2246.3 1366.7h0M2250.4 1369.6V1940M2248.3 1247h0M2249 1267.9h0M2251.5 1272.6h0M2249.6 1277.2h0M2248.2 1300.9h0M2249 1307h0M2251 1311h0M2249 1315.5h0M2250.1 1321h0M2251.3 1326.8h0M2250 1330.3h0M2250.8 1335.7h0M2252.1 1367.1h0M2251.5 1372.2h0M2255.4 1355.2V1940M2257.6 1246.8h0M2255.8 1250.8h0M2256.9 1256h0M2257.4 1261.5h0M2255.9 1266.1h0M2257.6 1271.7h0M2254.3 1335.1h0M2253.6 1340.6h0M2257.1 1345.8h0M2256.2 1351.9h0M2255 1357.3h0M2254 1361.7h0M2255 1365.4h0M2257.2 1368.9h0M2260.5 1369.2V1940M2261.6 1253h0M2258.3 1282.2h0M2261.7 1288.6h0M2261.5 1293.5h0M2258.6 1299.5h0M2262.3 1304.4h0M2258.4 1309.5h0M2258.3 1313.5h0M2260.4 1319h0M2260.1 1325.1h0M2259.2 1329.7h0M2261.1 1333.4h0M2258.4 1336.9h0M2260.9 1342.2h0M2261.2 1346.2h0M2260.2 1351.9h0M2260.9 1355.6h0M2260.6 1361.3h0M2258.7 1365.4h0M2258.5 1370h0M2258.7 1374.8h0M2265.5 1397.9V1940M2265.5 1301.6h0M2265.5 1306.5h0M2265.1 1311.1h0M2265.5 1376.4h0M2265.5 1399.8h0M2190 1320.2h0M2191.7 1250.2h0M2199.5 1238.5h0M2211.1 1226.8h0M2222.8 1250.2h0M2236.4 1242.4h0M2252 1246.3h0M2263.7 1250.2h0M2265.5 1289.1h0M2221.1 1016.7h0M2221.4 1027.7h0M2221.3 1030.7h0M2221.3 1034.7h0M2221 1045.7h0M2221.2 1052.7h0M2220.2 1058.7h0M2221.4 1064.7h0M2220.5 1073.7h0M2220.2 1079.7h0M2220.9 1082.9h0M2198.7 1055.6h0M2198 1058.6h0M2198.9 1064.6h0M2198.7 1075.1h0M2198.7 964.2h0M2198.7 970h0M2262.5 972.8h0M2220.9 989.5h0M2220.9 999.2h0M2198.7 1005.1h0M2198.7 1025.3h0M2198.7 1047.1h0M2198.7 1098.4h0M2200.6 1119.8h0M2220.9 1100.4h0M2220.9 1111.3h0M2243 1114h0M2238.4 1133.5h0M2238.4 1145.1h0M2227.5 1151h0M2222 1157.6h0M2262.5 1145.9h0M2263.7 1158.8h0M2252.8 1168.5h0M2261.7 1172.4h0M2198.7 1169.6h0M2211.1 1177h0M2227.5 1179h0M2198.7 1186h0M2207.2 1189.9h0M2187.8 1198.4h0M2198.7 1203.5h0M2252 1183.3h0M2263.7 1187.9h0M2263.7 1201.6h0M2263.7 1211.3h0M2263.7 1222.2h0M2227.5 1207.4h0M2211.1 1224.9h0M2220.9 1224.9h0M2188.6 1289.9h0"/>
<path stroke="#BEBEBE" d="M2292.3 1406.9V1940M2292.7 1286.6h0M2297.3 1365.6V1940M2298.7 1249.7h0M2297.8 1254.3h0M2298.9 1258.8h0M2295.5 1265h0M2297.5 1268.8h0M2298 1272.4h0M2296.2 1276.2h0M2296.9 1280.7h0M2295.7 1285.2h0M2295.6 1289.4h0M2297 1293h0M2297.3 1298.3h0M2298.3 1303.7h0M2296.9 1309.9h0M2297.2 1315.3h0M2298.9 1319.2h0M2296.9 1323.8h0M2297.3 1327.9h0M2295.3 1333.9h0M2297.8 1340.1h0M2296.8 1345.2h0M2295.4 1349h0M2296.1 1353.8h0M2296.9 1357.7h0M2297.1 1361.2h0M2295.4 1367.3h0M2296.1 1371.6h0M2302.7 1224.8h0M2302.1 1239.9h0M2303.4 1244.2h0M2303.7 1250.6h0M2301.9 1255.9h0M2301.7 1260.7h0M2302.2 1377V1940M2301.1 1261.4h0M2303.6 1350h0M2306 1215.7h0M2308.1 1221.1h0M2308.1 1227.8h0M2308.1 1234.5h0M2306.8 1240.6h0M2308.6 1245.1h0M2305.7 1249.7h0M2307.2 1363V1940M2305.6 1252.9h0M2306.7 1256.9h0M2307.8 1260.7h0M2307.2 1265.4h0M2306.1 1290.7h0M2307.2 1294.4h0M2307.8 1303.2h0M2305.8 1308.4h0M2305.6 1313.3h0M2307.8 1318.6h0M2305.8 1323.1h0M2307.4 1327.2h0M2305.4 1331.4h0M2305.8 1335.5h0M2307.9 1341h0M2307 1347.4h0M2307.1 1353.8h0M2307.4 1359.7h0M2308.7 1365.4h0M2308.1 1370.6h0M2305.2 1374.4h0M2312 1228.8h0M2311.4 1235.7h0M2313.7 1241.4h0M2311.9 1247.7h0M2312.2 1372.4V1940M2312 1250.6h0M2312.4 1257h0M2312.4 1262.2h0M2310 1266h0M2312.3 1271.6h0M2312.5 1276.4h0M2312.6 1280.5h0M2313.5 1285.7h0M2311 1291.7h0M2311.4 1319.4h0M2310.4 1325.3h0M2310.6 1330.8h0M2310 1335.8h0M2311.6 1341.8h0M2311.4 1348h0M2312.3 1354.4h0M2311.1 1360h0M2310.5 1363.8h0M2310.7 1368.1h0M2310.8 1373.9h0M2317.2 1357V1940M2315.7 1298h0M2315.3 1303.6h0M2317.6 1310h0M2318.2 1313.9h0M2322.1 1374.2V1940M2323.6 1266.6h0M2323.9 1270.4h0M2322.3 1342.5h0M2322.3 1347h0M2321.9 1353.2h0M2321 1357.3h0M2323.8 1362.8h0M2322.8 1367.1h0M2322.2 1373.2h0M2322.2 1379.5h0M2323.6 1385.6h0M2321.5 1390.2h0M2327.1 1393.8V1940M2328.6 1286.7h0M2325.4 1290.2h0M2328.9 1344h0M2332.1 1393.8V1940M2331.2 1371.2h0M2333.9 1375.3h0M2329.9 1379h0M2331.1 1385.4h0M2337 1397.6V1940M2338 1295.8h0M2336 1302h0M2338.5 1336.2h0M2337.7 1339.8h0M2337.1 1345.1h0M2338.4 1348.6h0M2334.9 1352.2h0M2336.8 1357.3h0M2338.2 1361.9h0M2336.3 1366.9h0M2338.4 1371.7h0M2335.7 1376.6h0M2334.9 1381.6h0M2336.8 1386.5h0M2337.9 1391.1h0M2337.5 1396.1h0M2336.8 1401.3h0M2337 1406.3h0M2342 1389.1V1940M2344.1 1296h0M2342.8 1300.1h0M2341.5 1337.3h0M2340.6 1353.1h0M2341.7 1357.1h0M2342.4 1362.9h0M2341.4 1366.4h0M2343.8 1372.6h0M2342.3 1376.7h0M2340 1380.9h0M2340.4 1386.6h0M2343.7 1390.3h0M2341.6 1394.6h0M2340.7 1400.5h0M2342.5 1405.1h0M2347 1392.5V1940M2345.4 1275.7h0M2345.4 1291.1h0M2346 1296.8h0M2346.7 1301.7h0M2346.4 1307.7h0M2347.5 1311.7h0M2345 1316.1h0M2349 1320.2h0M2348.7 1325.6h0M2348.8 1357.7h0M2347.2 1361.5h0M2346.8 1366.6h0M2348.1 1372h0M2346.8 1377.3h0M2346.2 1383.5h0M2346.6 1389.6h0M2344.9 1393.7h0M2345.1 1398.9h0M2351.9 1377.7V1940M2352.8 1263.6h0M2353.5 1267.7h0M2353.1 1273.3h0M2352 1277h0M2356.9 1366.3V1940M2358.8 1297.9h0M2356.7 1302.8h0M2357.2 1309.3h0M2355.9 1324h0M2358.1 1330.3h0M2356.9 1336.4h0M2357.6 1342.4h0M2354.9 1348h0M2356.8 1352.6h0M2358.3 1357.6h0M2356 1363.3h0M2358.2 1368.1h0M2355.3 1374h0M2358.1 1378.1h0M2355.1 1381.8h0M2361.9 1377.5V1940M2361 1255.9h0M2361.3 1309.9h0M2362.3 1314.5h0M2361 1318.5h0M2363.5 1341.7h0M2360.8 1362.4h0M2360.5 1368.4h0M2362.6 1373.9h0M2366.9 1365.6V1940M2365.2 1256.5h0M2365.3 1262.8h0M2367.9 1266.5h0M2366.2 1272.3h0M2367.3 1278.7h0M2364.8 1282.3h0M2365.2 1286.1h0M2365.2 1291h0M2365.6 1296.2h0M2367 1300h0M2367.6 1306.2h0M2367.1 1329.4h0M2365 1335.8h0M2366.4 1355.5h0M2365.6 1360.8h0M2368.4 1365.8h0M2365.2 1370.7h0M2371.8 1362.6V1940M2372.2 1245.2h0M2370.3 1249.9h0M2370.1 1297.1h0M2373.3 1302.8h0M2371.1 1308.5h0M2371.8 1344.9h0M2370.1 1350.2h0M2372.5 1353.9h0M2369.8 1357.9h0M2373.6 1361.9h0M2371 1366.5h0M2375.6 1236.6h0M2378.2 1248.9h0M2376.8 1361.6V1940M2375.9 1252.5h0M2378.3 1257h0M2374.8 1260.9h0M2378.8 1265.1h0M2376.4 1270.2h0M2378.8 1296.6h0M2374.7 1317.9h0M2375.1 1321.6h0M2375.6 1325.6h0M2377 1349.6h0M2376.2 1359.9h0M2375 1364.8h0M2376.7 1370.5h0M2380.8 1188.6h0M2381 1194.9h0M2381.3 1201.4h0M2382.9 1206.1h0M2383 1211h0M2380.9 1217.5h0M2380.6 1221.9h0M2381.8 1228.5h0M2380.4 1234.1h0M2381.7 1238.9h0M2381.8 1367.3V1940M2381.7 1255.8h0M2382.6 1306h0M2379.6 1312h0M2379.9 1334.6h0M2380.8 1340.7h0M2383.9 1346.7h0M2383.2 1350.4h0M2383.4 1356.3h0M2382.3 1359.9h0M2383.3 1365.7h0M2380.4 1370.2h0M2383.5 1374h0M2386.3 1207.9h0M2386.1 1212.6h0M2387.5 1219.3h0M2385.8 1225.2h0M2386.2 1229.8h0M2387.7 1240.4h0M2387.5 1244.6h0M2386.7 1363.8V1940M2384.8 1249.9h0M2384.6 1255.3h0M2386.9 1260.3h0M2388.4 1264.6h0M2385.6 1269.9h0M2385.7 1274.4h0M2388 1280.3h0M2387.4 1285.7h0M2386.3 1290.1h0M2386.5 1295.8h0M2387.3 1301.4h0M2385.7 1305.6h0M2386 1310h0M2385.3 1316.1h0M2384.6 1321.6h0M2385.8 1327.7h0M2387.8 1331.4h0M2385.2 1337.4h0M2387.5 1343.8h0M2385.5 1349.4h0M2388 1355.8h0M2385.6 1359.5h0M2388 1365.3h0M2385.5 1370.1h0M2391.7 1353.3V1940M2390.8 1229.4h0M2391.4 1235.5h0M2396.7 1367.9V1940M2398.3 1254h0M2396.4 1257.9h0M2394.6 1261.5h0M2395.1 1298h0M2394.6 1306.7h0M2394.5 1365.3h0M2395.1 1371h0M2401.6 1383.6V1940M2402.7 1274.3h0M2400.4 1280.6h0M2400.6 1287h0M2400.5 1293.2h0M2401.9 1298h0M2400 1304.3h0M2402 1313.9h0M2402.8 1318.6h0M2403.6 1323.7h0M2399.9 1329.5h0M2400 1333.6h0M2403.4 1339.1h0M2402.9 1345.4h0M2403.4 1351.8h0M2399.5 1356.2h0M2400.5 1359.8h0M2400.9 1365h0M2401.1 1369.4h0M2401.4 1375.9h0M2399.9 1380.7h0M2401.6 1386.6h0M2403 1392.6h0M2406.6 1391.4V1940M2405.2 1271.8h0M2408.5 1277.2h0M2404.7 1283.6h0M2404.6 1289h0M2408.1 1294.6h0M2404.5 1298.5h0M2408 1303.5h0M2405.9 1308.2h0M2405.5 1324.1h0M2404.9 1330.2h0M2405.3 1336.1h0M2408.4 1341.5h0M2408.5 1346.9h0M2405.7 1352h0M2408 1356.2h0M2408.8 1361.2h0M2408.4 1366.9h0M2406.7 1372.7h0M2405.3 1376.7h0M2405.5 1381h0M2407.7 1384.7h0M2408.5 1389.3h0M2408.1 1393.4h0M2411.6 1387.4V1940M2413 1276.1h0M2411.5 1281.1h0M2410.3 1287.5h0M2412.3 1292.8h0M2410.2 1299.2h0M2412.5 1305.4h0M2413.1 1310.7h0M2412.9 1314.2h0M2409.9 1320.4h0M2410.5 1377h0M2410.9 1381.8h0M2410.5 1388.2h0M2411.1 1392.6h0M2416.6 1376V1940M2417.7 1333.8h0M2418.2 1339.2h0M2417.7 1345.1h0M2417.4 1348.9h0M2415.7 1353.1h0M2415.9 1358h0M2417.6 1364.3h0M2417.3 1370.4h0M2417.4 1383.2h0M2417.7 1393h0M2421.5 1385.5V1940M2419.5 1278.6h0M2422.7 1284.5h0M2422 1288.6h0M2422.6 1301.7h0M2422 1306.3h0M2420.6 1310h0M2423.2 1316.2h0M2419.9 1320.8h0M2421.1 1326.6h0M2421.6 1331.9h0M2419.5 1337.5h0M2423 1342.8h0M2420.4 1347h0M2420.9 1352.9h0M2423.3 1359.2h0M2421.3 1365.7h0M2422.1 1371.2h0M2422.7 1375h0M2421.8 1379.7h0M2420.2 1384.7h0M2422.3 1390.1h0M2419.4 1395.9h0M2421.9 1401.3h0M2426.5 1375.1V1940M2428.4 1268.5h0M2425.3 1274.6h0M2426.7 1353.9h0M2431.5 1357.4V1940M2432.9 1249.6h0M2430.7 1254.1h0M2430.4 1361.8h0M2430.9 1367.4h0M2430.5 1373.3h0M2435.1 1249.3h0M2437.1 1253.7h0M2436.4 1383.3V1940M2438 1273.3h0M2436.9 1278.3h0M2437.8 1298.2h0M2438.1 1316.8h0M2435.9 1322.3h0M2437.4 1326.3h0M2436.6 1330.5h0M2437.3 1360.6h0M2435.5 1366.5h0M2437.2 1372.9h0M2438.1 1378.1h0M2435.5 1383.5h0M2441.4 1367.2V1940M2440.8 1262.4h0M2441.4 1305.8h0M2441.4 1311.6h0M2439.4 1316.9h0M2441.4 1322.9h0M2441.3 1326.4h0M2439.4 1330.2h0M2441.4 1336h0M2440.4 1342h0M2440 1347h0M2440.2 1352.7h0M2440.8 1358.4h0M2441.4 1362.9h0M2439.4 1369.4h0M2441.4 1374.1h0M2440.3 1380h0M2441.3 1384h0M2292.3 1308.6h0M2296.7 1242.4h0M2306.5 1207.4h0M2316.2 1234.6h0M2327.9 1281.3h0M2339.5 1289.1h0M2351.2 1258h0M2362.9 1250.2h0M2374.6 1238.5h0M2382.3 1180.2h0M2392.1 1230.7h0M2403.7 1273.5h0M2413.5 1265.8h0M2425.1 1273.5h0M2434.9 1234.6h0M2441.4 1265.8h0M2332.6 917.5h0M2332.1 924.5h0M2332.7 931.5h0M2331.8 936.5h0M2331.8 940.5h0M2331.8 943.5h0M2331.9 954.5h0M2332.3 965.5h0M2331.5 972.5h0M2332.3 981.5h0M2332.3 992.5h0M2332.1 993.4h0M2331.9 1010.9h0M2332.2 1013.9h0M2331.9 1022.9h0M2331.7 1025.9h0M2332 1036.9h0M2332.5 1045.9h0M2332.1 1047.9h0M2307 1121.8h0M2306.1 1126.8h0M2306 1131.8h0M2306.7 1137.8h0M2305.7 1140.8h0M2306.4 1146.8h0M2306.8 1151.8h0M2305.9 1157.8h0M2306.8 1164.8h0M2306.7 1173.8h0M2307 1178.8h0M2306.4 1182.8h0M2306.4 1191.8h0M2306.5 1198.8h0M2306.5 1203.5h0M2382.1 1119.8h0M2382 1126.8h0M2382.3 1135.8h0M2381 1140.8h0M2381.4 1146.8h0M2382 1150.8h0M2382 1154.8h0M2382.3 1158.8h0M2381.2 1167.8h0M2381.1 1172.8h0M2380.9 1177.8h0M2381.6 1180.2h0M2429.1 1119.8h0M2430.3 1122.8h0M2430.5 1127.8h0M2429.8 1136.8h0M2429.9 1141.8h0M2430.5 1152.8h0M2429.2 1159.8h0M2430.2 1162.8h0M2429.4 1171.8h0M2429.8 1175.8h0M2429.5 1184.8h0M2429.9 1187.8h0M2429.2 1190.8h0M2429.8 1199.6h0M2311.5 910.9h0M2332.1 901.9h0M2417.4 901.2h0M2312.3 1026.5h0M2312.3 1042h0M2306.5 1049h0M2304.5 1061.5h0M2300.6 1071.2h0M2307.6 1079h0M2308.4 1093.8h0M2332.1 1067.3h0M2332.1 1093.8h0M2355.1 1096.5h0M2372.6 1082.9h0M2385.1 1079.8h0M2382.3 1090.7h0M2384.3 1013.6h0M2385.4 1044.7h0M2428.2 1012.8h0M2424 1042h0M2429 1072h0M2430.2 1109.3h0M2308.4 1124.9h0M2321.2 1126.5h0M2300.6 1133.5h0M2312.3 1149h0M2293.6 1166.5h0M2321.2 1165.8h0M2321.2 1196.5h0M2397.1 1162.6h0M2396 1182.1h0M2366.8 1190.7h0M2366.8 1205.4h0M2364.8 1216h0M2398.7 1204.3h0M2395.2 1213.2h0M2413.5 1212.1h0M2427.1 1221h0M2436.8 1188.7h0M2332.9 1238.5h0M2339.5 1242.4h0M2339.5 1256.8h0M2329 1273.5h0M2369.9 1244.4h0M2396 1234.6h0M2413.5 1236.6h0M2413.5 1254.1h0M2433.7 1237.4h0M2441.5 1237.4h0M2332.5 672.4h0M2332.5 689.9h0M2332.5 701.9h0M2332.5 712.1h0M2332.5 719.1h0M2332.5 730.7h0M2332.5 749h0M2332.5 754.9h0M2332.5 760.7h0M2332.5 886h0M2332.5 923.7h0"/>
<path stroke="#87CEEB" d="M2467.8 1391.7V1940M2467.8 1293.3h0M2467.8 1298.6h0M2469.3 1303.4h0M2467.8 1308.4h0M2467.8 1312.7h0M2468 1318.3h0M2467.8 1322.3h0M2469.7 1326.9h0M2467.8 1332.9h0M2468.6 1338.1h0M2467.8 1344.5h0M2467.8 1350.5h0M2467.8 1355.6h0M2469.2 1360.4h0M2467.8 1365.3h0M2467.8 1369.7h0M2469.2 1375.8h0M2467.8 1380.3h0M2467.8 1383.9h0M2469.1 1388.5h0M2469.2 1392.3h0M2467.8 1397.1h0M2469.8 1403h0M2468.4 1406.6h0M2472.7 1402.5V1940M2473.5 1294.8h0M2472 1308.9h0M2474.4 1313h0M2472.3 1316.9h0M2471 1339.8h0M2474.3 1345h0M2477.6 1404.4V1940M2475.9 1286.9h0M2475.5 1291.5h0M2476.2 1296.3h0M2477.1 1302h0M2478.1 1307.2h0M2478.9 1312h0M2479.2 1317.6h0M2477 1322.5h0M2478 1326.5h0M2477.5 1331.7h0M2477 1336.1h0M2475.5 1341.7h0M2475.7 1346h0M2477 1378.8h0M2479.6 1385h0M2476.6 1388.9h0M2476.1 1393.6h0M2476.1 1398.7h0M2478.9 1402.5h0M2476 1406.2h0M2482.6 1394.8V1940M2484.6 1349.2h0M2482.8 1354.1h0M2483.2 1359.5h0M2481.5 1365h0M2483 1371.3h0M2483.9 1376.5h0M2480.5 1381.2h0M2482.5 1386.1h0M2482.6 1408h0M2487.5 1405V1940M2486.9 1292h0M2486.7 1310.6h0M2488.9 1315.4h0M2488.7 1320.2h0M2488.1 1325.8h0M2485.6 1364.4h0M2488.3 1368.2h0M2488 1373.3h0M2487.2 1377.6h0M2489.2 1383.1h0M2487.8 1386.8h0M2487.6 1393.3h0M2487.6 1397.9h0M2488.1 1403.7h0M2492.4 1391.1V1940M2493.2 1299.8h0M2491.6 1304.7h0M2490.8 1308.5h0M2492.6 1313.3h0M2492.3 1319.1h0M2491.6 1323.2h0M2490.6 1328.6h0M2490.3 1333.8h0M2491.9 1340.1h0M2493.7 1345.3h0M2492.6 1360.1h0M2493.9 1395.2h0M2490.5 1400.8h0M2492.9 1404.3h0M2497.3 1407.5V1940M2496.6 1311.5h0M2497.3 1315.3h0M2499.3 1319.2h0M2499.1 1325.1h0M2497.8 1330.7h0M2498.1 1342.9h0M2496.1 1348.8h0M2498.9 1354.5h0M2496.2 1358.6h0M2496.8 1365h0M2499.1 1369h0M2496.2 1374.1h0M2497 1379.4h0M2499.2 1384.8h0M2498.5 1389.2h0M2499 1393.6h0M2502.2 1391V1940M2501.6 1393.9h0M2500.1 1399.5h0M2502.4 1404.7h0M2507.2 1393.2V1940M2505.1 1352h0M2507.9 1366.3h0M2508.7 1371.2h0M2507.2 1375.7h0M2508.9 1381.9h0M2505.7 1387.5h0M2508.5 1392.9h0M2505.4 1396.7h0M2505.3 1400.8h0M2505 1405.8h0M2512.1 1408V1940M2514.2 1327.4h0M2509.9 1331.3h0M2513.8 1336.9h0M2510.2 1341.1h0M2510.1 1345.8h0M2510.4 1351.3h0M2510.9 1356.2h0M2512.9 1361.3h0M2510.4 1366h0M2511.2 1371h0M2513.8 1376.7h0M2512.3 1382.2h0M2513.4 1387.1h0M2512.2 1392.1h0M2511.5 1398.4h0M2510.7 1402.9h0M2513.5 1407.6h0M2517 1401.7V1940M2515.1 1330.5h0M2515.4 1336.1h0M2517.1 1360.2h0M2516.5 1366.2h0M2515.4 1370.9h0M2521.9 1391.9V1940M2521.6 1338.2h0M2523.8 1343.6h0M2522.5 1349.7h0M2523.3 1353.5h0M2521.4 1359.2h0M2522.2 1365h0M2523.8 1369.6h0M2520.7 1375.6h0M2523.4 1379.7h0M2522.2 1383.5h0M2519.7 1389.1h0M2520 1392.8h0M2523.6 1397.2h0M2522.5 1403.6h0M2526.8 1394.6V1940M2528.2 1285.7h0M2528.2 1289.9h0M2525.9 1312.5h0M2527.7 1317.7h0M2527.6 1323.1h0M2527.2 1329.2h0M2526 1333.7h0M2527.2 1339.8h0M2525.3 1345.4h0M2524.8 1350.8h0M2528.3 1356.4h0M2525.8 1360.9h0M2527 1366.8h0M2527 1372.4h0M2526 1377.5h0M2525.3 1382.4h0M2524.8 1386.6h0M2528 1390.1h0M2528.5 1395h0M2525.6 1398.7h0M2527.3 1403.2h0M2531 1244h0M2531 1249.6h0M2530.7 1255h0M2531.5 1260.2h0M2531.8 1386V1940M2533.3 1265.1h0M2533.8 1270.7h0M2529.6 1276.2h0M2530.1 1286.3h0M2533.8 1290.3h0M2532.9 1294.4h0M2532.8 1298.6h0M2532.5 1316.7h0M2529.7 1321.5h0M2530.9 1348.3h0M2530.1 1354.5h0M2532 1359.8h0M2531.3 1363.4h0M2533.4 1367.2h0M2532 1371.2h0M2531.6 1375h0M2532.4 1380h0M2531.5 1386.2h0M2536 1191h0M2537.4 1196.8h0M2537.3 1203.5h0M2537.6 1208h0M2535.9 1213h0M2535.8 1225.3h0M2537.8 1231.3h0M2535.2 1235.5h0M2535.7 1248.8h0M2536.4 1255.4h0M2536.8 1260h0M2536.7 1385.8V1940M2535.5 1261.6h0M2535.8 1268h0M2538.8 1273.6h0M2538.1 1279.8h0M2536.5 1320.4h0M2534.6 1329h0M2537.2 1336.6h0M2534.7 1342.5h0M2536.5 1346.2h0M2536.5 1350.2h0M2534.9 1356.4h0M2537.4 1361h0M2538.8 1367.4h0M2537.1 1371.1h0M2538.6 1374.6h0M2536.2 1380.2h0M2535.4 1386.7h0M2540.4 1179.3h0M2542.3 1185.2h0M2541.6 1190h0M2540.2 1194.9h0M2541.8 1198.9h0M2540.5 1203.4h0M2542.3 1207.8h0M2540.7 1212.9h0M2540.5 1217.2h0M2542.9 1223.3h0M2540.7 1229.7h0M2542.1 1236.3h0M2542.8 1242.8h0M2541.6 1247.8h0M2540.6 1252.1h0M2540.2 1257.1h0M2541.6 1370V1940M2541 1338.8h0M2547.6 1181h0M2546 1187.5h0M2546.9 1193h0M2547 1197.8h0M2545.8 1202.5h0M2546.7 1208h0M2546.7 1213.9h0M2546 1222.4h0M2547.3 1226.5h0M2546.7 1232.4h0M2545.8 1236.8h0M2545.5 1241h0M2545.6 1246.8h0M2545.1 1252.8h0M2546.5 1386.8V1940M2547.5 1301.8h0M2545.1 1305.9h0M2545.5 1311.1h0M2546.6 1317.5h0M2546.4 1323.7h0M2548 1330h0M2545.6 1335.1h0M2545.1 1339.8h0M2547.9 1361.1h0M2548 1366.2h0M2546.6 1370.6h0M2547 1374.6h0M2545.2 1379.9h0M2545.8 1384.9h0M2552.6 1175.2h0M2551.3 1183.3h0M2550.5 1187.9h0M2552.4 1193.8h0M2551.5 1198.8h0M2552.7 1212.3h0M2550.4 1228.1h0M2551.3 1234.3h0M2552.4 1240.4h0M2551.3 1246.5h0M2551.2 1252.2h0M2552.8 1256.3h0M2551.4 1375.4V1940M2552.3 1261.9h0M2552.5 1289.3h0M2551.6 1294.6h0M2551.3 1369.1h0M2550.4 1374.8h0M2553.1 1378.9h0M2549.4 1383.3h0M2556.2 1190.3h0M2556.4 1196.5h0M2557.8 1202.9h0M2557.7 1208.3h0M2557 1220h0M2557.3 1226.7h0M2557.3 1231.8h0M2556.9 1238.6h0M2555.5 1243.6h0M2557.9 1248.1h0M2555.5 1253.1h0M2555.9 1259.1h0M2556.4 1375.5V1940M2557.2 1260.9h0M2556.8 1370.4h0M2558.2 1376.1h0M2558.4 1379.9h0M2561.2 1218.3h0M2561.4 1223.1h0M2561.3 1229.3h0M2561.8 1234.3h0M2562 1238.3h0M2562.6 1243h0M2559.9 1255.7h0M2561.3 1381.5V1940M2561 1260.2h0M2561.9 1263.8h0M2563.2 1268.7h0M2562.6 1272.8h0M2560.7 1277.3h0M2561.3 1283.5h0M2560.4 1289.9h0M2563.2 1294.9h0M2563 1300.9h0M2562 1304.6h0M2559.7 1313.6h0M2561.9 1319.2h0M2559.4 1325.5h0M2561.2 1329.8h0M2561.3 1335.3h0M2559.1 1340h0M2559.9 1345.7h0M2560.2 1351.4h0M2562.8 1357.4h0M2562.3 1362.7h0M2560.9 1366.3h0M2560.8 1370.9h0M2562.1 1376.9h0M2563 1380.6h0M2566.2 1360.8V1940M2564.9 1324.5h0M2564.2 1328.6h0M2566.9 1333.6h0M2564.9 1338.6h0M2566.7 1343.8h0M2567.4 1348.4h0M2567.1 1353.9h0M2564.6 1359.5h0M2565.2 1365.6h0M2565.2 1371.9h0M2571.1 1385.5V1940M2571.4 1276.7h0M2569.5 1281.1h0M2573 1287.2h0M2571.9 1367.3h0M2573.1 1372.9h0M2573.2 1378.7h0M2570.6 1382.8h0M2576 1384.1V1940M2574.9 1294.5h0M2575.7 1306.6h0M2574.2 1310.9h0M2575.7 1346.1h0M2574.5 1351.9h0M2574.5 1358.2h0M2577.5 1364.7h0M2575.5 1368.8h0M2576.4 1373.7h0M2574.4 1379.2h0M2578 1384.4h0M2575.4 1390.2h0M2574.9 1393.8h0M2581 1394.1V1940M2580.6 1386.4h0M2585.9 1386.7V1940M2583.8 1283h0M2584.7 1289.2h0M2587.9 1292.9h0M2590.8 1389.9V1940M2592.4 1293.9h0M2590.6 1299.6h0M2592.7 1306.1h0M2589.4 1312.4h0M2589.2 1316.7h0M2592 1322.3h0M2592.1 1326.4h0M2590.4 1329.9h0M2589.6 1334.7h0M2592.9 1340h0M2590.4 1345.2h0M2590 1349.9h0M2588.8 1354.5h0M2591.1 1360h0M2592.7 1365.5h0M2591.7 1369.3h0M2591.2 1373.1h0M2589.6 1378.7h0M2592 1383.9h0M2592.8 1390.2h0M2589.2 1394.9h0M2592.2 1400.6h0M2589.3 1404.7h0M2595.7 1392.4V1940M2594.3 1329.1h0M2595.7 1335.3h0M2593.6 1388.6h0M2597.3 1394.5h0M2593.9 1399.6h0M2597.5 1405.2h0M2600.6 1395.9V1940M2600.5 1272.9h0M2601.8 1276.8h0M2602.8 1282.8h0M2599 1286.6h0M2599.3 1291.4h0M2602.1 1297.6h0M2601.7 1303.1h0M2601.8 1308.6h0M2599.5 1312.5h0M2600.5 1317.4h0M2600 1323h0M2598.8 1327.5h0M2602.8 1331.4h0M2601.5 1337.4h0M2599.7 1343.6h0M2600.3 1349.7h0M2600.2 1355.3h0M2598.7 1360.8h0M2600 1366h0M2599.9 1372.4h0M2600.3 1377.7h0M2598.5 1383.8h0M2600.3 1388.5h0M2601.1 1393.6h0M2605.6 1364.3V1940M2606.1 1355.7h0M2610.5 1373.2V1940M2610.1 1261.2h0M2611.6 1286.5h0M2612.1 1291.8h0M2610.2 1297.2h0M2609.7 1302.7h0M2611.8 1351.1h0M2610.6 1356.7h0M2608.4 1360.9h0M2610.4 1364.6h0M2612.5 1370.6h0M2612.3 1376.9h0M2612.2 1382.2h0M2615.4 1378.2V1940M2615.4 1261.7h0M2614.4 1267.9h0M2614 1272h0M2614.9 1321.7h0M2615.3 1325.4h0M2614.3 1329.1h0M2615.4 1332.7h0M2615.4 1338.3h0M2615.4 1342.2h0M2615.4 1347.7h0M2615.4 1352h0M2614.7 1357.5h0M2615.4 1362.9h0M2614.3 1366.8h0M2614 1370.9h0M2614 1376.3h0M2615.1 1382h0M2467.8 1289.1h0M2475.7 1285.2h0M2487.4 1289.1h0M2499.1 1304.7h0M2510.7 1328h0M2522.4 1320.2h0M2530.2 1250.2h0M2538 1180.2h0M2549.6 1172.4h0M2559.4 1195.7h0M2569.1 1273.5h0M2580.8 1265.8h0M2592.5 1289.1h0M2604.1 1258h0M2613.9 1250.2h0M2615.4 1289.1h0M2544.3 1168.5h0M2544.2 1179.5h0M2544.4 1184.5h0M2544.4 1188.5h0M2543.1 1192.5h0M2544.4 1196.5h0M2543.1 1202.5h0M2544.5 1209.5h0M2543.4 1214.5h0M2544.4 1225.5h0M2544.3 1234.5h0M2543.3 1238.5h0M2543.4 1243.5h0M2544.3 1250.5h0M2543.2 1256.5h0M2543.1 1265.5h0M2544.1 1270.5h0M2544.1 1279.5h0M2544.3 1282.5h0M2543.8 1289.1h0M2534.1 903.9h0M2534.1 987.2h0M2487.4 1038.1h0M2543.8 1027.2h0M2534.1 1041.2h0M2579.6 1030.4h0M2610 1022.6h0M2578.8 1057.6h0M2585.4 1066.5h0M2543.8 1070h0M2534.1 1077.8h0M2579.6 1082.1h0M2610 1082.9h0M2543.8 1090.7h0M2543.8 1105.1h0M2488.6 1110.1h0M2534.1 1120.6h0M2595.2 1110.5h0M2579.6 1124.1h0M2610 1132.3h0M2555.5 1135h0M2489.3 1135.4h0M2534.1 1140.1h0M2543.8 1148.2h0M2591.3 1149h0M2610 1151h0M2483.5 1168.5h0M2555.5 1167.7h0M2482.7 1189.9h0M2469.9 1199.6h0M2469.9 1211.3h0M2475.7 1218.3h0M2576.9 1186.8h0M2614.6 1195.7h0M2579.6 1201.6h0M2592.5 1205.4h0M2595.6 1212.1h0M2580.8 1215.2h0M2573 1223h0M2493.2 1228.8h0M2486.6 1232.7h0M2499.1 1247.5h0M2489.3 1256h0M2499.1 1261.9h0M2501 1273.5h0M2469.1 1265.8h0M2534.1 1277.4h0M2528.2 1286.4h0M2515.8 1294.9h0M2596.3 1256h0M2610 1251.4h0M2615.8 1263.8h0M2499.1 1308.6h0M2499.1 1320.2h0M2610.3 866.9h0"/>
<path stroke="#BEBEBE" d="M2642.3 1404.4V1940M2642.3 1338.4h0M2642.3 1370.2h0M2647.4 1393.8V1940M2648.6 1323.2h0M2648.6 1329.2h0M2646.2 1397.1h0M2652.4 1391V1940M2651.9 1268.7h0M2651.6 1345.5h0M2650.3 1351.2h0M2653.5 1355.4h0M2652.4 1361.3h0M2652.8 1365h0M2654 1369.1h0M2654.2 1373.7h0M2657.5 1380.5V1940M2659.3 1264.4h0M2656.2 1270.5h0M2658.6 1275.9h0M2656 1281.8h0M2655.8 1287.1h0M2659.5 1292.3h0M2656 1370.1h0M2658.5 1376.4h0M2659.3 1382.9h0M2659.1 1387.6h0M2662.5 1381.2V1940M2662.1 1260.3h0M2661.3 1264.4h0M2661.1 1269.8h0M2662.1 1274.2h0M2664.7 1279.2h0M2663.5 1293h0M2664.3 1297.2h0M2663.5 1303.2h0M2660.5 1307.4h0M2661.8 1316.7h0M2662.9 1322.4h0M2663 1326.8h0M2663.8 1330.4h0M2661.8 1336.5h0M2661.1 1341.6h0M2662.7 1345.9h0M2663.5 1352h0M2661.7 1356.6h0M2661.1 1361.3h0M2661.9 1365.3h0M2660.8 1370.4h0M2664.4 1375h0M2664.5 1379.9h0M2664.6 1385.6h0M2667.6 1372.2V1940M2667.3 1255.6h0M2668.7 1262h0M2666 1290.4h0M2667.9 1295.5h0M2668.8 1316.1h0M2668 1319.8h0M2666.8 1323.4h0M2667.2 1327.3h0M2667.9 1332.8h0M2668.9 1336.7h0M2668.9 1341.8h0M2666.2 1347.2h0M2667.8 1351.5h0M2667.5 1357h0M2666.3 1361.5h0M2668.7 1365.4h0M2669 1371.2h0M2669.6 1377h0M2672.7 1368.4V1940M2672 1257.3h0M2670.6 1266.6h0M2671.2 1273h0M2673.9 1285h0M2673.4 1290.3h0M2673.3 1295h0M2673.2 1301.1h0M2674.5 1305.9h0M2671.8 1311h0M2671.3 1315.1h0M2674.6 1320.8h0M2674.2 1326.6h0M2670.5 1332.4h0M2674.1 1336.8h0M2670.6 1341.6h0M2671.1 1347.5h0M2673.3 1352.4h0M2677.7 1379.5V1940M2677.8 1264.5h0M2676.5 1268.1h0M2676.7 1279.6h0M2678.9 1284h0M2676 1287.7h0M2677.9 1293.6h0M2678.9 1338.9h0M2677.4 1344.9h0M2679.7 1349h0M2676.6 1354h0M2677 1358.7h0M2679.5 1363.3h0M2679.6 1369.7h0M2679.3 1374.5h0M2677.7 1379h0M2678.9 1384.4h0M2682.8 1378.8V1940M2682.2 1259.3h0M2684.6 1262.8h0M2681.6 1294.5h0M2681.7 1298.2h0M2683.6 1304.5h0M2680.8 1308.8h0M2680.8 1312.9h0M2683.6 1322.9h0M2682 1328.7h0M2681.8 1335.1h0M2681 1340.6h0M2684.5 1350.2h0M2684.7 1359.5h0M2682.1 1364.7h0M2683.8 1369.4h0M2684.7 1374.3h0M2681.5 1379.5h0M2686.6 1217.5h0M2688.3 1221.9h0M2687.8 1227.8h0M2689 1234.5h0M2689 1241.4h0M2687.8 1355V1940M2688.7 1244.3h0M2689 1250h0M2687.4 1265.4h0M2686 1269.8h0M2689.5 1276.2h0M2685.8 1279.7h0M2687.6 1299h0M2686.7 1304.1h0M2687.6 1307.7h0M2687.4 1313.2h0M2689.5 1318.6h0M2686 1322.8h0M2689.4 1328.8h0M2689.5 1332.5h0M2687.2 1338.1h0M2689 1344.3h0M2686.6 1349.5h0M2689.5 1355.6h0M2689.8 1359.7h0M2686 1363.9h0M2686.8 1369.5h0M2692.9 1194.3h0M2691.8 1199.1h0M2693.4 1205.4h0M2693.8 1209.9h0M2692.9 1216.1h0M2693.2 1221.8h0M2691.8 1227.3h0M2693.4 1231.9h0M2692.3 1237h0M2692.9 1242.2h0M2692.9 1359.5V1940M2691.5 1247.8h0M2692.7 1272.1h0M2693.1 1298.5h0M2693.1 1303.4h0M2691.5 1307.8h0M2690.8 1318.7h0M2693.6 1323.6h0M2693.3 1328.2h0M2694.8 1334h0M2691.4 1339.4h0M2694.2 1345.3h0M2691.6 1350.2h0M2693.3 1356.7h0M2692.4 1361.6h0M2692.6 1365.6h0M2697.9 1350.2V1940M2699.8 1236.7h0M2700 1241h0M2698.7 1245.4h0M2698.4 1250.8h0M2698.3 1255.9h0M2697.3 1262.3h0M2699 1266.1h0M2696.1 1270.7h0M2695.9 1314.1h0M2697.7 1319.8h0M2700 1325.8h0M2699.9 1331.9h0M2700 1337.3h0M2697.4 1342h0M2696 1346h0M2696.2 1351.6h0M2697.1 1355.3h0M2698.8 1361.5h0M2703 1361.6V1940M2702.2 1244.9h0M2702.6 1251.3h0M2702.6 1256.3h0M2702.4 1277.1h0M2702.7 1281.4h0M2703.7 1287.6h0M2704.3 1293h0M2700.9 1297.5h0M2704.6 1301h0M2704.5 1304.7h0M2702.1 1309.2h0M2703.4 1313.3h0M2703.9 1317.8h0M2704.7 1322.6h0M2705.1 1327.9h0M2704.9 1334.3h0M2703.8 1351.2h0M2705.1 1355.2h0M2704.2 1360.7h0M2703.6 1366.9h0M2709.4 1201.6h0M2709 1208.5h0M2707.3 1215.1h0M2709.5 1221.1h0M2708.1 1352.1V1940M2705.9 1226.4h0M2708.2 1231.8h0M2708 1235.7h0M2707.2 1239.3h0M2707.8 1243h0M2706.3 1266.4h0M2709.8 1286.7h0M2708.6 1291.8h0M2707.6 1302.6h0M2708.6 1315.1h0M2709.3 1318.9h0M2706 1323.7h0M2706.3 1327.3h0M2709 1345.4h0M2706.3 1351.3h0M2713.1 1183.8h0M2712.3 1188h0M2714.4 1192.1h0M2713.8 1197.5h0M2712.8 1202.1h0M2712.1 1207.5h0M2713.2 1213.9h0M2713.1 1343.6V1940M2711 1222.9h0M2711.9 1226.5h0M2711.1 1232.4h0M2715 1236.4h0M2712.9 1240.3h0M2713 1286.4h0M2712.7 1291.5h0M2712.9 1296.8h0M2715.1 1301.1h0M2711.6 1304.9h0M2713.7 1309.4h0M2711.1 1313.9h0M2712.9 1319.4h0M2713.1 1324.6h0M2711.2 1329.1h0M2717 1193.5h0M2719.7 1207.3h0M2718 1216.6h0M2718.2 1326.9V1940M2718.2 1236.7h0M2716.8 1242.2h0M2720.2 1246.5h0M2718.3 1250.5h0M2717.4 1256.9h0M2718.5 1262.3h0M2718.1 1267h0M2720.3 1272.8h0M2719.9 1278.2h0M2718.9 1283.9h0M2719.1 1287.8h0M2718.5 1293.7h0M2716.1 1298.1h0M2716.8 1303.5h0M2717.6 1307.8h0M2717.3 1313.2h0M2718 1328.2h0M2717.4 1334h0M2717.4 1339h0M2718.1 1343.8h0M2723.2 1346.6V1940M2723.9 1288.2h0M2723.4 1294.3h0M2723 1300.2h0M2723.5 1306.3h0M2722.3 1311h0M2721.3 1315.3h0M2723.9 1319.4h0M2724.1 1323.7h0M2722.3 1333.9h0M2722 1339.8h0M2723.5 1345.6h0M2722.6 1349.2h0M2723.2 1355.3h0M2722.1 1359.1h0M2722.9 1363.6h0M2728.3 1376.8V1940M2730.2 1267.4h0M2729.5 1271.4h0M2729.3 1275.8h0M2727.7 1314.9h0M2726.8 1319.5h0M2728.6 1323.5h0M2727.4 1328.8h0M2728.1 1334.7h0M2727 1338.7h0M2729.4 1344h0M2729.3 1350.4h0M2729.5 1356h0M2726.7 1361.8h0M2726.9 1367.7h0M2727.7 1371.9h0M2728.5 1376h0M2728 1379.6h0M2727.1 1383.3h0M2729.6 1389.7h0M2733.4 1383.7V1940M2734 1279h0M2735.2 1285.3h0M2734.3 1290.5h0M2732 1296.6h0M2735.2 1303h0M2733.3 1306.9h0M2732.8 1313.4h0M2732.6 1319.5h0M2731.5 1343.3h0M2733.5 1375.5h0M2735.2 1380.8h0M2732.3 1385.8h0M2738.4 1375.8V1940M2737.6 1280.9h0M2736.5 1353.2h0M2737.7 1358.8h0M2740 1363.4h0M2739.8 1369h0M2737.3 1373h0M2743.5 1323.5V1940M2744.8 1209h0M2744.6 1214.2h0M2741.6 1219.9h0M2742 1226h0M2744.6 1229.7h0M2742.8 1234.7h0M2742.5 1238.6h0M2743.7 1244.1h0M2742.3 1250.2h0M2742.3 1255.4h0M2742.7 1260.1h0M2742.7 1265h0M2742.8 1270.6h0M2741.4 1275.6h0M2744.8 1281.3h0M2744.5 1287.3h0M2743.3 1293.8h0M2743.6 1298.7h0M2744 1304.8h0M2741.4 1311.1h0M2742.2 1316.8h0M2744.9 1322.7h0M2743.2 1327.9h0M2748.5 1312.8V1940M2748.9 1199.8h0M2747.7 1204.7h0M2747.8 1277.9h0M2749 1307.1h0M2748.3 1312.2h0M2746.9 1317.3h0M2753.6 1352.8V1940M2752.3 1234.2h0M2751.9 1238.1h0M2754.9 1241.8h0M2753.4 1246.9h0M2751.5 1253.3h0M2755.4 1257.6h0M2755 1261.9h0M2755.7 1265.6h0M2751.7 1270.1h0M2753.2 1275.8h0M2754.7 1281.8h0M2754 1285.8h0M2754.6 1289.6h0M2754.9 1294.8h0M2754.5 1299.6h0M2755.8 1306h0M2753.4 1310.2h0M2752.1 1315.7h0M2752.4 1319.3h0M2753.3 1322.9h0M2754.6 1328h0M2755.5 1332.3h0M2753.3 1335.8h0M2751.4 1340.5h0M2755.1 1344.1h0M2751.5 1348.2h0M2751.9 1354.4h0M2758.6 1317.5V1940M2757.7 1213.6h0M2760.4 1218.1h0M2758.1 1222.9h0M2757.8 1226.8h0M2758.5 1285.7h0M2756.7 1291.5h0M2757.7 1296.6h0M2758.4 1302h0M2758.4 1306.3h0M2760.7 1310.4h0M2759.1 1314.4h0M2759.5 1319.6h0M2760.8 1324.3h0M2759.3 1329.8h0M2760.5 1333.5h0M2762.2 1146.8h0M2765 1151.5h0M2764.3 1156.5h0M2763.8 1169.3h0M2765 1176.3h0M2763.3 1183.1h0M2763.3 1189.2h0M2764.6 1194.8h0M2763.7 1304.4V1940M2765.1 1199.3h0M2764.5 1204.3h0M2763.1 1280.7h0M2763.9 1285.4h0M2762.7 1289.2h0M2763.6 1294.8h0M2763.7 1299h0M2764.7 1305.2h0M2764.7 1310.2h0M2762.9 1315.4h0M2763.5 1320.4h0M2769.5 1145.2h0M2770.1 1153.9h0M2768.8 1158.1h0M2767.5 1163.2h0M2768.5 1168.8h0M2768.3 1174h0M2768 1180.1h0M2767.8 1185.7h0M2769 1192h0M2770 1196h0M2768.1 1201.6h0M2768.7 1208h0M2768.6 1212.4h0M2770.1 1217.3h0M2768.8 1342.6V1940M2768.9 1221.4h0M2769.9 1227h0M2769.9 1232h0M2768.7 1238h0M2767 1243.9h0M2770 1249h0M2769.9 1253.4h0M2769.9 1259.8h0M2766.8 1265.5h0M2770.3 1279.9h0M2768.1 1286h0M2770 1291.8h0M2768 1296.7h0M2768.2 1301.7h0M2768.5 1306.9h0M2766.8 1310.8h0M2767.6 1315.9h0M2766.8 1319.6h0M2768.3 1325.8h0M2770 1336.2h0M2769.7 1342.4h0M2772.7 1153.8h0M2772.4 1160.5h0M2773.6 1165.4h0M2775.3 1172.2h0M2773.7 1177.4h0M2772.7 1182.7h0M2775 1188.6h0M2774.6 1192.9h0M2773.8 1312.3V1940M2774 1219.5h0M2775.8 1224.8h0M2771.8 1229h0M2774.1 1234.6h0M2774.2 1264.7h0M2773 1270.5h0M2773.8 1274.8h0M2775.5 1281.2h0M2774 1286.2h0M2775.8 1292h0M2773.2 1297h0M2774.2 1302.6h0M2775.3 1307.3h0M2772.5 1311.3h0M2772.1 1317.7h0M2773.3 1321.7h0M2778.9 1302.4V1940M2777.9 1210.8h0M2779.3 1214.4h0M2777.9 1226.2h0M2781 1232.4h0M2780 1237.5h0M2778 1241.2h0M2778.2 1246.4h0M2778.4 1250.1h0M2779.6 1255.8h0M2779.2 1260h0M2779.2 1265.3h0M2777.7 1269.3h0M2779.2 1273.9h0M2777.4 1278.7h0M2777.7 1282.3h0M2778 1287.1h0M2777.4 1291.5h0M2779.6 1296.3h0M2779.6 1301.7h0M2778.9 1307.8h0M2777.4 1311.9h0M2779.5 1316.5h0M2783.9 1359V1940M2785.8 1243.8h0M2784 1248.1h0M2784.4 1253h0M2784.8 1257h0M2783.6 1263.3h0M2784.1 1269.7h0M2784.6 1274h0M2785.4 1279.9h0M2783.7 1299.3h0M2785.4 1304.9h0M2786 1311h0M2782.7 1315.3h0M2785.2 1320.7h0M2782.2 1325.9h0M2785.3 1330.5h0M2785.7 1335h0M2785.1 1340.3h0M2781.8 1360.6h0M2789 1384V1940M2786.9 1270.4h0M2787 1276.7h0M2787.7 1280.5h0M2789 1286.5h0M2787.7 1291.3h0M2789 1295.8h0M2788.8 1320h0M2789 1325.4h0M2789 1329.5h0M2789 1333.2h0M2788.6 1339.4h0M2788.8 1343.8h0M2789 1349.6h0M2789 1355.3h0M2789 1361.3h0M2787.4 1367.6h0M2789 1373.7h0M2787.5 1380.2h0M2789 1385.9h0M2789 1389.6h0M2787 1393.7h0M2642.3 1277.4h0M2646.9 1273.5h0M2658.6 1261.9h0M2670.3 1250.2h0M2681.9 1258h0M2691.7 1187.9h0M2701.4 1250.2h0M2709.2 1180.2h0M2718.9 1187.9h0M2724.7 1250.2h0M2736.4 1273.5h0M2746.1 1172.4h0M2755.9 1242.4h0M2763.7 1141.2h0M2775.3 1152.9h0M2783.1 1230.7h0M2789 1273.5h0M2642.1 1086.8h0M2642.9 1089.8h0M2642.1 1092.8h0M2641.9 1096.8h0M2641.6 1100.8h0M2641.7 1107.8h0M2642 1113.8h0M2642.8 1120.8h0M2642.8 1127.8h0M2642.7 1131.8h0M2642.1 1137.8h0M2643 1140.8h0M2642.3 1141.2h0M2664.2 1100.4h0M2664.4 1109.4h0M2664.1 1120.4h0M2664.1 1129.4h0M2663.9 1135.4h0M2664.6 1141.4h0M2663.7 1144.4h0M2664.9 1155.4h0M2664.6 1166.4h0M2664.4 1166.5h0M2641.7 929.2h0M2642.1 938.2h0M2641.8 942.2h0M2642.8 945.2h0M2642.9 950.2h0M2642.3 950.6h0M2642.3 905.8h0M2652 920.2h0M2652.8 940.9h0M2652 963h0M2642.3 972.8h0M2642.3 1007h0M2652 1010.1h0M2642.3 1025.7h0M2655.9 1044h0M2655.9 1053.7h0M2656.7 1059.5h0M2762.5 901.2h0M2776.1 931.9h0M2776.1 977.8h0M2776.1 993.4h0M2762.5 1011.7h0M2743 1046.7h0M2776.1 1056.4h0M2762.5 1057.6h0M2754.7 1060.3h0M2718.9 1066.5h0M2720.9 1073.2h0M2716.2 1081.7h0M2709.2 1090.7h0M2725.5 1093.8h0M2743 1077h0M2743 1086.8h0M2762.5 1077h0M2776.1 1098.4h0M2718.9 1114h0M2718.9 1121h0M2737.2 1113.2h0M2746.1 1114h0M2746.9 1133.5h0M2710 1136.2h0M2718.1 1144h0M2776.1 1119.8h0M2776.1 1125.7h0M2685.1 1145.1h0M2645.8 1157.6h0M2642.3 1168.5h0M2685.1 1173.5h0M2706.5 1175.5h0M2720.9 1166.5h0M2656.7 1182.1h0M2642.3 1189.9h0M2650.8 1195.7h0M2677.3 1193.8h0M2642.3 1207.4h0M2654.7 1213.2h0M2662.5 1221h0M2642.3 1230.7h0M2660.5 1240.5h0M2643.8 1252.1h0M2785.1 1179.4h0M2784.3 1189.9h0M2743 1203.5h0M2762.5 1211.3h0M2706.1 1258h0M2748.9 1265.8h0M2642.2 798.1h0M2642.2 839.3h0M2642.2 877h0M2642.2 889.1h0M2642.2 930h0M2762.4 857.2h0"/>
<path stroke="#87CEEB" d="M2836.5 1323.3V1940M2836.5 1259.1h0M2836.5 1265.1h0M2836.5 1268.9h0M2836.5 1274.5h0M2836.5 1278.5h0M2837.3 1283.6h0M2837 1288.4h0M2836.5 1294.3h0M2838.6 1298.2h0M2837.2 1304.3h0M2838.5 1308.1h0M2836.5 1312.3h0M2838.2 1317.7h0M2836.5 1322.7h0M2841.5 1314.3V1940M2840.9 1196.9h0M2840.8 1201.8h0M2842.5 1238.7h0M2841.8 1242.2h0M2842.9 1248.2h0M2840.8 1262.1h0M2840.7 1318.2h0M2846.5 1305.5V1940M2845.6 1224.9h0M2844.7 1229.7h0M2845.1 1235.3h0M2845.5 1238.8h0M2845.6 1244.8h0M2844.7 1251.1h0M2847.4 1255h0M2845 1260.4h0M2847.2 1266.7h0M2847 1271.9h0M2844.4 1277.2h0M2844.9 1281h0M2845.9 1286.6h0M2844.7 1290.8h0M2848.1 1300.3h0M2851.5 1326.3V1940M2850 1237.2h0M2850.4 1251.7h0M2853.2 1256.4h0M2852 1261.2h0M2851.8 1290.5h0M2850.6 1329h0M2852.8 1332.5h0M2853.7 1337.1h0M2856.5 1339.3V1940M2854.6 1226.7h0M2857.5 1259.7h0M2856.2 1263.6h0M2857.2 1269.7h0M2855.8 1274.4h0M2855.9 1308.2h0M2858.7 1313.2h0M2854.7 1318.1h0M2858 1323h0M2854.6 1329.2h0M2855.3 1332.9h0M2854.6 1347.2h0M2856.4 1351.7h0M2861.5 1358.1V1940M2862.9 1251.2h0M2861.8 1261.2h0M2859.7 1266.2h0M2861.7 1270.8h0M2862.4 1277.1h0M2860.7 1283h0M2861.4 1289.1h0M2863.6 1293.4h0M2862.2 1298.2h0M2862.5 1303.8h0M2862.6 1307.4h0M2862 1313.5h0M2863.4 1317.2h0M2859.4 1321.3h0M2862.7 1325h0M2861.1 1330.7h0M2860.4 1335.3h0M2860.4 1340.5h0M2862 1345.7h0M2863.3 1350.5h0M2862.8 1356.9h0M2862 1361.2h0M2866.6 1393.1V1940M2865.4 1305.7h0M2867.8 1312h0M2867 1317.1h0M2865.3 1322.4h0M2866.8 1328.4h0M2868.7 1333.2h0M2868.5 1337.3h0M2865.8 1341.2h0M2867.3 1346.6h0M2865.5 1352.3h0M2868 1392.4h0M2867.8 1397.2h0M2865.1 1401.8h0M2868 1406.8h0M2871.6 1401.7V1940M2869.6 1298.2h0M2871.4 1302.8h0M2873.3 1306.6h0M2870.8 1310.3h0M2873 1314.2h0M2870.7 1319.9h0M2870.2 1325h0M2876.7 1200.1h0M2875.7 1204.5h0M2877.2 1209.9h0M2875.8 1215.3h0M2876.6 1336.5V1940M2878.5 1223.4h0M2876.8 1227.4h0M2875.5 1231.5h0M2874.8 1237h0M2877.6 1240.5h0M2877.2 1246.8h0M2877.3 1283.1h0M2875.3 1288.1h0M2878.2 1292.6h0M2875.3 1297.6h0M2878.2 1303h0M2877.6 1313.2h0M2876.9 1318.6h0M2878.1 1322.8h0M2877.9 1328.5h0M2877.2 1333.4h0M2876.8 1337.1h0M2877.2 1341.1h0M2882.6 1183.7h0M2880.3 1189.9h0M2882.7 1196.3h0M2880.8 1201.5h0M2880.6 1208.4h0M2881.9 1213.4h0M2881.3 1219.5h0M2881.6 1344.6V1940M2882.4 1220.8h0M2881.1 1227.3h0M2879.5 1231.1h0M2882.5 1236.8h0M2882.1 1240.4h0M2881.5 1244h0M2880.9 1248.7h0M2882.7 1252.3h0M2882.9 1258.3h0M2882 1263.6h0M2882.2 1269.5h0M2883.5 1279.2h0M2880.2 1285.3h0M2880.4 1289.3h0M2881.9 1314h0M2881.2 1319.4h0M2883.5 1323.4h0M2880.5 1329.4h0M2879.4 1334.3h0M2886.6 1335.6V1940M2886.6 1225h0M2885.9 1230.2h0M2887.6 1235.2h0M2888 1239.3h0M2887 1254.3h0M2888.6 1259.5h0M2884.6 1273.1h0M2885.3 1279.3h0M2885.3 1285h0M2886.2 1290.1h0M2885.5 1296.1h0M2885.6 1302.1h0M2888 1306.6h0M2884.5 1311.5h0M2888 1316.6h0M2887.3 1322.8h0M2887.4 1326.6h0M2886 1332.5h0M2886.8 1337.8h0M2887.9 1342.5h0M2886.8 1347.4h0M2891.6 1337.6V1940M2889.6 1228.9h0M2890 1232.6h0M2890.8 1237.3h0M2892.3 1241.9h0M2893.2 1246.6h0M2890.7 1251.7h0M2892.5 1257.5h0M2889.7 1268.1h0M2893.1 1273.2h0M2890.4 1279.1h0M2890.7 1285.6h0M2891.3 1289.4h0M2890.4 1295h0M2893 1299.1h0M2893.7 1303.1h0M2889.5 1307.3h0M2893.2 1335.1h0M2893.7 1339.7h0M2891.3 1345.3h0M2889.5 1349.6h0M2896.6 1336.5V1940M2897.6 1260.4h0M2897.1 1266.6h0M2896.9 1270.6h0M2896.4 1276.2h0M2896.3 1281.9h0M2896.6 1288.3h0M2895.9 1294.2h0M2895.8 1300.7h0M2897.2 1306.2h0M2897.1 1310.9h0M2897.4 1315.6h0M2898 1321.2h0M2895.1 1326.6h0M2896.4 1331h0M2897.5 1336.7h0M2898.6 1340.6h0M2894.6 1346.4h0M2898.3 1350.4h0M2901.6 1352.8V1940M2901.1 1239h0M2903.8 1245.2h0M2900 1250.7h0M2901.2 1323h0M2902 1329.4h0M2901.1 1335.7h0M2902.5 1339.7h0M2901.1 1344h0M2903.5 1347.8h0M2900.7 1352.1h0M2900.1 1356.6h0M2906.6 1355.3V1940M2907.3 1299.7h0M2906.9 1344h0M2908.1 1349.2h0M2908.4 1355h0M2904.5 1359.1h0M2905.3 1363.7h0M2911.6 1348.5V1940M2912.6 1240.7h0M2909.9 1245.2h0M2912.4 1248.8h0M2911.9 1266.5h0M2912.5 1271.1h0M2912.1 1274.6h0M2910.6 1280.6h0M2911 1284.3h0M2909.8 1289.3h0M2912.3 1305.9h0M2913.7 1311.7h0M2910.7 1316.5h0M2912.1 1321.1h0M2910.6 1327.5h0M2912.9 1333h0M2911.1 1337.9h0M2909.8 1344.3h0M2911.4 1350.2h0M2913.2 1353.7h0M2913.4 1358.5h0M2910.6 1363.4h0M2916.7 1353.1V1940M2914.7 1249.2h0M2916.9 1253.8h0M2918.4 1285.4h0M2917.7 1291.8h0M2915 1296.4h0M2914.5 1302.1h0M2917.2 1307.4h0M2915 1312.4h0M2916.4 1318h0M2915.1 1321.7h0M2916.1 1327h0M2917.6 1333.3h0M2914.9 1339.3h0M2915.4 1343.1h0M2914.9 1349.4h0M2914.6 1353.5h0M2918.3 1358.7h0M2914.5 1364.4h0M2917.9 1369.9h0M2921.7 1355.5V1940M2921.4 1246.3h0M2926.7 1366.5V1940M2928 1278.9h0M2925.5 1284.7h0M2925 1290.7h0M2926.6 1295.8h0M2924.8 1302.2h0M2927.2 1308.4h0M2925.4 1314.7h0M2928.3 1319.9h0M2927.8 1325.6h0M2925.6 1329.8h0M2925.4 1333.6h0M2925.3 1339.6h0M2925.4 1345.6h0M2926.9 1350.2h0M2925.4 1354.6h0M2925.1 1359.5h0M2926.6 1364.7h0M2928 1368.8h0M2925.3 1375.3h0M2926.4 1381.4h0M2931.7 1376.5V1940M2930.6 1257.5h0M2933 1295.8h0M2932.3 1314.1h0M2930.5 1320.3h0M2930.2 1324.1h0M2931.9 1329.1h0M2933.4 1333.3h0M2930.8 1337.7h0M2930.4 1342h0M2930.4 1345.9h0M2932.1 1350.6h0M2930.3 1355.7h0M2932.9 1359.2h0M2932.2 1364.4h0M2933.6 1370.7h0M2932.6 1376.8h0M2930 1382.8h0M2936.7 1376.4V1940M2938.7 1266.9h0M2937.9 1271h0M2936.4 1276.1h0M2935.4 1280.5h0M2935.8 1286h0M2935.9 1291.6h0M2938.6 1297h0M2936.7 1302.6h0M2936 1307.5h0M2936.5 1312.7h0M2935.2 1318.9h0M2938.6 1323.1h0M2938 1326.6h0M2937.1 1331h0M2936.3 1334.7h0M2935.4 1340.3h0M2937.5 1345.9h0M2935.3 1351.5h0M2938.1 1357.7h0M2935.5 1362.5h0M2937.8 1367.6h0M2935.9 1373.2h0M2937.5 1378h0M2936.4 1381.7h0M2937.4 1386.4h0M2941.7 1396.2V1940M2941.7 1291h0M2941.7 1295.2h0M2941.3 1299.4h0M2941.7 1339.1h0M2940.6 1344.5h0M2941.7 1349h0M2941.7 1352.8h0M2940.9 1358.1h0M2939.8 1361.8h0M2941.7 1386.1h0M2941.5 1389.7h0M2940.3 1394.4h0M2939.6 1397.9h0M2940.7 1403.1h0M2941.7 1407.8h0M2836.5 1250.2h0M2837.6 1180.2h0M2849.3 1203.5h0M2860.9 1242.4h0M2866.8 1304.7h0M2872.6 1289.1h0M2878.4 1149h0M2886.2 1219.1h0M2897.9 1223h0M2907.6 1242.4h0M2917.4 1238.5h0M2927.1 1250.2h0M2938.8 1265.8h0M2941.7 1328h0M2877.7 1086.8h0M2878 1092.8h0M2879 1099.8h0M2878.4 1106.2h0M2877.7 1125.7h0M2879.2 1132.7h0M2877.8 1136.7h0M2878.5 1143.7h0M2879.2 1150.7h0M2879.1 1157.7h0M2878.7 1161.7h0M2877.8 1170.7h0M2877.9 1174.7h0M2878.3 1185.7h0M2878 1190.7h0M2877.7 1197.7h0M2878.8 1208.7h0M2877.8 1212.7h0M2878.7 1223.7h0M2877.9 1228.7h0M2879 1233.7h0M2879.2 1240.7h0M2878 1246.7h0M2878.5 1255.7h0M2878.8 1262.7h0M2878.6 1269.7h0M2878.6 1280.7h0M2878 1283.7h0M2877.7 1288.7h0M2878.4 1289.1h0M2841 1127.6h0M2842.2 1133.6h0M2841.8 1140.6h0M2841.5 1149.6h0M2840.9 1152.6h0M2841.5 1156.8h0M2848.5 1084.8h0M2849.1 1091.8h0M2848.7 1094.8h0M2849.9 1105.8h0M2849.3 1106.2h0M2849.3 944h0M2925.9 954.5h0M2850 979.8h0M2849.3 990.3h0M2849.3 1011.7h0M2936.8 982.9h0M2921.2 997.3h0M2936.8 1028.4h0M2878.4 1057.6h0M2921.2 1060.7h0M2849.3 1075.1h0M2839.5 1089.5h0M2893.2 1107.4h0M2899.8 1101.2h0M2925.1 1101.2h0M2925.9 1123.7h0M2937.6 1129.6h0M2837.6 1135.4h0M2850 1127.6h0M2912.3 1144h0M2923.2 1137.4h0M2888.2 1150.2h0M2859 1163.8h0M2923.2 1156.8h0M2921.2 1169.3h0M2916.6 1184h0M2929 1187.9h0M2938.8 1200.8h0M2929 1212.5h0M2940.7 1219.8h0M2938.8 1226.1h0M2899.1 1218.3h0M2923.2 1231.5h0M2911.5 1242.4h0M2864.8 1238.5h0M2859 1263.8h0M2857 1277.4h0M2911.4 841.2h0"/>
<path stroke="#BEBEBE" d="M2990.4 1406.2V1940M2990.4 1317.6h0M2990.4 1323.8h0M2991.1 1329.5h0M2990.4 1333.7h0M2991.1 1337.4h0M2990.4 1341.9h0M2990.4 1347.2h0M2990.8 1351h0M2991 1355h0M2990.4 1358.7h0M2990.4 1363.9h0M2990.4 1367.7h0M2992.2 1374.1h0M2990.4 1378.6h0M2990.5 1384.7h0M2992.2 1390.8h0M2991 1395.3h0M2991.4 1399.9h0M2990.4 1405.1h0M2995.4 1395V1940M2993.8 1289.9h0M2995.8 1293.9h0M2994.4 1299.2h0M2993.4 1303h0M2994.7 1307h0M2994.2 1343.2h0M2993.8 1349h0M2996.9 1354.3h0M2993.6 1360.4h0M2996.1 1364.3h0M2997.2 1368h0M2997 1374.4h0M2997.6 1378.1h0M2996.5 1383.6h0M2995.8 1387.9h0M2996.4 1400.3h0M2994.7 1406.6h0M3000.5 1377.5V1940M2999.1 1271.9h0M3002.5 1275.6h0M2999 1279.9h0M3000.9 1321.7h0M2999.2 1326.7h0M3001 1331.3h0M2998.6 1354h0M3000 1357.8h0M2999.1 1362.2h0M3002.4 1368.5h0M2998.4 1373.7h0M3002.1 1377.8h0M3001 1382.6h0M3000.4 1388.7h0M3002 1395.1h0M3005.5 1383.8V1940M3004.9 1316.1h0M3007.3 1321.5h0M3006.7 1325.3h0M3003.6 1331.4h0M3006.6 1351.3h0M3005.9 1356.7h0M3004.3 1362.4h0M3005.1 1367.8h0M3005 1372h0M3007.5 1375.6h0M3006.1 1380.9h0M3005.8 1387.3h0M3010.6 1393.9V1940M3011.2 1391.9h0M3015.6 1373.3V1940M3013.8 1262.3h0M3016.8 1266.9h0M3014.6 1271.4h0M3016.3 1275.2h0M3013.8 1279h0M3015.6 1282.8h0M3014.5 1324.5h0M3014.3 1330.8h0M3017.2 1337h0M3015.5 1341.7h0M3017.5 1345.9h0M3014.7 1351.7h0M3017.5 1356.8h0M3015.4 1362.9h0M3015.4 1368.7h0M3017.5 1374.5h0M3015.7 1378.7h0M3016.9 1383.6h0M3020.7 1385.8V1940M3019.5 1266.2h0M3022.1 1270.3h0M3021.5 1274.3h0M3022.2 1279.3h0M3020.1 1283.5h0M3018.7 1289.4h0M3021.4 1314.4h0M3021.4 1319.8h0M3019 1324.7h0M3019.7 1330h0M3020.1 1336.2h0M3020.5 1339.7h0M3021.6 1361.1h0M3019.4 1366.4h0M3021.1 1370.1h0M3022.2 1374.6h0M3022.3 1379.5h0M3021.2 1385.8h0M3018.8 1390.9h0M3025.7 1391.6V1940M3024 1278.2h0M3026 1282.2h0M3024.6 1288.6h0M3024.3 1292.3h0M3026.5 1298.7h0M3025.3 1303.5h0M3026.8 1309.8h0M3024.4 1315.3h0M3027 1334.8h0M3025.6 1340.4h0M3026.5 1346h0M3027.1 1351.2h0M3025.6 1357.5h0M3027 1362.7h0M3023.8 1367.1h0M3024.8 1371.7h0M3024.4 1376.7h0M3030.8 1371V1940M3029.7 1250.1h0M3031 1255.2h0M3032.4 1259.8h0M3031.4 1266.1h0M3030.2 1280.7h0M3030.6 1286.8h0M3032.2 1290.7h0M3030.5 1294.3h0M3030.1 1300h0M3029.7 1315.2h0M3030.7 1321.1h0M3032.1 1326.3h0M3031.3 1332.4h0M3032.6 1336.7h0M3028.8 1340.3h0M3030.5 1344.8h0M3028.6 1350.2h0M3032.5 1356.4h0M3030 1367.8h0M3030.9 1373.1h0M3034.7 1202.2h0M3035.7 1209.1h0M3037.1 1215.9h0M3036.8 1220.7h0M3036.2 1226.8h0M3035.8 1233.1h0M3034.4 1238.9h0M3036.6 1245.2h0M3035 1250.8h0M3037.1 1255.7h0M3035.8 1367V1940M3037.7 1344.1h0M3036 1347.9h0M3035.4 1354.1h0M3035.3 1358.6h0M3034.9 1364.9h0M3040.1 1205.8h0M3040.4 1209.9h0M3041.4 1214.2h0M3041.2 1221.2h0M3040.2 1227.1h0M3042.2 1232.2h0M3042.2 1236.8h0M3040.5 1247.9h0M3042 1257.1h0M3040.9 1380.6V1940M3042.2 1300.2h0M3038.7 1304.6h0M3039.4 1310.7h0M3041.3 1316.9h0M3039 1321.7h0M3042.2 1325.6h0M3041.3 1329.5h0M3042.5 1338.8h0M3042.5 1367.7h0M3045.9 1351.6V1940M3044 1290.6h0M3043.9 1295.5h0M3044 1301.7h0M3045.6 1306.9h0M3043.9 1312.1h0M3047.5 1316.3h0M3044.2 1321.4h0M3045.4 1327h0M3046.1 1333.4h0M3044.7 1339.4h0M3047.3 1343.5h0M3045.4 1349.4h0M3045.9 1353.6h0M3046 1357.8h0M3045.4 1363.3h0M3045.7 1368.1h0M3051 1375.3V1940M3052.7 1283.8h0M3049.8 1298.5h0M3050.8 1303h0M3053.1 1310.8h0M3049.4 1316.8h0M3056 1390.1V1940M3056.9 1289.3h0M3054.4 1328.2h0M3056.7 1332.7h0M3055.3 1339h0M3055.2 1344.4h0M3057.6 1349.2h0M3055.4 1353.7h0M3058 1358.5h0M3055.2 1365h0M3053.9 1370.3h0M3056.5 1375.8h0M3056.6 1380.9h0M3058.1 1385.8h0M3054 1389.8h0M3057 1394.2h0M3055.3 1398.7h0M3057.1 1404.7h0M3061.1 1392.7V1940M3062.8 1301.8h0M3062.3 1307.7h0M3060.2 1312.5h0M3060.5 1318.8h0M3059 1323.8h0M3062.1 1327.3h0M3062.4 1332.5h0M3058.9 1337.6h0M3061.3 1341.8h0M3062.7 1345.6h0M3061.9 1351.1h0M3063.1 1372.7h0M3060.3 1376.5h0M3061.4 1380.2h0M3059.3 1386.1h0M3061.5 1391.3h0M3062.6 1396.1h0M3059.4 1401.5h0M3066.1 1396.9V1940M3064.9 1275.9h0M3065.5 1282.1h0M3064.1 1336.8h0M3068.1 1356h0M3067.2 1388.6h0M3071.2 1351.5V1940M3070.9 1238.4h0M3073.3 1243.2h0M3070.4 1249.1h0M3073.3 1253h0M3070.8 1257h0M3069 1260.8h0M3072.8 1328.6h0M3069.7 1345.8h0M3072.2 1350.3h0M3072.3 1355.3h0M3072.1 1361.4h0M3077.2 1212.7h0M3076.7 1219h0M3075.3 1225.4h0M3077.1 1230.6h0M3075 1235.5h0M3076.2 1349V1940M3074.9 1241.5h0M3074.7 1245.9h0M3075.4 1250h0M3081.3 1337.9V1940M3083.4 1238.3h0M3082.6 1243.5h0M3079.6 1248.2h0M3083.3 1254.7h0M3079.2 1259.8h0M3081.7 1265.3h0M3081.3 1280.5h0M3081.5 1285.4h0M3080 1289.3h0M3081.9 1294.3h0M3082.6 1298.6h0M3081.9 1304.2h0M3081.3 1309.5h0M3080.8 1315.6h0M3080.4 1321.9h0M3079.4 1326.4h0M3082.7 1332.4h0M3080.7 1337.4h0M3080 1343.3h0M3079.1 1347.8h0M3081.1 1351.8h0M3086.3 1385.4V1940M3085.9 1285.6h0M3086.1 1291.7h0M3086.3 1356.4h0M3084.4 1362.4h0M3084.7 1366.6h0M3085 1371.3h0M3086.3 1389.6h0M3084.4 1393.3h0M3086.3 1398h0M2990.4 1347.5h0M2993.2 1285.2h0M3004.9 1265.8h0M3016.6 1261.9h0M3028.2 1273.5h0M3038 1172.4h0M3045.8 1242.4h0M3055.5 1289.1h0M3065.2 1273.5h0M3074.9 1203.5h0M3082.7 1238.5h0M3086.3 1289.1h0M3037.7 1172.4h0M3037.1 1181.4h0M3037.6 1192.4h0M3037.7 1198.4h0M3037.4 1207.4h0M3037.1 1218.4h0M3037.5 1223.4h0M3037.6 1228.4h0M3036.8 1232.4h0M3037.4 1235.4h0M3036.6 1241.4h0M3037.2 1247.4h0M3038 1256.4h0M3037.2 1261.9h0M3074.9 1199.6h0M3075.1 1203.6h0M3074.3 1214.6h0M3074.7 1219.6h0M3075.3 1230.6h0M3074.9 1235.6h0M3075.5 1242.6h0M3074.9 1250.2h0M3004.3 1189.9h0M3004.7 1196.9h0M3004.1 1199.9h0M3004.4 1210.9h0M3005.1 1213.9h0M3004.6 1218.9h0M3004.6 1223.9h0M3004.1 1232.9h0M3005 1238.9h0M3004.2 1244.9h0M3005.7 1253.9h0M3005.4 1260.9h0M3004.9 1265.8h0M3019.7 1042.8h0M3020.5 1055.6h0M3039.9 1047.9h0M3070.3 1080.2h0M3037.2 1088.7h0M3037.2 1094.6h0M3006.8 1107h0M3073 1110.1h0M3080.8 1117.9h0M3071.1 1117.9h0M3080.8 1131.5h0M2990.5 1132.3h0M2995.2 1139.3h0M2996 1149h0M2998.3 1156.8h0M3049.6 1147.9h0M3066.4 1156.8h0M3016.6 1187.9h0M3006.8 1192.6h0M3074.9 1182.9h0M3082.7 1184h0M2990.1 1234.6h0M2995.2 1242.4h0M3001 1250.2h0M2991.3 1250.2h0M3016.6 1224.9h0M3024.4 1234.6h0M3030.2 1242.4h0M3047.7 1244.4h0M3058.6 1275.5h0M3053.5 1285.2h0M2991.3 1285.2h0M2991.3 1339.7h0M2995.5 788.3h0M2995.5 865.4h0M2995.5 882.5h0"/>
<path stroke="#87CEEB" d="M3137.3 1393V1940M3137.3 1283.5h0M3139.1 1287.4h0M3137.3 1291.7h0M3137.3 1297.4h0M3137.3 1312.6h0M3138.1 1316.8h0M3138.3 1321.5h0M3137.3 1325.7h0M3137.3 1332h0M3138.6 1335.6h0M3138.3 1340.7h0M3137.3 1346.6h0M3137.3 1351.5h0M3138.4 1357.6h0M3137.9 1362.7h0M3139.4 1368.9h0M3138.7 1374.1h0M3138 1380h0M3138 1386.5h0M3138.8 1391.6h0M3138.4 1395.2h0M3137.6 1399.9h0M3137.3 1403.6h0M3142.2 1377.7V1940M3142.8 1270.1h0M3143.1 1274.5h0M3143.4 1280.4h0M3141.8 1285.6h0M3140.7 1299.9h0M3141.3 1304.5h0M3143 1308h0M3144 1313.3h0M3140.1 1319.5h0M3143.3 1324.3h0M3141.4 1329.7h0M3141.1 1334.2h0M3142 1360.6h0M3141.4 1364.1h0M3141.1 1368.8h0M3140.8 1373.3h0M3141.6 1379.7h0M3147.1 1378.4V1940M3147.9 1265.1h0M3147.1 1309h0M3145.4 1315h0M3147.7 1320.8h0M3145.9 1326.5h0M3152 1402.8V1940M3151.9 1283.4h0M3152.5 1289.5h0M3151.4 1307.3h0M3153.6 1338.1h0M3152.3 1348.1h0M3150.1 1353h0M3154.1 1359.3h0M3152.8 1364.1h0M3150.1 1369.7h0M3153.4 1375.2h0M3151.3 1380.6h0M3150.1 1384.8h0M3152.7 1388.7h0M3150.3 1394.6h0M3154 1400.5h0M3151.3 1404.6h0M3156.9 1393.3V1940M3158.5 1297.5h0M3158.3 1307h0M3155 1328.8h0M3158.4 1371.5h0M3156.6 1377.9h0M3155.4 1383.8h0M3156.5 1390.3h0M3154.9 1394.6h0M3157.2 1400.2h0M3158.1 1404.7h0M3161.7 1392.9V1940M3159.7 1308.3h0M3163.3 1313.9h0M3161.9 1345.8h0M3166.6 1398.8V1940M3168 1395.3h0M3171.5 1406.4V1940M3169.9 1320.6h0M3170.2 1395.9h0M3176.4 1386.8V1940M3177.5 1287.3h0M3174.3 1340.3h0M3178.5 1346.1h0M3176.4 1351.6h0M3174.2 1356.3h0M3178.4 1361.5h0M3176.4 1365.5h0M3177.2 1369.1h0M3174.8 1373.4h0M3175.5 1379.2h0M3176 1383.3h0M3177.8 1387.7h0M3175.4 1391.9h0M3178.4 1395.9h0M3182.5 1233h0M3180.5 1237.1h0M3180.3 1243.8h0M3180.1 1250.6h0M3181.3 1360.5V1940M3180.5 1253.4h0M3179.4 1258.8h0M3182.3 1265h0M3181.9 1333.8h0M3179.4 1343.8h0M3181.5 1350h0M3179.5 1356.2h0M3180 1362.2h0M3182.9 1365.9h0M3181.9 1369.7h0M3179.7 1373.7h0M3181.3 1379.3h0M3186.2 1369.7V1940M3187.8 1277.9h0M3186.8 1283.4h0M3184.7 1304.9h0M3185.6 1310.6h0M3188.2 1316.7h0M3187.2 1320.8h0M3188.2 1327.1h0M3184.8 1331.5h0M3191.1 1379.2V1940M3191 1374.6h0M3196 1396.3V1940M3196.5 1284.2h0M3194.6 1289.8h0M3198.1 1299.3h0M3194.4 1304.8h0M3196.4 1310.4h0M3194.5 1316.9h0M3193.9 1321.3h0M3194.1 1325h0M3196.3 1330h0M3195.1 1333.9h0M3194.1 1338.7h0M3195.3 1354.6h0M3197.8 1358.2h0M3194.9 1364.4h0M3195.8 1368.8h0M3196.2 1373.1h0M3197.4 1385.7h0M3197.3 1391.1h0M3197.5 1397.3h0M3198 1402.7h0M3197.8 1407.4h0M3200.9 1366.6V1940M3202.4 1297.4h0M3202.9 1303.6h0M3202.2 1308.7h0M3202 1312.3h0M3201.9 1318.8h0M3202.6 1325.1h0M3201.1 1329.6h0M3200.7 1334.4h0M3199.9 1340.1h0M3201 1344.9h0M3202.2 1350.2h0M3201.8 1354.3h0M3200.1 1359.2h0M3200.4 1363.7h0M3201.4 1369.3h0M3201.5 1374.4h0M3201.1 1378.1h0M3205.7 1359.8V1940M3205.3 1238.3h0M3206.2 1243.4h0M3205.4 1266.9h0M3206 1272.1h0M3206.9 1300.9h0M3204.1 1306.4h0M3203.7 1311.1h0M3207.7 1321.1h0M3204.5 1327.3h0M3203.8 1332.4h0M3205 1337.7h0M3204.4 1343.6h0M3205.5 1348h0M3204.6 1354.4h0M3207.3 1359.8h0M3209.5 1220.9h0M3209.4 1227.5h0M3209.9 1237.5h0M3210.6 1352.7V1940M3211.8 1241.3h0M3209.7 1245h0M3212.5 1265.1h0M3209.4 1269.1h0M3212.4 1275.2h0M3208.8 1280.5h0M3211.7 1286.3h0M3211.4 1291.5h0M3209.7 1297.5h0M3212.8 1303h0M3210.7 1308.1h0M3208.9 1313.4h0M3208.6 1319.3h0M3209.2 1324h0M3211.5 1327.5h0M3212.1 1333.4h0M3211.4 1339.9h0M3211.7 1344.1h0M3208.8 1350.6h0M3211.9 1356.7h0M3212.1 1361h0M3215 1209.1h0M3214.8 1218.4h0M3215 1224.9h0M3216.9 1229.5h0M3216 1234.4h0M3215.5 1355.9V1940M3213.8 1240.9h0M3217.6 1244.5h0M3216.2 1248.5h0M3214 1252.7h0M3216.3 1261.3h0M3214.4 1276.3h0M3214 1281.3h0M3216.3 1298.5h0M3214.1 1304.8h0M3215.2 1310.4h0M3213.5 1314.9h0M3215.6 1320.7h0M3213.8 1324.3h0M3215 1328.8h0M3214.4 1332.7h0M3213.5 1338.2h0M3216.7 1342.3h0M3216.6 1346.7h0M3214 1351.2h0M3216.9 1355.1h0M3217.1 1359.6h0M3216.3 1364.1h0M3220.1 1210.5h0M3220.7 1214.6h0M3221.6 1225.9h0M3219.6 1232h0M3221.3 1236.8h0M3220.4 1356.9V1940M3220.1 1334.6h0M3221 1340.4h0M3225.3 1371.5V1940M3224.6 1307.1h0M3225.3 1312.8h0M3223.5 1316.6h0M3225.3 1322h0M3225.3 1327.7h0M3225.3 1331.2h0M3224.8 1335.6h0M3225.3 1340.7h0M3223.3 1345.5h0M3225.2 1349.6h0M3223.5 1355.7h0M3225.3 1359.6h0M3225.3 1364.4h0M3224.6 1368.3h0M3225.3 1374.8h0M3137.3 1366.9h0M3137.3 1293h0M3142.6 1250.2h0M3150.4 1269.6h0M3158.2 1289.1h0M3166 1320.2h0M3173.8 1308.6h0M3179.6 1219.1h0M3187.4 1250.2h0M3195.2 1289.1h0M3202.9 1242.4h0M3212.7 1211.3h0M3222.4 1207.4h0M3225.3 1289.1h0M3190.6 973.9h0M3191.7 984.9h0M3191.5 987.9h0M3191.5 992.9h0M3191.9 1003.9h0M3191.3 1012.8h0M3176.2 1102.3h0M3176 1111.3h0M3176.5 1114h0M3170.2 1176.3h0M3170.7 1187.3h0M3170.6 1192.3h0M3169.9 1195.7h0M3182.3 942.8h0M3192.4 949.4h0M3138.3 1021.4h0M3176.5 1019.8h0M3191.3 1022.6h0M3191.3 1038.1h0M3212.7 1046.3h0M3138.3 1055.6h0M3143.8 1059.5h0M3192.4 1073.9h0M3138.3 1079h0M3142.6 1090.7h0M3143.8 1100.4h0M3152.4 1108.9h0M3179.2 1093.4h0M3213.4 1099.2h0M3212.7 1125.7h0M3145.3 1133.5h0M3143 1141.2h0M3170.2 1145.1h0M3170.2 1154.9h0M3209.2 1146.7h0M3221.2 1151.8h0M3138.3 1172.4h0M3153.1 1168.5h0M3213.1 1194.9h0M3179.6 1203.5h0M3166 1205.4h0M3157 1222.2h0M3167.9 1224.9h0M3192 1226.8h0M3138.3 1226.1h0M3138.3 1232.7h0M3157 1248.2h0M3143.8 1254.1h0M3189.3 1250.2h0M3201 1242.4h0M3142.6 1271.6h0M3223.6 1293h0M3224.3 1277.4h0M3135.5 1893h0M3136 1908h0"/>
<path stroke="#BEBEBE" d="M3252.1 1167.9h0M3252.7 1179.4h0M3252.3 1184.3h0M3252.5 1190.8h0M3250.7 1202h0M3250.8 1206.1h0M3250.8 1212.2h0M3251.2 1218.7h0M3251.2 1225h0M3251.4 1231.5h0M3252.5 1242h0M3251.8 1248.3h0M3251.8 1367.8V1940M3253.7 1255.6h0M3251.8 1259.9h0M3251.8 1263.9h0M3251.8 1318h0M3256.2 1190.1h0M3257.4 1195.6h0M3257.6 1201.3h0M3256.6 1206.8h0M3257.1 1213.6h0M3257.2 1219.3h0M3256.4 1223.7h0M3255.6 1228.5h0M3256.8 1235.1h0M3257.3 1239.9h0M3256.7 1245.4h0M3256.8 1377.8V1940M3258.5 1253.4h0M3258.3 1283.1h0M3258 1288.3h0M3255.2 1293.3h0M3258 1299.3h0M3256.2 1304.5h0M3255.1 1310.2h0M3258.8 1315.3h0M3255 1321.4h0M3256.1 1326.3h0M3254.7 1331.3h0M3256.6 1337.7h0M3254.9 1342.2h0M3256.7 1347.1h0M3254.6 1350.6h0M3257.3 1354.1h0M3258.9 1359.4h0M3257.1 1369.9h0M3257.9 1373.9h0M3262.6 1215.9h0M3260.9 1222.1h0M3261.3 1226.7h0M3261 1232.8h0M3262.7 1243.3h0M3261 1248h0M3261.8 1360V1940M3262.9 1256.3h0M3261.4 1285.5h0M3260.4 1291.4h0M3262.5 1297.6h0M3259.8 1302.8h0M3262.3 1309.2h0M3261.8 1313.3h0M3262.3 1319h0M3262.6 1324.4h0M3260 1328.9h0M3259.8 1333.7h0M3259.8 1339.6h0M3262.4 1345h0M3262.3 1348.9h0M3262.3 1354.2h0M3262.8 1360.7h0M3263.4 1366.6h0M3261 1372.1h0M3262.8 1377.8h0M3266.7 1389.2V1940M3265.3 1306.1h0M3265.4 1309.8h0M3267 1314.2h0M3266.3 1319.5h0M3266.1 1324h0M3264.8 1328.9h0M3267.2 1333.9h0M3268.4 1340h0M3267.1 1343.9h0M3266.5 1350h0M3265.4 1354.2h0M3264.6 1358.6h0M3268.1 1364.4h0M3264.8 1369.4h0M3266.1 1375.2h0M3268.2 1380.6h0M3267.6 1385.9h0M3268.2 1390.5h0M3271.7 1392.2V1940M3270.9 1274.4h0M3273 1289.7h0M3273.1 1294.1h0M3270 1302.6h0M3270 1306.2h0M3273.3 1310h0M3270.9 1313.7h0M3273.7 1318.2h0M3269.6 1323.9h0M3270.3 1329.9h0M3271.9 1336.1h0M3269.6 1340.2h0M3270 1346.2h0M3271.3 1350.6h0M3271 1356.1h0M3273 1360.5h0M3272.6 1366h0M3273.7 1372.3h0M3271.5 1377.2h0M3271.8 1383.5h0M3273.2 1389.9h0M3276.7 1373.9V1940M3275.7 1269.5h0M3276.6 1274h0M3277.6 1278.4h0M3278.5 1283.6h0M3276.5 1289.9h0M3278 1295.1h0M3277.9 1328.3h0M3276.1 1333.3h0M3275.5 1339.1h0M3276.8 1345.4h0M3274.6 1351h0M3276 1356.4h0M3277.9 1362.2h0M3277.2 1366.8h0M3278.7 1372h0M3275.8 1377.2h0M3278.5 1380.7h0M3278.7 1385.8h0M3275.5 1389.8h0M3281.7 1386.2V1940M3282.6 1273.5h0M3282.9 1278h0M3281.6 1283.9h0M3280 1287.5h0M3282.8 1291.8h0M3282.5 1354.5h0M3283.8 1360.4h0M3281.9 1364.2h0M3279.9 1370.6h0M3283 1374.7h0M3281.3 1381.1h0M3279.7 1385.7h0M3282.2 1389.6h0M3279.5 1394h0M3280.5 1399.4h0M3286.6 1388.5V1940M3288.2 1280.3h0M3286.5 1285.9h0M3285 1290.2h0M3287.4 1294.9h0M3285 1299h0M3287 1304.2h0M3285.9 1309.6h0M3285 1315.1h0M3287.2 1319.2h0M3287.5 1323.5h0M3286.6 1327.4h0M3286.8 1333.6h0M3285.4 1340h0M3288.5 1344.9h0M3286.4 1348.8h0M3288.3 1353.9h0M3285.1 1359.6h0M3287 1363.6h0M3285 1369h0M3288.6 1372.8h0M3287.3 1379.1h0M3286.6 1385.6h0M3286.6 1389.1h0M3288 1393.8h0M3285.4 1398h0M3285 1403.3h0M3291.6 1399.5V1940M3289.7 1296h0M3289.9 1381.4h0M3291.4 1385.6h0M3292.4 1389.3h0M3290.4 1393.2h0M3291.2 1397.2h0M3292.9 1402.5h0M3293.8 1406.3h0M3296.6 1398.7V1940M3297.2 1311h0M3294.8 1314.6h0M3294.8 1318.2h0M3296.9 1321.9h0M3294.9 1326.6h0M3297.3 1340h0M3295.3 1346.4h0M3296.6 1351.5h0M3295.9 1355.4h0M3298.7 1400.5h0M3297.7 1406.8h0M3301.6 1396.7V1940M3303.3 1345.4h0M3301.8 1377.7h0M3301.5 1384.1h0M3302.8 1390.5h0M3299.7 1395.5h0M3301.5 1401.7h0M3306.5 1352.8V1940M3306.5 1244.2h0M3308 1259.7h0M3305.7 1264.2h0M3307.4 1316h0M3305.2 1321.6h0M3306.6 1327.5h0M3306.4 1332.7h0M3304.9 1337.4h0M3307.7 1343.1h0M3305 1347.7h0M3305.5 1353.6h0M3308.4 1359.7h0M3308.4 1364.8h0M3308.4 1368.5h0M3312 1191.2h0M3312.1 1202.6h0M3310 1209.1h0M3310.7 1213.6h0M3313 1225.7h0M3311.5 1356.2V1940M3312.9 1241h0M3309.9 1247h0M3310 1316.1h0M3312.5 1320.6h0M3312.9 1324.7h0M3312.1 1328.2h0M3312.1 1334.3h0M3312.9 1338h0M3312.6 1343.4h0M3310.2 1349.4h0M3312 1353h0M3311.2 1359.2h0M3311.4 1363.7h0M3316.9 1204.1h0M3317.1 1210.1h0M3317.6 1214.1h0M3315.8 1218.7h0M3315.7 1222.9h0M3316.5 1343.4V1940M3316.3 1234.1h0M3316.7 1304.1h0M3316.9 1328.3h0M3317.3 1333.5h0M3316.6 1337.6h0M3316 1341.9h0M3315.1 1347.1h0M3317.1 1350.8h0M3314.7 1355.4h0M3322.4 1207.7h0M3322.8 1212.7h0M3320.8 1219.5h0M3321.4 1228.8h0M3321.5 1351.5V1940M3323.6 1235.5h0M3323.2 1241.4h0M3322 1246.8h0M3322.3 1251.5h0M3323.6 1256.9h0M3320.8 1263.2h0M3319.4 1277.3h0M3323 1283.2h0M3322.7 1288.7h0M3320.6 1293.8h0M3323.3 1299.4h0M3322.9 1305.1h0M3323.3 1311.1h0M3320.5 1338.1h0M3320.8 1341.6h0M3321.8 1347.5h0M3321.3 1352.2h0M3320.2 1358.3h0M3326.4 1321.7V1940M3325.4 1213.9h0M3328.2 1219.1h0M3328.2 1223.9h0M3324.8 1229.2h0M3328 1234.4h0M3327.3 1240.6h0M3325.1 1245.6h0M3326.8 1251.3h0M3325.3 1256.8h0M3325.2 1261.7h0M3324.9 1267.5h0M3326.1 1273.2h0M3328 1278.8h0M3328.1 1282.6h0M3326.3 1288.1h0M3327.5 1292.5h0M3325.2 1298h0M3328.2 1302.6h0M3324.6 1307.6h0M3327.7 1314h0M3328.6 1319.3h0M3328.6 1325.4h0M3326.7 1329h0M3324.7 1334.6h0M3331.4 1319.9V1940M3331.8 1203.2h0M3332.8 1206.9h0M3333.3 1251.9h0M3332.4 1283.2h0M3331.8 1289.1h0M3329.4 1294.3h0M3332.5 1299.7h0M3332.9 1305h0M3331.8 1308.5h0M3330.1 1319.6h0M3333.1 1324.4h0M3337.7 1175.7h0M3334.9 1182.3h0M3337.2 1193h0M3336 1198.8h0M3336.4 1316.2V1940M3336.3 1202.9h0M3336.4 1207.6h0M3336.3 1212.4h0M3335.6 1234.4h0M3336.8 1264h0M3336.6 1288.6h0M3334.5 1295.1h0M3337.5 1301.1h0M3336.4 1305.8h0M3335.9 1312h0M3335.5 1318.3h0M3336.5 1324.8h0M3341.4 1307.4V1940M3339.8 1200.5h0M3339.5 1213.2h0M3343.5 1219.7h0M3340 1226h0M3342.8 1231.4h0M3340.5 1236.9h0M3343.5 1241.2h0M3340.2 1245.8h0M3342.3 1251h0M3342.5 1256.3h0M3342.2 1262.6h0M3343.3 1297.6h0M3343.5 1302.5h0M3341.1 1307.5h0M3340.4 1313.5h0M3340.6 1319.5h0M3343.1 1325.1h0M3346.3 1326.2V1940M3346 1221.9h0M3345.1 1226.5h0M3344.4 1238h0M3351.3 1358.5V1940M3351.3 1249.8h0M3349.7 1320.3h0M3350.5 1324h0M3251.8 1289.1h0M3251.8 1160.7h0M3259.4 1195.7h0M3267.1 1261.9h0M3278.8 1258h0M3290.5 1289.1h0M3302.2 1320.2h0M3309.9 1180.2h0M3317.7 1203.5h0M3327.4 1211.3h0M3337.2 1172.4h0M3346.9 1219.1h0M3351.3 1269.6h0M3290.7 1110.1h0M3291 1115.1h0M3290 1124.1h0M3289.9 1133.1h0M3291.3 1136.1h0M3290.4 1141.1h0M3290.5 1145.1h0M3313.5 1071.2h0M3314.4 1074.2h0M3314.1 1079.2h0M3313.2 1082.2h0M3313.6 1086.2h0M3313.2 1089.2h0M3314.1 1092.2h0M3313.3 1098.2h0M3313.8 1102.3h0M3255 1160.7h0M3255.1 1166.7h0M3254.9 1171.7h0M3254.6 1178.7h0M3253.8 1185.7h0M3253.5 1192.7h0M3253.7 1197.7h0M3255 1203.7h0M3254.8 1214.7h0M3254.1 1218.7h0M3254.4 1229.7h0M3253.9 1232.7h0M3253.8 1237.7h0M3253.6 1246.7h0M3254.3 1250.2h0M3290.4 1187.9h0M3290.7 1194.9h0M3290.9 1201.9h0M3289.7 1210.9h0M3291.3 1215.9h0M3290.5 1226.9h0M3290.5 1234.6h0M3342.2 922.2h0M3314.6 948.6h0M3290.5 1005.1h0M3290.5 1019.8h0M3254.3 1022.6h0M3254.3 1058.8h0M3274.1 1061.5h0M3290.5 1059.9h0M3274.1 1077h0M3337.2 1089.5h0M3290.5 1098.4h0M3324.7 1109.3h0M3314.6 1119.1h0M3254.3 1125.7h0M3314.6 1135h0M3324.7 1154.9h0M3317.7 1156.8h0M3275.7 1171.2h0M3289.7 1171.2h0M3344.2 1173.5h0M3323.6 1176.3h0M3337.2 1187.9h0M3274.1 1212.5h0M3348.8 1218.3h0M3333.3 1207.4h0M3290.5 1252.1h0M3331.3 1234.6h0M3274.9 1265.8h0M3290.5 1267.7h0M3288.5 1281.3h0"/>
<path stroke="#87CEEB" d="M3377.7 1397V1940M3377.7 1287h0M3377.7 1290.7h0M3378.2 1294.3h0M3378.8 1299.9h0M3377.8 1305.4h0M3379.6 1309.3h0M3377.7 1325.2h0M3377.7 1330h0M3377.7 1336.5h0M3377.9 1342.9h0M3378.1 1348.7h0M3378.4 1353.9h0M3377.7 1360.1h0M3377.7 1366.1h0M3377.7 1370.8h0M3377.7 1377.1h0M3377.7 1380.7h0M3377.7 1386.6h0M3378.3 1390.9h0M3377.7 1397.1h0M3377.7 1403h0M3382.7 1377.4V1940M3380.6 1261.6h0M3381 1284.5h0M3380.8 1288.6h0M3381.3 1292.5h0M3381.4 1297.1h0M3381.8 1301.2h0M3381.5 1306.4h0M3384.8 1310.6h0M3382.7 1315.6h0M3381 1322.1h0M3381.9 1326.8h0M3383.4 1330.4h0M3380.7 1336h0M3382.6 1342.5h0M3383.4 1346.3h0M3384.8 1350.4h0M3382 1356.3h0M3382.4 1359.8h0M3380.8 1364.5h0M3384.8 1369.1h0M3382.5 1372.9h0M3380.5 1377.2h0M3382.2 1382.1h0M3388.5 1182.1h0M3387.9 1187.5h0M3388.4 1193.6h0M3387 1204.4h0M3386.9 1209.8h0M3386.6 1214.3h0M3387.6 1336V1940M3385.8 1224.5h0M3388.1 1284.1h0M3387.1 1289.2h0M3385.7 1304.1h0M3386.1 1309.4h0M3387.5 1313.1h0M3388 1317.9h0M3386.3 1324.3h0M3389.5 1329.7h0M3386.8 1335.7h0M3388.3 1340.6h0M3391.3 1159.5h0M3393.7 1165.7h0M3393.8 1172.2h0M3391.5 1182h0M3392.1 1186.4h0M3392.6 1310.7V1940M3394.2 1197h0M3393.6 1202.6h0M3390.7 1206.4h0M3394 1212h0M3393 1301.2h0M3393 1307.5h0M3392.8 1311.8h0M3392.8 1315.8h0M3391.3 1319.5h0M3398.5 1181.2h0M3397.9 1187.5h0M3397.7 1193.7h0M3398.8 1198.1h0M3396.4 1202.3h0M3396.6 1208.1h0M3397.2 1214.3h0M3397.5 1340.6V1940M3397.4 1219.5h0M3395.9 1223.2h0M3396.5 1227.4h0M3397.4 1233.1h0M3398.8 1239.4h0M3398.5 1245.8h0M3398.7 1249.6h0M3398.2 1255.5h0M3398.9 1259.7h0M3398.3 1266.1h0M3397.8 1270.3h0M3397.1 1275.6h0M3399.1 1280.5h0M3396.9 1285.9h0M3396.4 1295.2h0M3396.2 1304.6h0M3396.3 1308.9h0M3397.9 1313.1h0M3398.1 1331.5h0M3396.9 1336.7h0M3402.5 1188.6h0M3401.8 1195.5h0M3401.9 1201.8h0M3401.6 1208.5h0M3402.5 1212.6h0M3402.5 1336.4V1940M3403.9 1217.8h0M3402.1 1224.3h0M3401 1227.9h0M3403.2 1234.3h0M3404.2 1240.5h0M3400.9 1296.5h0M3404.2 1301.2h0M3403.7 1305.9h0M3403.7 1312.2h0M3402.5 1316.7h0M3401 1323.2h0M3403.1 1329.4h0M3404.6 1335.5h0M3401 1339.7h0M3406.7 1193.5h0M3407.5 1199.9h0M3407.6 1205.7h0M3406.1 1210.9h0M3408.4 1216.7h0M3407.8 1221.2h0M3407.5 1340V1940M3405.8 1222.9h0M3405.7 1228h0M3406.8 1263.1h0M3408 1269h0M3405.7 1273.7h0M3408.8 1278.4h0M3408.7 1283.8h0M3405.8 1289.7h0M3408.9 1293.9h0M3408.1 1339.6h0M3408.5 1344.3h0M3412.4 1335.3V1940M3411.9 1230.4h0M3410.4 1236.1h0M3410.8 1240.4h0M3410.9 1276.1h0M3411.8 1280.1h0M3413.4 1304.3h0M3410.9 1309.5h0M3414.5 1313.8h0M3413.6 1318.8h0M3410.9 1323h0M3412.2 1327h0M3413.4 1330.6h0M3413.4 1345.6h0M3410.8 1351h0M3417.4 1361.2V1940M3419.6 1280.8h0M3418.9 1286.7h0M3416.5 1292.1h0M3417.8 1335.4h0M3418.1 1339.8h0M3416.6 1343.8h0M3418.3 1348.8h0M3415.3 1354.4h0M3419.6 1360.9h0M3418.4 1369.5h0M3422.3 1362.8V1940M3423.6 1256.1h0M3422 1297.3h0M3422.2 1302.9h0M3422.7 1308.5h0M3424 1313.8h0M3420.2 1319.5h0M3422.9 1340.5h0M3422.3 1345.7h0M3423.4 1349.8h0M3424.2 1354.4h0M3420.4 1358.9h0M3421.8 1363h0M3421.9 1366.7h0M3422.9 1371.1h0M3427.3 1349.3V1940M3425.2 1232h0M3428.5 1237.6h0M3427.3 1259.8h0M3427.8 1264.4h0M3427.6 1268.6h0M3426.6 1272.4h0M3429.4 1277.7h0M3428.2 1286.2h0M3425.7 1297.6h0M3427.2 1302.1h0M3426.9 1307.7h0M3425.4 1311.9h0M3425.8 1315.9h0M3428.6 1319.7h0M3427.1 1323.5h0M3425.8 1329.9h0M3429.2 1336.2h0M3425.6 1340.6h0M3426 1346.8h0M3429.3 1352.8h0M3432.3 1310.7V1940M3431.6 1214.7h0M3432.4 1219.7h0M3431.9 1255.1h0M3431.8 1282h0M3431 1286h0M3431.7 1290.7h0M3433.5 1295.5h0M3431.9 1316h0M3437.2 1323.7V1940M3435.5 1248.8h0M3439.4 1254.1h0M3437.1 1259.9h0M3437.6 1281.5h0M3437.1 1287.6h0M3435.5 1293.9h0M3438 1299h0M3436.1 1305.3h0M3435.6 1311.3h0M3439.3 1317.3h0M3436.2 1322.2h0M3437.3 1326.8h0M3442.2 1379.3V1940M3443 1265.7h0M3447.2 1375.7V1940M3446.5 1269.5h0M3448.8 1275.2h0M3448.6 1279.7h0M3445.3 1286.2h0M3446.5 1292.6h0M3448.5 1307.6h0M3445.2 1313.1h0M3445.8 1319.2h0M3445.6 1324.6h0M3448.7 1328.1h0M3448.3 1332h0M3448.6 1337.9h0M3448.7 1341.7h0M3447.4 1348.1h0M3446.6 1354.2h0M3449.2 1358.4h0M3446 1367h0M3447.6 1372.2h0M3446.7 1378.2h0M3447.1 1384.4h0M3445.4 1388.8h0M3452.1 1360.3V1940M3453.6 1241.5h0M3452.3 1268.9h0M3452.8 1280.6h0M3453.4 1284.6h0M3451.3 1289.6h0M3451.6 1298.5h0M3453.4 1302.8h0M3452 1307.1h0M3450.8 1311.1h0M3451 1316.4h0M3451.9 1320h0M3452.2 1325.1h0M3451.6 1330.6h0M3454.2 1336h0M3451.6 1342.3h0M3453.9 1347.9h0M3451.8 1353.3h0M3453.9 1359.2h0M3450.1 1363h0M3458.4 1163.8h0M3456.3 1169.6h0M3457.7 1180h0M3457.5 1184.7h0M3456.8 1189.7h0M3456.7 1196h0M3456.3 1200.7h0M3456.3 1205.7h0M3456.4 1210.9h0M3457.5 1217h0M3457.1 1349.6V1940M3455.2 1228.7h0M3456.4 1234.3h0M3456.2 1238.5h0M3455.3 1243.3h0M3458.8 1258.6h0M3461 1161.6h0M3462.7 1165.7h0M3461.6 1171.1h0M3461.4 1177.7h0M3461.9 1182.3h0M3461.5 1187.4h0M3461 1194.2h0M3461.3 1199h0M3461.8 1210.4h0M3461.4 1215.8h0M3460.6 1222.6h0M3462 1344.2V1940M3463.1 1226.9h0M3460.8 1243.5h0M3463.3 1247.7h0M3463.7 1295.7h0M3463.4 1300.4h0M3464.2 1304.2h0M3461.7 1307.7h0M3461.8 1312.8h0M3462.8 1319.3h0M3462.8 1323.1h0M3460.2 1326.9h0M3463.3 1331.9h0M3462.4 1336.1h0M3463.4 1341h0M3461.6 1344.5h0M3464.1 1348.9h0M3467 1348.8V1940M3467 1236.7h0M3467 1242.7h0M3466 1247h0M3465.9 1252.1h0M3466.8 1256.4h0M3467 1287.6h0M3467 1303.9h0M3465 1307.5h0M3467 1311.9h0M3467 1316.4h0M3466.7 1320.5h0M3466.2 1325.3h0M3467 1329.2h0M3467 1333.8h0M3466.9 1337.4h0M3467 1343.6h0M3465.9 1348.2h0M3465.8 1353.7h0M3467 1358.7h0M3377.7 1289.1h0M3381.9 1269.6h0M3389.7 1149h0M3397.5 1180.2h0M3407.2 1187.9h0M3415 1242.4h0M3424.7 1250.2h0M3434.5 1172.4h0M3442.2 1258h0M3450 1273.5h0M3459.7 1114h0M3467 1242.4h0M3467 1304.7h0M3397.4 1016.7h0M3397.5 1020.7h0M3396.8 1023.7h0M3397.3 1030.7h0M3396.8 1036.7h0M3397.5 1040.7h0M3397.2 1045.7h0M3396.4 1050.7h0M3396.4 1054.7h0M3396.5 1057.7h0M3396.3 1066.7h0M3396.2 1072.7h0M3396 1083.7h0M3396.7 1090.7h0M3459.3 1114h0M3459.8 1118h0M3460.2 1123h0M3460.3 1126h0M3459.9 1132h0M3459.9 1137h0M3459.2 1142h0M3459.1 1148h0M3459 1154h0M3460.2 1157h0M3459.4 1168h0M3459.6 1172h0M3459.8 1175h0M3460.2 1179h0M3459.8 1185h0M3459.5 1191h0M3459.7 1191.8h0M3434.8 1176.3h0M3434.2 1183.3h0M3433.9 1188.3h0M3434 1193.3h0M3434.3 1200.3h0M3434 1205.3h0M3433.7 1210.3h0M3435 1216.3h0M3434.6 1219.3h0M3434.6 1224.3h0M3434.6 1231.3h0M3435 1234.3h0M3434.7 1238.3h0M3434.5 1242.4h0M3394.2 1117.9h0M3394.3 1120.9h0M3393 1131.9h0M3393.7 1138.9h0M3394.2 1142.9h0M3393.4 1151.9h0M3394.2 1155.9h0M3393.3 1161.9h0M3393.2 1164.9h0M3393.6 1172.4h0M3396.7 946.7h0M3396.7 952.5h0M3396.7 972h0M3413.1 999.2h0M3466.4 997.3h0M3439.1 1015.2h0M3389.7 1051.8h0M3407.2 1057.6h0M3418.1 1062.6h0M3458.6 1052.1h0M3439.1 1082.9h0M3389.7 1114h0M3406 1123h0M3427.4 1131.5h0M3427.4 1140.5h0M3443.4 1142.4h0M3387.8 1152.9h0M3416.2 1156.8h0M3467.5 1154.9h0M3435.2 1165.8h0M3385.8 1169.6h0M3413.1 1188.7h0M3415 1203.5h0M3459.7 1203.5h0M3459.7 1219.1h0M3465.6 1218.3h0M3415 1223h0M3387.8 1223h0M3378.8 1241.2h0M3415 1244.4h0M3465.6 1244.4h0M3426.7 1211.3h0M3382.3 837.4h0"/>
<path stroke="#BEBEBE" d="M3493.5 1392.6V1940M3493.5 1300.2h0M3494.5 1305.5h0M3495.1 1320h0M3493.5 1325.5h0M3495.6 1341.1h0M3493.5 1347.3h0M3493.5 1351.4h0M3493.5 1355h0M3493.5 1358.8h0M3495.4 1362.5h0M3493.5 1367.5h0M3493.8 1373.7h0M3494.7 1378.8h0M3495.1 1384.4h0M3493.5 1390.1h0M3493.5 1394.2h0M3494.4 1398.4h0M3494.2 1403.2h0M3498.6 1404.7V1940M3498.4 1288.2h0M3500.3 1301.4h0M3496.4 1305.9h0M3499.3 1309.6h0M3499.7 1314.4h0M3498.8 1318.8h0M3500.3 1322.8h0M3496.8 1327.6h0M3499.2 1332.1h0M3499.8 1337.4h0M3500.6 1342.2h0M3500.5 1348.6h0M3499.9 1353.5h0M3498.4 1358.1h0M3498.7 1364h0M3499.4 1369.9h0M3499.7 1374.7h0M3499.2 1380.6h0M3497.5 1385.9h0M3496.9 1391.7h0M3498.8 1396.5h0M3496.4 1402.9h0M3503.6 1383.8V1940M3501.7 1347.7h0M3503.8 1351.4h0M3503.6 1366h0M3501.5 1370.7h0M3504 1376.1h0M3503.5 1380.1h0M3502.9 1385.8h0M3503.6 1390.4h0M3503.4 1396.1h0M3508.7 1379.3V1940M3509.4 1266.3h0M3507.4 1270.7h0M3508.2 1275.1h0M3509.6 1280.7h0M3508.5 1284.5h0M3510.9 1290.2h0M3509.3 1294.5h0M3509.6 1298.4h0M3508.7 1304h0M3509.6 1345.8h0M3507.3 1370h0M3508.1 1376.4h0M3509.1 1380.6h0M3513.7 1370.7V1940M3514.2 1320.3h0M3512 1324.9h0M3513.4 1330.5h0M3512.7 1336.4h0M3513.5 1341.6h0M3514.1 1346.4h0M3514.5 1350.5h0M3513.3 1354.2h0M3514.8 1359.8h0M3511.6 1365.7h0M3512.8 1369.7h0M3513.4 1376.1h0M3513 1382h0M3513 1387.8h0M3518.8 1378V1940M3519.7 1264.8h0M3520.8 1269h0M3519.6 1342h0M3518 1346.4h0M3523.9 1391.3V1940M3522.1 1267.7h0M3524.6 1351.9h0M3525 1357.4h0M3528.9 1390.8V1940M3528.2 1384.3h0M3530 1390h0M3527.6 1394.5h0M3533.6 1223.8h0M3533.8 1228.3h0M3532.8 1233.6h0M3535.2 1237.9h0M3533.1 1244.7h0M3534.5 1248.9h0M3534 1363.6V1940M3535.5 1256h0M3535.5 1259.7h0M3532.5 1265.2h0M3534.9 1270.7h0M3533.1 1275.3h0M3532.9 1281.2h0M3536.1 1284.7h0M3535.1 1289.5h0M3533.1 1303.2h0M3536 1307h0M3532 1313.3h0M3533.9 1319.3h0M3534.7 1322.8h0M3532.2 1328.8h0M3532 1333.4h0M3535.5 1339h0M3532.4 1344h0M3534.8 1359.5h0M3533.2 1364.3h0M3534.1 1370.1h0M3534.2 1375h0M3533.8 1379.2h0M3539.9 1168h0M3538.3 1181.2h0M3538.4 1186h0M3540 1190h0M3538.2 1195.4h0M3539.4 1201.8h0M3539 1207.8h0M3538 1213.9h0M3538.5 1220.1h0M3538.2 1224.3h0M3537.8 1228.8h0M3539.4 1235.5h0M3538.9 1240.8h0M3540.3 1245.7h0M3537.8 1250h0M3539 1376.8V1940M3537.6 1254.8h0M3538.7 1261.2h0M3538.1 1266.2h0M3541.2 1290h0M3538.5 1295.9h0M3536.8 1319.8h0M3537.9 1324.5h0M3538.3 1329.1h0M3539.7 1333.8h0M3541.2 1339.3h0M3538.7 1344.9h0M3540.3 1350.8h0M3538.2 1355.4h0M3541.2 1360.3h0M3537.8 1370.2h0M3541.1 1375.5h0M3543.5 1178.9h0M3544.6 1184.6h0M3544.1 1190.2h0M3542.7 1194.3h0M3544.3 1198.9h0M3543.3 1204.1h0M3543.8 1210.2h0M3545.5 1216.1h0M3542.6 1222.9h0M3543.7 1229.7h0M3545.4 1234.8h0M3543.3 1239.6h0M3542.7 1243.7h0M3544.1 1378.9V1940M3544.6 1255.7h0M3542.2 1262.1h0M3543.9 1265.9h0M3544.9 1272.3h0M3543.2 1275.9h0M3549.1 1361.9V1940M3550.4 1248.1h0M3547 1252.6h0M3547.8 1258.2h0M3549.2 1261.8h0M3548.1 1267.1h0M3547.7 1271.2h0M3549.6 1308.8h0M3547.4 1313.4h0M3549.5 1318.4h0M3549.1 1322.1h0M3548.7 1352.6h0M3547 1356.6h0M3547.2 1360.5h0M3550.7 1366.9h0M3554.2 1400.6V1940M3556 1279.9h0M3552.8 1285.3h0M3553 1290.1h0M3554.9 1296.1h0M3554.6 1302.5h0M3556.2 1306.6h0M3555.7 1381.7h0M3555.8 1387.7h0M3552.4 1391.5h0M3553.2 1395.7h0M3552.7 1401.6h0M3559.3 1378.7V1940M3557.4 1279.5h0M3560.4 1284.8h0M3560 1289.7h0M3560.9 1294.2h0M3558.2 1297.9h0M3558.8 1324.3h0M3558.4 1327.8h0M3557.2 1331.6h0M3560.3 1337.3h0M3560.6 1341.9h0M3558 1346.7h0M3558 1350.6h0M3558.2 1356.1h0M3557.7 1361.2h0M3558.5 1365.4h0M3558.5 1369.7h0M3557.3 1374.9h0M3559.2 1380.3h0M3558.9 1385.3h0M3557.2 1390.4h0M3564.3 1337.1V1940M3564 1229.9h0M3563.4 1236.3h0M3564.5 1242.4h0M3564.1 1247.6h0M3563.4 1252.4h0M3563.4 1257.1h0M3562.7 1263.1h0M3563.7 1311h0M3565.7 1347.3h0M3564 1352.6h0M3569.1 1220.1h0M3570.8 1224.2h0M3570.2 1229.3h0M3569.4 1360.7V1940M3568.1 1275.2h0M3568.9 1278.9h0M3570.7 1284.8h0M3569.8 1294.7h0M3567.4 1300.5h0M3571.5 1312.4h0M3571.4 1317.1h0M3567.2 1320.6h0M3574.4 1345.4V1940M3576.6 1285.3h0M3574.5 1289.9h0M3576.2 1336.8h0M3572.5 1342.7h0M3574.7 1347.3h0M3574.6 1353.7h0M3574.5 1358.6h0M3576.1 1362.2h0M3579.5 1396.8V1940M3579.5 1382h0M3579.3 1387h0M3578 1407.8h0M3493.5 1296.9h0M3498.7 1281.3h0M3508.4 1265.8h0M3518.1 1258h0M3529.8 1265.8h0M3541.5 1141.2h0M3551.2 1273.5h0M3560.9 1265.8h0M3566.7 1203.5h0M3574.5 1230.7h0M3579.5 1289.1h0M3506.5 1003.1h0M3505.9 1010.1h0M3506.1 1016.1h0M3506 1019.1h0M3504.9 1024.1h0M3505.6 1028.1h0M3506.3 1035.1h0M3506.2 1038.1h0M3505 1044.1h0M3505.7 1049.1h0M3505.8 1058.1h0M3506 1062.1h0M3506.1 1069.1h0M3506.1 1076.1h0M3506.1 1079.1h0M3505.6 1086.1h0M3505.9 1095.1h0M3505.7 1102.3h0M3541.5 1069.3h0M3542.2 1072.3h0M3542 1083.3h0M3542.2 1086.3h0M3540.7 1090.3h0M3541.2 1095.3h0M3541.5 1102.3h0M3540.8 1116h0M3541 1120h0M3541.3 1131h0M3541.5 1135h0M3541 1146h0M3541.9 1151h0M3541 1156h0M3541.9 1163h0M3542.2 1174h0M3541.8 1185h0M3541.4 1194h0M3542.2 1197h0M3541.3 1200h0M3541.8 1205h0M3541.4 1214h0M3541.9 1223h0M3541.7 1227h0M3541 1233h0M3541.7 1239h0M3541.6 1246h0M3541.6 1257h0M3541.5 1265.8h0M3506.4 1114h0M3506.3 1119h0M3505.3 1126h0M3505 1132h0M3505.5 1136h0M3505.1 1141h0M3506 1146h0M3504.9 1157h0M3505.6 1163h0M3506.2 1168h0M3505.7 1168.5h0M3566.3 1187.9h0M3567.3 1194.9h0M3567 1200.9h0M3566.5 1206.9h0M3566.6 1215.9h0M3566.7 1221.9h0M3567.5 1224.9h0M3566 1227.9h0M3566 1233.9h0M3566.5 1238.9h0M3566.5 1241.9h0M3566.9 1250.9h0M3566.3 1254.9h0M3566.8 1257.9h0M3566.8 1268.9h0M3566.7 1273.5h0M3499.4 929.2h0M3499.4 976.3h0M3573.8 960.3h0M3573.8 972h0M3498.7 1010.1h0M3498.7 1059.5h0M3498.7 1071.2h0M3564.8 1077h0M3575.3 1079h0M3575.3 1086.8h0M3547.3 1092.6h0M3575.3 1105.1h0M3575.3 1130.4h0M3498.7 1125.7h0M3498.7 1137.4h0M3573.8 1162.6h0M3571.4 1169.3h0M3498.7 1168.5h0M3532.9 1179h0M3566.7 1189.9h0M3506.4 1193.8h0M3516.9 1206.2h0M3498.7 1217.9h0M3498.7 1232.7h0M3502.5 1242.4h0M3576.5 1230.7h0M3516.9 1259.9h0M3527.8 1265.8h0M3498.7 1269.6h0"/>
<path stroke="#87CEEB" d="M3606.3 1392.9V1940M3606.3 1385.6h0M3607.4 1391.8h0M3606.3 1395.6h0M3611.3 1390.5V1940M3611.6 1303.8h0M3611 1358.6h0M3611.9 1364h0M3609.1 1397.9h0M3613.1 1401.7h0M3616.2 1393.3V1940M3617.4 1295h0M3614.2 1379.7h0M3615.2 1400.7h0M3615.8 1406.8h0M3621.2 1391.1V1940M3620.9 1310.9h0M3622 1316.1h0M3619.5 1321.3h0M3623.3 1325.7h0M3621.5 1331.4h0M3619.3 1336.9h0M3620.8 1342.7h0M3621.3 1347.1h0M3619.9 1351.1h0M3620.2 1356.8h0M3623 1362.9h0M3621.9 1366.9h0M3619.3 1372.1h0M3623.3 1378.2h0M3621.3 1384.1h0M3623.3 1389.5h0M3622.1 1393h0M3621.7 1398.4h0M3622.7 1403h0M3626.2 1399.8V1940M3626 1326.9h0M3624.7 1333.2h0M3627.5 1347.1h0M3625.2 1353.1h0M3627.9 1357.4h0M3624.3 1363.8h0M3625.7 1368.5h0M3624.9 1373.2h0M3627.7 1378.1h0M3625.7 1382.7h0M3627 1386.2h0M3627.3 1396.5h0M3628.1 1401.5h0M3625.1 1406.6h0M3631.1 1400.3V1940M3633.3 1325.8h0M3632.5 1365.2h0M3630.9 1383.6h0M3632.8 1389.2h0M3631.5 1393.7h0M3630.9 1398.2h0M3630.9 1402.8h0M3636.1 1393.9V1940M3634.8 1290.1h0M3638 1294.1h0M3636.2 1298.6h0M3636.2 1302.4h0M3637.6 1307.3h0M3636.6 1312.8h0M3637.3 1317.9h0M3635.6 1322.8h0M3637.8 1328.8h0M3637.6 1333.2h0M3637 1339.4h0M3635.3 1345.1h0M3637.5 1350.7h0M3636 1357.1h0M3636.3 1362h0M3635.8 1372h0M3634 1377.3h0M3634.5 1383.6h0M3635.4 1389.8h0M3635 1395.4h0M3637.7 1399.2h0M3634.8 1404.8h0M3641.1 1386.1V1940M3640.9 1295.6h0M3640.6 1305.4h0M3641.4 1311.6h0M3641.8 1316.7h0M3641 1322.3h0M3641.6 1327.3h0M3639.4 1340.7h0M3642.9 1346.9h0M3640.4 1351.7h0M3642.8 1355.2h0M3641.2 1390.1h0M3642 1395.1h0M3641.2 1400.5h0M3646.1 1396V1940M3647.7 1277.7h0M3645.8 1283.6h0M3645.2 1289.2h0M3646.9 1315.4h0M3648.2 1321.8h0M3646.3 1328.2h0M3648.2 1333.1h0M3651 1391.7V1940M3649 1280.5h0M3651.6 1285.1h0M3650.8 1290h0M3651.5 1293.7h0M3652.5 1332.1h0M3651.7 1335.9h0M3651.7 1355.1h0M3652 1360.1h0M3651.9 1363.9h0M3652.1 1368.5h0M3648.9 1374.5h0M3651 1378h0M3649.6 1381.6h0M3650.9 1387.8h0M3650.9 1391.6h0M3649.1 1396.6h0M3651.9 1403.1h0M3656 1376.4V1940M3653.9 1270.4h0M3654.3 1275.5h0M3655.3 1305.1h0M3656.3 1310.2h0M3655.7 1347.1h0M3654 1367h0M3654.5 1372.8h0M3655.6 1376.9h0M3657.6 1383.3h0M3657.7 1389.6h0M3657.1 1395.4h0M3661 1384.9V1940M3662.8 1279.9h0M3660.2 1285.7h0M3659.4 1290.7h0M3658.9 1296.1h0M3662.6 1313.6h0M3663.1 1324h0M3661.8 1329.7h0M3660.6 1334.2h0M3662.5 1338h0M3659.7 1346.2h0M3662.5 1350.8h0M3659.7 1356.5h0M3658.9 1362.5h0M3660.1 1366h0M3660.8 1372.5h0M3662 1378.9h0M3659.6 1383.2h0M3661.2 1388.5h0M3660.3 1392.1h0M3660.6 1398.1h0M3665.9 1389.5V1940M3664.7 1284.5h0M3667.4 1289.1h0M3666.3 1359.2h0M3663.8 1365.3h0M3665.6 1371h0M3664.2 1375.3h0M3666.2 1380.7h0M3670.9 1407.3V1940M3670.9 1298.1h0M3669.5 1302.7h0M3670.1 1308.6h0M3670.9 1378.1h0M3670.9 1382h0M3670.9 1386h0M3670.9 1400.5h0M3670.9 1405.2h0M3606.3 1289.1h0M3609.5 1273.5h0M3619.3 1289.1h0M3629 1328h0M3638.7 1273.5h0M3648.5 1273.5h0M3660.1 1269.6h0M3669.9 1281.3h0M3670.9 1328h0M3611.3 1024.5h0M3611.9 1031.5h0M3611.1 1034.5h0M3611.2 1041.5h0M3611.8 1050.5h0M3612 1059.5h0M3611.7 1070.5h0M3612.4 1079.5h0M3612 1086.5h0M3612.5 1095.5h0M3611.4 1100.5h0M3611.9 1110.1h0M3640.7 1026.5h0M3640 1031.5h0M3641.3 1042.5h0M3640.3 1046.5h0M3640.4 1057.5h0M3640.2 1061.5h0M3640.9 1066.5h0M3640.7 1069.5h0M3641.3 1075.5h0M3639.9 1078.5h0M3640.7 1086.8h0M3619.2 1110.1h0M3619.2 1116.1h0M3619.5 1123.1h0M3618.5 1126.1h0M3619.8 1133.1h0M3619.2 1144.1h0M3618.5 1155.1h0M3620 1158.1h0M3619.7 1165.1h0M3619.4 1172.1h0M3619.3 1172.4h0M3655.5 1094.6h0M3655.9 1098.6h0M3655.6 1104.6h0M3656.1 1107.6h0M3656.2 1116.6h0M3656.3 1125.6h0M3655.5 1134.6h0M3655.5 1141.6h0M3656.9 1148.6h0M3655.7 1157.6h0M3655.5 1166.6h0M3655.7 1169.6h0M3656.2 1178.6h0M3656 1187.6h0M3656.4 1193.6h0M3655.6 1196.6h0M3656.4 1200.6h0M3656.6 1207.6h0M3656.9 1210.6h0M3656.3 1215.6h0M3657 1221.6h0M3656.7 1224.6h0M3657 1233.6h0M3656.2 1238.6h0M3656.4 1247.6h0M3656.2 1250.2h0M3609.3 1211.3h0M3609.8 1215.3h0M3608.9 1226.3h0M3609.8 1237.3h0M3609.4 1246.3h0M3610.2 1252.3h0M3609.6 1257.3h0M3609.7 1261.3h0M3609.5 1265.8h0M3664.8 1195.7h0M3663.4 1206.7h0M3664.1 1211.7h0M3664.2 1216.7h0M3664.3 1222.7h0M3664.2 1227.7h0M3663.3 1236.7h0M3663.5 1242.7h0M3663.9 1246.7h0M3664 1250.2h0M3612.7 915.6h0M3640.7 903.9h0M3640.7 913.6h0M3640.7 960.3h0M3611.9 982.9h0M3656.2 1013.2h0M3654.3 1060.7h0M3654.3 1072.4h0M3631.7 1092.6h0M3640.7 1110.1h0M3642.6 1128.8h0M3606.8 1139.3h0M3640.7 1175.5h0M3609.5 1187.9h0M3619.3 1198.8h0M3665.2 1159.9h0M3643.4 1222.2h0M3643.4 1254.1h0M3622 1237.4h0M3640.7 1275.5h0M3629.8 1294.9h0M3623.2 1309.3h0M3640.7 1309.3h0M3632.9 1321h0M3641 894.2h0"/>
<path stroke="#BEBEBE" d="M3697.9 1389.4V1940M3697.9 1376.7h0M3699.8 1381.4h0M3699 1387.6h0M3697.9 1392.3h0M3699.5 1397.5h0M3697.9 1402.2h0M3697.9 1406h0M3702.2 1191.1h0M3703 1196.5h0M3704 1201.7h0M3702.1 1214.7h0M3701.7 1219h0M3704 1223.8h0M3701.4 1236.8h0M3703 1242.3h0M3704 1246.6h0M3702.7 1252.4h0M3702.9 1370.8V1940M3704 1260.9h0M3701.9 1320.9h0M3703.1 1326.9h0M3704.3 1332.2h0M3701 1336h0M3701.2 1342.3h0M3702.9 1347.8h0M3701.5 1354.2h0M3703.8 1360.4h0M3700.9 1364.5h0M3703.3 1369.1h0M3704.9 1374.7h0M3703.6 1378.8h0M3707.2 1154.2h0M3707 1160.6h0M3709.2 1171.9h0M3706.9 1176.6h0M3706.5 1181.2h0M3708.7 1186.5h0M3708.6 1191h0M3707.1 1197.7h0M3708.1 1202.9h0M3707.7 1207.6h0M3709.1 1213h0M3708.7 1218.7h0M3706.3 1241.1h0M3708.6 1245.9h0M3708.7 1251.8h0M3708.3 1256.3h0M3707.8 1376.6V1940M3708.9 1271.6h0M3706.9 1276.7h0M3708.8 1280.7h0M3706.9 1285h0M3707.5 1291h0M3706.3 1294.8h0M3708.8 1299h0M3709.2 1304.4h0M3708.7 1310h0M3706.8 1314.2h0M3709.7 1319.1h0M3708.3 1324.2h0M3709.4 1329.4h0M3707.5 1335.8h0M3706 1341.6h0M3707 1347.4h0M3709.9 1351.6h0M3708.6 1356.4h0M3709.9 1361h0M3706.4 1365.4h0M3708.1 1370.4h0M3708.6 1376.6h0M3708.9 1382.2h0M3714.2 1168.8h0M3711.4 1173.6h0M3711.7 1185.1h0M3712.9 1191.4h0M3711.5 1202.3h0M3713.8 1207.3h0M3712.1 1213.3h0M3712.8 1222.9h0M3712.7 1232.5h0M3711.9 1237h0M3712.3 1242.2h0M3713.7 1248.1h0M3711.4 1252.2h0M3712.8 1375.8V1940M3714.4 1257.1h0M3713.6 1261.1h0M3714.8 1266.6h0M3713.7 1271.6h0M3712.1 1277.3h0M3713.6 1299h0M3712.8 1315.8h0M3713.5 1320.4h0M3712 1324.9h0M3711.5 1329.8h0M3714.7 1333.7h0M3713.9 1338.6h0M3712.4 1344h0M3714.9 1349.5h0M3711.7 1354.3h0M3713.1 1360h0M3711.4 1365.2h0M3714.8 1371.6h0M3712.9 1376.8h0M3719 1207.1h0M3717.6 1211.4h0M3718.2 1218.4h0M3716.3 1223h0M3718 1227.6h0M3717.3 1233.1h0M3716.9 1238.5h0M3717.3 1242.5h0M3716.7 1249.1h0M3717.8 1364.4V1940M3716.6 1258.8h0M3716.9 1262.9h0M3719.4 1268.9h0M3718 1274.6h0M3719.6 1279.9h0M3718.2 1286.1h0M3719.2 1289.7h0M3719.7 1294.6h0M3717.7 1298.1h0M3718.3 1302.9h0M3719.7 1309.3h0M3719.3 1313.1h0M3718.4 1317.3h0M3716 1322.1h0M3718.8 1327.6h0M3718.8 1332.9h0M3716.4 1337.3h0M3719 1341.3h0M3719.3 1347.4h0M3718.6 1353.3h0M3717.3 1358.7h0M3718.5 1363.9h0M3718.9 1368.2h0M3719.6 1372.4h0M3715.8 1376.1h0M3722.7 1368.8V1940M3720.9 1273.8h0M3722.1 1277.9h0M3723.3 1282.7h0M3722.9 1287.8h0M3722.4 1291.5h0M3722.4 1296.9h0M3722.1 1328.4h0M3723.8 1333.6h0M3722.4 1337.7h0M3723.6 1343.5h0M3722 1349.6h0M3722 1353.1h0M3722 1359.4h0M3721.5 1364.2h0M3724.6 1369.7h0M3723 1373.8h0M3727.7 1385.4V1940M3729 1370.2h0M3732.7 1402.6V1940M3733.7 1307.1h0M3733.5 1312.3h0M3731.6 1316.4h0M3731.9 1376.2h0M3731.4 1381.2h0M3730.8 1387.4h0M3732.6 1391.8h0M3731.4 1398.1h0M3732.8 1402.8h0M3732.4 1407.6h0M3737.6 1396.9V1940M3737 1298.7h0M3738.8 1303.9h0M3739.1 1309.7h0M3739.7 1314.3h0M3739.2 1319.2h0M3739.5 1342.1h0M3739.6 1356.7h0M3736 1362.1h0M3736.5 1366.8h0M3736.2 1388.7h0M3737.2 1393.5h0M3737.1 1398.8h0M3739.2 1404.1h0M3742.6 1393V1940M3742.7 1316.6h0M3743.4 1335.2h0M3743.9 1407.5h0M3747.5 1406.4V1940M3748.1 1291.3h0M3749.6 1296.1h0M3745.7 1301.1h0M3748 1305.8h0M3746.9 1312.1h0M3752.5 1371.5V1940M3752.8 1269.5h0M3753.5 1275.5h0M3752.1 1280.3h0M3753.8 1285.3h0M3753.4 1290.7h0M3753 1296.5h0M3750.5 1303h0M3750.7 1308.7h0M3751.5 1314.3h0M3752.1 1318.8h0M3753 1325h0M3751.2 1329.9h0M3750.6 1335.9h0M3750.9 1341h0M3753.8 1346.1h0M3750.7 1350.3h0M3752.7 1356.6h0M3752.4 1362.9h0M3752.5 1367.4h0M3753.6 1372.1h0M3751.7 1378.2h0M3750.9 1383.7h0M3753 1389.3h0M3758.8 1209.7h0M3758 1215.5h0M3758.4 1221.1h0M3756.3 1225.2h0M3756.1 1232.1h0M3757.3 1238.9h0M3758.8 1245.1h0M3757.9 1251.7h0M3757.5 1366.5V1940M3756 1281.1h0M3755.6 1345.2h0M3762.6 1212.2h0M3762.8 1224.5h0M3762.8 1229.3h0M3762.8 1241.1h0M3763 1245.2h0M3763.1 1250.4h0M3762.4 1363.6V1940M3761 1258.9h0M3762.9 1263.3h0M3760.4 1277.2h0M3762.9 1282.1h0M3764.6 1287.6h0M3761.6 1293h0M3761.3 1297.8h0M3761.2 1302.6h0M3760.7 1306.7h0M3764.6 1312.6h0M3764.4 1333.8h0M3764 1338.1h0M3762.2 1343.8h0M3762.7 1350h0M3763.6 1353.9h0M3763.6 1358h0M3767.4 1372.4V1940M3767.4 1260h0M3767.4 1264h0M3766.3 1293.6h0M3767.4 1297.4h0M3767.4 1302.4h0M3767.4 1307.6h0M3767.4 1316.8h0M3767.4 1322.8h0M3767.4 1327.2h0M3767.4 1333h0M3765.3 1339h0M3767.4 1345.5h0M3766.1 1349.4h0M3766.8 1353.4h0M3767.1 1357.9h0M3767.4 1361.6h0M3767.3 1366.1h0M3765.7 1371.2h0M3766.1 1376.3h0M3766.9 1382.1h0M3697.9 1328h0M3699 1258h0M3704.9 1149h0M3714.6 1164.6h0M3722.4 1250.2h0M3730.2 1273.5h0M3741.8 1312.5h0M3751.6 1273.5h0M3759.4 1187.9h0M3767.1 1242.4h0M3744.9 1028.4h0M3744.5 1037.4h0M3745.1 1043.4h0M3744.9 1049.4h0M3745.6 1052.4h0M3744.6 1058.4h0M3744.9 1062.4h0M3745.2 1068.4h0M3745.4 1071.4h0M3745 1075.1h0M3760.1 1102.3h0M3759 1111.3h0M3759.9 1115.3h0M3759 1119.3h0M3759.7 1124.3h0M3759.9 1131.3h0M3759.7 1134.3h0M3759.5 1141.3h0M3759.4 1145.1h0M3703.6 1156.8h0M3704.1 1160.8h0M3703.7 1165.8h0M3702.9 1176.8h0M3703.4 1182.8h0M3704.3 1188.8h0M3703.2 1194.8h0M3703.5 1199.8h0M3703.5 1210.8h0M3703.1 1215.8h0M3703.9 1218.8h0M3704.3 1224.8h0M3703 1227.8h0M3703.7 1232.8h0M3704 1235.8h0M3703.6 1242.8h0M3703.1 1246.8h0M3703.7 1250.2h0M3759.8 1187.9h0M3759.1 1190.9h0M3760.1 1199.9h0M3758.8 1208.9h0M3759.4 1212.9h0M3758.9 1221.9h0M3760.1 1224.9h0M3759.2 1235.9h0M3759.7 1239.9h0M3760 1250.9h0M3759.9 1253.9h0M3758.9 1262.9h0M3759.4 1273.5h0M3760.1 940.9h0M3745 966.9h0M3745 979.8h0M3716.6 982.9h0M3745 1006.2h0M3704.1 1028.4h0M3745 1090.7h0M3745 1098.4h0M3754.7 1123.7h0M3704.1 1139.3h0M3716.6 1142h0M3716.6 1151h0M3764 1172.4h0M3745 1187.9h0M3741.8 1200.8h0M3716.6 1180.2h0M3720.4 1203.5h0M3732.1 1217.1h0M3741.8 1221h0M3732.1 1243.6h0M3741.8 1238.5h0M3741.8 1252.1h0M3734.1 1258h0M3742.6 1278.2h0M3753.5 1242.4h0"/>
<path stroke="#87CEEB" d="M3810.5 1331.7V1940M3812.4 1229.4h0M3810.5 1257.8h0M3810.5 1261.5h0M3810.5 1267.6h0M3810.5 1271.8h0M3810.5 1275.9h0M3810.5 1279.9h0M3810.5 1283.4h0M3810.5 1288.1h0M3812.5 1303.5h0M3812.6 1308.9h0M3810.9 1314h0M3810.5 1317.8h0M3810.5 1322h0M3810.5 1327.2h0M3810.9 1331.5h0M3810.6 1335.7h0M3814.9 1184.6h0M3815 1190.6h0M3815.2 1197.3h0M3815 1202.9h0M3815.8 1320.1V1940M3816.7 1240.5h0M3816.3 1287.4h0M3816.9 1291.6h0M3816.1 1297.4h0M3817.8 1301.7h0M3817.5 1307.2h0M3814.9 1313.6h0M3815 1317.7h0M3817.9 1322h0M3821.3 1153.9h0M3821.6 1159.2h0M3819.7 1164.4h0M3819.8 1169.3h0M3821.6 1176h0M3821.8 1183h0M3821.7 1188.8h0M3819.8 1195.7h0M3820.2 1202.7h0M3821.1 1324V1940M3819.3 1213.7h0M3820.2 1217.4h0M3821.6 1223.8h0M3821.5 1228.3h0M3820.5 1234.4h0M3821.1 1250.5h0M3822.7 1256.4h0M3819.6 1262h0M3822.5 1267.2h0M3821.5 1271h0M3820.6 1276.5h0M3821.9 1281.2h0M3819.6 1285.4h0M3819.4 1291h0M3820.1 1319.6h0M3819.3 1323.5h0M3821.6 1327.5h0M3827.3 1141.9h0M3825.3 1151.4h0M3826.8 1156.6h0M3825.9 1161.4h0M3825.6 1166.2h0M3827.2 1172.9h0M3826.3 1179.7h0M3826.5 1185.6h0M3826.6 1190.9h0M3825.3 1197.1h0M3826.6 1202.5h0M3826.4 1313.3V1940M3828.5 1207.5h0M3827.8 1213h0M3825.1 1218.5h0M3824.5 1222.4h0M3824.8 1226.5h0M3824.4 1259.5h0M3831.6 1318.6V1940M3831.2 1244.7h0M3830.8 1249.9h0M3830.9 1254.8h0M3832.4 1264h0M3830.8 1270h0M3830.9 1302.9h0M3831 1307.2h0M3832.7 1316.5h0M3831.5 1322.2h0M3832.5 1327.6h0M3836.9 1358.9V1940M3836.1 1268.9h0M3837.8 1274.6h0M3835 1292h0M3837.9 1296.6h0M3835.8 1301.1h0M3838.4 1306h0M3836.8 1311.1h0M3838.7 1314.6h0M3835.4 1319.6h0M3838.2 1323.1h0M3837.3 1329.6h0M3842.2 1394.7V1940M3840.9 1272.7h0M3840.6 1307.2h0M3844 1327.7h0M3842.4 1332.1h0M3844.3 1336.4h0M3844 1342.2h0M3847.5 1406.9V1940M3845.8 1336.7h0M3847.5 1347.2h0M3847.1 1366.8h0M3845.5 1371.7h0M3846.1 1376.1h0M3845.8 1379.6h0M3847.5 1384.6h0M3847.5 1390.9h0M3846.1 1395.5h0M3846.6 1399.1h0M3846.3 1404.1h0M3810.5 1366.9h0M3810.5 1230.7h0M3813.8 1187.9h0M3825.5 1133.5h0M3833.3 1211.3h0M3839.1 1250.2h0M3845 1289.1h0M3847.5 1386.4h0M3824.8 1133.5h0M3824.9 1139.5h0M3825.5 1144.5h0M3825.4 1148.5h0M3826.2 1155.5h0M3825.8 1164.5h0M3825.7 1173.5h0M3826.1 1180.5h0M3825.2 1183.5h0M3825.9 1186.5h0M3825.4 1190.5h0M3824.7 1195.5h0M3826.1 1202.5h0M3825.7 1209.5h0M3825.5 1211.3h0M3825.1 1102.3h0M3837.2 1116.7h0M3831.3 1133.5h0M3813.8 1189.9h0M3839.1 1209.3h0M3841.1 1215.2h0M3841.1 1254.1h0M3808.8 1899.6h0M3809.5 1885h0"/>
<path stroke="#BEBEBE" d="M3893.3 1162.2h0M3891.8 1168.5h0M3891.9 1174h0M3891.1 1179h0M3890.9 1185h0M3892 1191.7h0M3893 1198.4h0M3892.4 1205.3h0M3891.8 1328V1940M3892.7 1211.9h0M3891.8 1244.4h0M3893.5 1318.8h0M3891.8 1323.6h0M3891.8 1328.8h0M3893.6 1333h0M3898.1 1178.8h0M3897.3 1183.2h0M3895.2 1188.3h0M3897.9 1193.1h0M3895.7 1198.3h0M3896.5 1202.7h0M3897.1 1208h0M3896.6 1321.5V1940M3897.4 1211.7h0M3897.6 1217.1h0M3896.2 1221.5h0M3895.1 1225.6h0M3897.4 1229.4h0M3897.3 1235.1h0M3895.7 1241.5h0M3898.5 1246.2h0M3895.2 1249.7h0M3898.3 1253.8h0M3895.8 1259.1h0M3894.7 1264.4h0M3897.9 1269h0M3896.8 1287h0M3896.9 1293.1h0M3896.9 1298.4h0M3898.3 1302h0M3895.5 1306.9h0M3895.8 1310.5h0M3897.5 1316.2h0M3897.6 1322.3h0M3897.6 1326.9h0M3897.9 1331.2h0M3895.2 1334.9h0M3901.4 1322.5V1940M3902 1202.5h0M3901.5 1206.1h0M3902.2 1268.2h0M3902.5 1274.2h0M3902.2 1278.1h0M3903.2 1283.8h0M3900.4 1288.6h0M3900.5 1292.5h0M3901.8 1297.5h0M3900.9 1301.8h0M3900 1308.2h0M3900.3 1317.6h0M3906.2 1366.6V1940M3907.2 1254.1h0M3904.9 1259.1h0M3906.7 1264.1h0M3905.9 1270h0M3904.8 1274.7h0M3906.3 1280.9h0M3908.1 1284.8h0M3906 1290.1h0M3907.3 1295.5h0M3905.2 1299.9h0M3904.7 1306.1h0M3906.9 1311.6h0M3904.1 1316.7h0M3905.5 1323.1h0M3905.6 1329.4h0M3906.9 1334.5h0M3905.9 1340.8h0M3906.7 1345.1h0M3906.6 1349h0M3905.1 1353.7h0M3907.9 1360.2h0M3908.2 1363.7h0M3904.7 1368.5h0M3906.8 1373.9h0M3911.1 1381.7V1940M3913 1260.1h0M3910.9 1308.6h0M3911.2 1358.4h0M3912.7 1362.2h0M3909.7 1366.8h0M3912.7 1371.1h0M3910.8 1375h0M3915.9 1350.9V1940M3916.9 1242.4h0M3915.6 1248.6h0M3914.8 1254.9h0M3917.9 1259.8h0M3915.5 1265h0M3916.4 1270.8h0M3914.4 1310.8h0M3915.9 1316h0M3914.3 1321.5h0M3915.5 1325.3h0M3914.2 1330.2h0M3914.6 1336.5h0M3914.4 1340.1h0M3917.4 1345.3h0M3915.1 1350.3h0M3915.3 1355.2h0M3913.8 1359.6h0M3915 1363.6h0M3920.7 1318.7V1940M3919.4 1241.9h0M3920 1248h0M3921.5 1253h0M3920.4 1256.5h0M3918.7 1262.4h0M3922.3 1278.3h0M3920.6 1294.4h0M3920.2 1299.8h0M3922.1 1303.8h0M3921.1 1314.6h0M3922.3 1319.9h0M3922.4 1324.1h0M3925.5 1329.6V1940M3924.2 1224.2h0M3926 1228.5h0M3926.6 1234h0M3925.3 1243.8h0M3925.2 1248.9h0M3927 1253.8h0M3925.7 1259.6h0M3926.4 1263.9h0M3927.2 1269.2h0M3927.3 1272.8h0M3925.3 1278h0M3927.4 1283.5h0M3923.9 1287.9h0M3927.6 1291.8h0M3925.5 1297.1h0M3925.3 1303.4h0M3926 1308h0M3923.6 1312.9h0M3924.7 1318.8h0M3925.7 1323.5h0M3925.6 1329.2h0M3923.7 1333.1h0M3924 1338.6h0M3924.3 1344.7h0M3930.3 1397.6V1940M3930.3 1308.2h0M3929.8 1314.7h0M3930.3 1390.2h0M3928.7 1395.1h0M3930.2 1400.7h0M3930.3 1406h0M3891.8 1289.1h0M3891.8 1156.8h0M3899.4 1172.4h0M3905.3 1250.2h0M3913.1 1258h0M3922.8 1180.2h0M3930.3 1289.1h0M3891.2 1156.8h0M3891.4 1165.8h0M3892.1 1170.8h0M3891.1 1174.8h0M3892.4 1181.8h0M3892.5 1188.8h0M3891.4 1191.8h0M3891.1 1196.8h0M3891.4 1207.8h0M3891.9 1218.8h0M3892 1224.8h0M3891.2 1233.8h0M3891.8 1242.8h0M3892.1 1246.8h0M3892 1257.8h0M3891.6 1263.8h0M3892.4 1270.8h0M3892.5 1276.8h0M3891.1 1281.8h0M3891.5 1284.8h0M3891.2 1287.8h0M3891.8 1289.1h0M3922.5 1187.9h0M3922.6 1191.9h0M3922.2 1196.9h0M3923 1199.9h0M3922.2 1208.9h0M3922 1214.9h0M3923.5 1219.9h0M3922.9 1230.9h0M3922.3 1234.9h0M3922.9 1239.9h0M3922.8 1242.4h0M3923.6 927.2h0M3923.6 933.1h0M3892.8 977h0M3923.6 975.9h0M3923.6 1002.3h0M3923.6 1040.1h0M3923.6 1063.4h0M3892.8 1090.7h0M3923.6 1110.1h0M3897.5 1153.7h0M3923.6 1156.8h0M3923.6 1167.7h0M3892.8 1172.4h0M3903.3 1180.2h0M3912.3 1178.2h0"/>
<path fill="#87CEEB" d="M2150 1300H2159.5L2167 1926H2150ZM2183 1300H2195V1926H2178.8Z"/>
<path stroke="#87CEEB" d="M2189.3 1305h0M2188.2 1321.8h0M2155.5 1328.5h0M2155.5 1339.4h0M2189.5 1361.1h0M2188.3 1391.5h0M2154.9 1406.1h0M2188.6 1427.1h0M2187.6 1438.9h0M2186.8 1452.5h0M2186.6 1481h0M2185.8 1490.9h0M2157.6 1505.3h0M2188.6 1510.3h0M2157.8 1517.2h0M2156.7 1529.1h0M2187.1 1534.1h0M2157.9 1546.3h0M2187.5 1551.3h0M2158.5 1559.9h0M2188.1 1564.9h0M2157.6 1577.3h0M2158.9 1597.9h0M2159 1635.2h0M2185.1 1640.2h0M2185.6 1650.7h0M2186.1 1690.4h0M2159.4 1700.8h0M2160.3 1717.5h0M2185.3 1722.5h0M2158.5 1737.2h0M2158.3 1753.5h0M2185.8 1758.5h0M2158.6 1775.1h0M2186.3 1780.1h0M2183.8 1792.5h0M2160.1 1803.4h0M2183.8 1829.4h0M2159.2 1833.9h0M2186.2 1838.9h0M2159.9 1851.6h0M2183.4 1856.6h0M2161.3 1864.3h0M2183.5 1869.3h0M2183.5 1889.1h0M2161 1897.1h0M2183.7 1916.5h0"/>
</g>
<circle cx="1139.3" cy="247.3" r="13.5" fill="#00CD00"/>
<circle cx="1139.3" cy="344.6" r="13.5" fill="#00CD00"/>
<path d="M186 398.2H3981" stroke="#000" stroke-width="5.8" stroke-dasharray="23 7.93" fill="none"/>
<path d="M187 36V1927" stroke="#000" stroke-width="4" fill="none"/>
<path d="M170 1925H187M170 1506.8H187M170 1088.5H187M170 670.2H187M170 252H187" stroke="#000" stroke-width="4" fill="none"/>
<g font-family="Liberation Sans, sans-serif" fill="#000">
<text x="152.6" y="1947.2" font-size="62.8" text-anchor="end">0</text>
<text x="152.6" y="1529" font-size="62.8" text-anchor="end">2</text>
<text x="152.6" y="1110.7" font-size="62.8" text-anchor="end">4</text>
<text x="152.6" y="692.5" font-size="62.8" text-anchor="end">6</text>
<text x="152.6" y="274.2" font-size="62.8" text-anchor="end">8</text>
<text x="350.5" y="2004" font-size="62" text-anchor="middle">1</text>
<text x="645.4" y="2004" font-size="62" text-anchor="middle">2</text>
<text x="914.7" y="2004" font-size="62" text-anchor="middle">3</text>
<text x="1152.7" y="2004" font-size="62" text-anchor="middle">4</text>
<text x="1382.6" y="2004" font-size="62" text-anchor="middle">5</text>
<text x="1602.2" y="2004" font-size="62" text-anchor="middle">6</text>
<text x="1809.2" y="2004" font-size="62" text-anchor="middle">7</text>
<text x="2003.3" y="2004" font-size="62" text-anchor="middle">8</text>
<text x="2188" y="2004" font-size="62" text-anchor="middle">9</text>
<text x="2368.3" y="2004" font-size="62" text-anchor="middle" letter-spacing="4">10</text>
<text x="2542.8" y="2004" font-size="62" text-anchor="middle" letter-spacing="4">11</text>
<text x="2716.4" y="2004" font-size="62" text-anchor="middle" letter-spacing="4">12</text>
<text x="2880.5" y="2004" font-size="62" text-anchor="middle" letter-spacing="4">13</text>
<text x="3027.8" y="2004" font-size="62" text-anchor="middle" letter-spacing="4">14</text>
<text x="3170.2" y="2004" font-size="62" text-anchor="middle" letter-spacing="4">15</text>
<text x="3303.3" y="2004" font-size="62" text-anchor="middle" letter-spacing="4">16</text>
<text x="3422.4" y="2004" font-size="62" text-anchor="middle" letter-spacing="4">17</text>
<text x="3537.6" y="2004" font-size="62" text-anchor="middle" letter-spacing="4">18</text>
<text x="3640.9" y="2004" font-size="62" text-anchor="middle" letter-spacing="4">19</text>
<text x="3732.7" y="2004" font-size="62" text-anchor="middle" letter-spacing="4">20</text>
<text x="3819.7" y="2004" font-size="62" text-anchor="middle" letter-spacing="4">21</text>
<text x="3902.3" y="2004" font-size="62" text-anchor="middle" letter-spacing="4">22</text>
<text x="2084.8" y="2081" font-size="62" text-anchor="middle" textLength="392" lengthAdjust="spacing">Chromosome</text>
<text transform="translate(79.3 980.7) rotate(-90)" font-size="62" text-anchor="middle" textLength="466" lengthAdjust="spacing">−log<tspan font-size="43" dy="9">10</tspan><tspan dy="-9"> (p value)</tspan></text>
</g>
</svg>
</body></html>
